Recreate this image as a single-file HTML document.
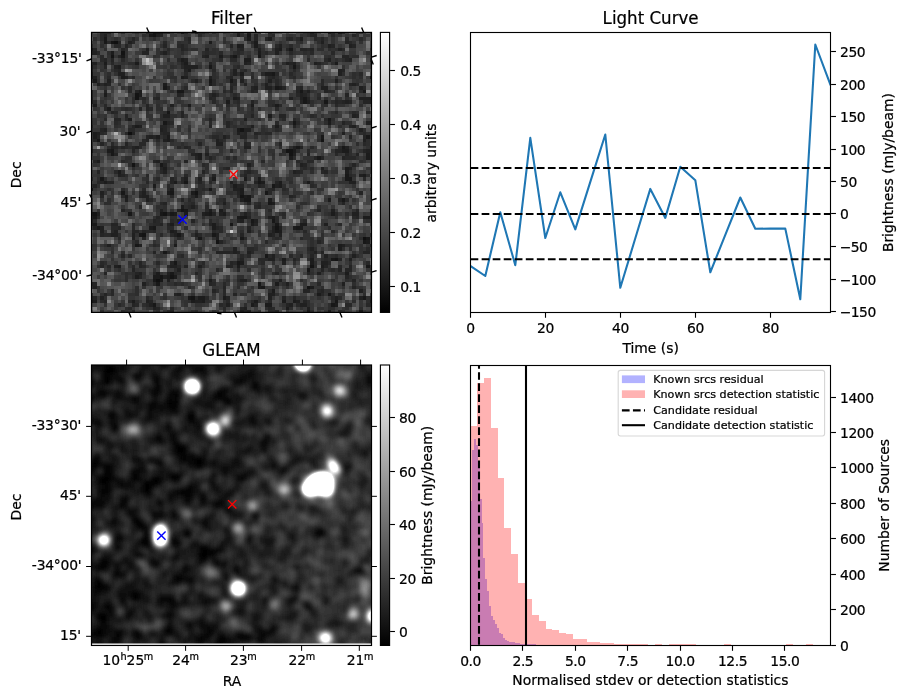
<!DOCTYPE html><html><head><meta charset="utf-8"><title>Candidate</title><style>html,body{margin:0;padding:0;background:#fff}svg{display:block}text{font-family:'DejaVu Sans','Liberation Sans',sans-serif;fill:#000;stroke:#000;stroke-width:0.22px}.t{font-size:13.89px}.T{font-size:16.67px}.l{font-size:11.11px}.s{font-size:9.72px}.n{letter-spacing:-0.45px}.w{letter-spacing:-0.22px}</style></head><body>
<svg width="907" height="699" viewBox="0 0 907 699">
<rect width="907" height="699" fill="#fff"/>
<defs><clipPath id="c1"><rect x="91.5" y="32.4" width="280.0" height="280.0"/></clipPath></defs>
<g clip-path="url(#c1)"><g transform="translate(89.5,30.4) scale(3.5)" shape-rendering="crispEdges">
<rect width="81" height="81" fill="#3c3c3c"/>
<path fill="#101010" d="M7 3h1v1h-1zM11 29h1v1h-1zM78 59h1v1h-1zM19 71h1v1h-1z"/>
<path fill="#141414" d="M18 0h1v1h-1zM18 1h1v1h-1zM6 3h1v1h-1zM9 6h1v1h-1zM6 7h1v1h-1zM13 18h1v1h-1zM13 19h1v1h-1zM43 28h1v1h-1zM66 31h1v1h-1zM56 34h1v1h-1zM57 34h1v1h-1zM57 35h1v1h-1zM12 38h1v1h-1zM0 45h1v1h-1zM30 46h1v1h-1zM43 47h1v1h-1zM26 51h1v1h-1zM1 52h1v1h-1zM21 52h1v1h-1zM53 56h1v1h-1zM15 58h1v1h-1zM36 60h1v1h-1zM70 65h1v1h-1zM63 67h1v1h-1zM20 70h1v1h-1zM23 70h1v1h-1zM62 73h1v1h-1zM29 76h1v1h-1z"/>
<path fill="#181818" d="M19 0h1v1h-1zM26 0h1v1h-1zM17 1h1v1h-1zM45 1h1v1h-1zM4 2h1v1h-1zM4 3h1v1h-1zM0 5h1v1h-1zM57 5h1v1h-1zM9 7h1v1h-1zM41 7h1v1h-1zM48 7h1v1h-1zM34 10h1v1h-1zM58 10h1v1h-1zM0 12h1v1h-1zM52 12h1v1h-1zM0 13h1v1h-1zM80 13h1v1h-1zM1 14h1v1h-1zM34 14h1v1h-1zM40 14h1v1h-1zM21 16h1v1h-1zM53 16h1v1h-1zM25 17h1v1h-1zM26 17h1v1h-1zM60 17h1v1h-1zM78 17h1v1h-1zM61 19h1v1h-1zM61 20h1v1h-1zM67 20h1v1h-1zM22 23h1v1h-1zM68 25h1v1h-1zM21 26h1v1h-1zM58 26h1v1h-1zM66 30h1v1h-1zM79 30h1v1h-1zM2 31h1v1h-1zM59 33h1v1h-1zM72 33h1v1h-1zM6 34h1v1h-1zM6 35h1v1h-1zM65 36h1v1h-1zM20 38h1v1h-1zM73 41h1v1h-1zM3 42h1v1h-1zM73 42h1v1h-1zM74 42h1v1h-1zM27 43h1v1h-1zM48 43h1v1h-1zM52 44h1v1h-1zM34 45h1v1h-1zM9 46h1v1h-1zM23 46h1v1h-1zM50 46h1v1h-1zM45 47h1v1h-1zM44 48h1v1h-1zM45 48h1v1h-1zM72 48h1v1h-1zM51 49h1v1h-1zM27 51h1v1h-1zM0 52h1v1h-1zM11 52h1v1h-1zM20 52h1v1h-1zM23 52h1v1h-1zM34 52h1v1h-1zM80 52h1v1h-1zM1 53h1v1h-1zM43 53h1v1h-1zM44 53h1v1h-1zM46 54h1v1h-1zM52 54h1v1h-1zM1 55h1v1h-1zM40 55h1v1h-1zM53 55h1v1h-1zM2 56h1v1h-1zM18 56h1v1h-1zM59 56h1v1h-1zM53 57h1v1h-1zM14 58h1v1h-1zM25 58h1v1h-1zM35 58h1v1h-1zM31 59h1v1h-1zM43 59h1v1h-1zM79 59h1v1h-1zM78 60h1v1h-1zM13 61h1v1h-1zM21 63h1v1h-1zM50 64h1v1h-1zM69 65h1v1h-1zM24 66h1v1h-1zM42 66h1v1h-1zM79 67h1v1h-1zM62 68h1v1h-1zM23 69h1v1h-1zM18 71h1v1h-1zM20 71h1v1h-1zM19 72h1v1h-1zM48 72h1v1h-1zM49 73h1v1h-1zM68 75h1v1h-1zM28 76h1v1h-1zM78 76h1v1h-1zM0 77h1v1h-1zM70 77h1v1h-1zM18 78h1v1h-1zM69 78h1v1h-1zM62 80h1v1h-1zM77 80h1v1h-1z"/>
<path fill="#1c1c1c" d="M20 0h1v1h-1zM71 0h1v1h-1zM42 1h1v1h-1zM45 2h1v1h-1zM51 2h1v1h-1zM60 2h1v1h-1zM34 3h1v1h-1zM47 3h1v1h-1zM42 4h1v1h-1zM47 4h1v1h-1zM54 5h1v1h-1zM6 6h1v1h-1zM48 6h1v1h-1zM37 7h1v1h-1zM26 8h1v1h-1zM44 8h1v1h-1zM45 8h1v1h-1zM4 9h1v1h-1zM13 9h1v1h-1zM27 9h1v1h-1zM70 9h1v1h-1zM0 10h1v1h-1zM8 10h1v1h-1zM28 11h1v1h-1zM43 12h1v1h-1zM50 12h1v1h-1zM51 12h1v1h-1zM9 13h1v1h-1zM26 13h1v1h-1zM21 15h1v1h-1zM34 15h1v1h-1zM54 16h1v1h-1zM14 17h1v1h-1zM4 18h1v1h-1zM14 18h1v1h-1zM41 19h1v1h-1zM39 20h1v1h-1zM1 21h1v1h-1zM28 21h1v1h-1zM46 21h1v1h-1zM53 21h1v1h-1zM5 22h1v1h-1zM51 24h1v1h-1zM11 25h1v1h-1zM68 26h1v1h-1zM13 27h1v1h-1zM53 27h1v1h-1zM42 28h1v1h-1zM1 29h1v1h-1zM1 30h1v1h-1zM19 30h1v1h-1zM22 30h1v1h-1zM22 31h1v1h-1zM0 34h1v1h-1zM5 34h1v1h-1zM58 34h1v1h-1zM72 34h1v1h-1zM73 34h1v1h-1zM31 35h1v1h-1zM79 35h1v1h-1zM31 36h1v1h-1zM57 36h1v1h-1zM79 36h1v1h-1zM2 37h1v1h-1zM21 39h1v1h-1zM73 39h1v1h-1zM8 40h1v1h-1zM73 40h1v1h-1zM78 41h1v1h-1zM35 42h1v1h-1zM44 42h1v1h-1zM48 42h1v1h-1zM4 43h1v1h-1zM24 43h1v1h-1zM49 43h1v1h-1zM54 43h1v1h-1zM62 43h1v1h-1zM18 44h1v1h-1zM41 44h1v1h-1zM54 44h1v1h-1zM23 45h1v1h-1zM43 45h1v1h-1zM22 46h1v1h-1zM29 46h1v1h-1zM43 46h1v1h-1zM10 47h1v1h-1zM30 47h1v1h-1zM44 47h1v1h-1zM51 48h1v1h-1zM68 48h1v1h-1zM52 49h1v1h-1zM26 50h1v1h-1zM34 51h1v1h-1zM37 51h1v1h-1zM24 52h1v1h-1zM27 52h1v1h-1zM33 52h1v1h-1zM38 52h1v1h-1zM69 52h1v1h-1zM42 53h1v1h-1zM52 53h1v1h-1zM78 53h1v1h-1zM79 53h1v1h-1zM80 53h1v1h-1zM0 55h1v1h-1zM23 55h1v1h-1zM35 55h1v1h-1zM46 55h1v1h-1zM60 55h1v1h-1zM61 55h1v1h-1zM17 56h1v1h-1zM35 56h1v1h-1zM58 56h1v1h-1zM60 56h1v1h-1zM23 57h1v1h-1zM54 57h1v1h-1zM79 60h1v1h-1zM24 61h1v1h-1zM71 61h1v1h-1zM71 62h1v1h-1zM55 65h1v1h-1zM63 65h1v1h-1zM43 66h1v1h-1zM63 66h1v1h-1zM8 67h1v1h-1zM42 67h1v1h-1zM66 67h1v1h-1zM19 69h1v1h-1zM73 69h1v1h-1zM13 70h1v1h-1zM18 70h1v1h-1zM19 70h1v1h-1zM22 70h1v1h-1zM24 70h1v1h-1zM34 71h1v1h-1zM53 72h1v1h-1zM48 73h1v1h-1zM63 73h1v1h-1zM52 74h1v1h-1zM65 75h1v1h-1zM31 76h1v1h-1zM32 76h1v1h-1zM38 76h1v1h-1zM1 77h1v1h-1zM12 77h1v1h-1zM29 77h1v1h-1zM32 77h1v1h-1zM47 77h1v1h-1zM55 77h1v1h-1zM58 77h1v1h-1zM80 77h1v1h-1zM46 78h1v1h-1zM50 78h1v1h-1zM51 78h1v1h-1zM70 78h1v1h-1zM56 79h1v1h-1zM43 80h1v1h-1zM68 80h1v1h-1z"/>
<path fill="#202020" d="M30 0h1v1h-1zM42 0h1v1h-1zM45 0h1v1h-1zM63 0h1v1h-1zM68 0h1v1h-1zM4 1h1v1h-1zM19 1h1v1h-1zM11 3h1v1h-1zM66 3h1v1h-1zM43 4h1v1h-1zM54 4h1v1h-1zM68 4h1v1h-1zM74 4h1v1h-1zM16 5h1v1h-1zM48 5h1v1h-1zM53 5h1v1h-1zM71 5h1v1h-1zM0 6h1v1h-1zM1 6h1v1h-1zM21 6h1v1h-1zM53 6h1v1h-1zM33 7h1v1h-1zM40 7h1v1h-1zM27 8h1v1h-1zM68 8h1v1h-1zM74 8h1v1h-1zM1 9h1v1h-1zM44 9h1v1h-1zM56 9h1v1h-1zM58 9h1v1h-1zM64 9h1v1h-1zM7 10h1v1h-1zM27 10h1v1h-1zM28 10h1v1h-1zM29 10h1v1h-1zM30 10h1v1h-1zM0 11h1v1h-1zM41 11h1v1h-1zM71 11h1v1h-1zM8 12h1v1h-1zM9 12h1v1h-1zM41 12h1v1h-1zM71 12h1v1h-1zM1 13h1v1h-1zM10 13h1v1h-1zM27 13h1v1h-1zM34 13h1v1h-1zM5 14h1v1h-1zM30 14h1v1h-1zM43 14h1v1h-1zM51 14h1v1h-1zM70 14h1v1h-1zM2 15h1v1h-1zM4 15h1v1h-1zM50 15h1v1h-1zM75 15h1v1h-1zM47 16h1v1h-1zM50 16h1v1h-1zM51 16h1v1h-1zM66 16h1v1h-1zM67 16h1v1h-1zM77 16h1v1h-1zM62 17h1v1h-1zM35 18h1v1h-1zM60 18h1v1h-1zM0 19h1v1h-1zM42 19h1v1h-1zM57 19h1v1h-1zM60 19h1v1h-1zM77 19h1v1h-1zM78 19h1v1h-1zM79 19h1v1h-1zM80 19h1v1h-1zM0 20h1v1h-1zM62 20h1v1h-1zM73 20h1v1h-1zM23 21h1v1h-1zM21 24h1v1h-1zM22 24h1v1h-1zM75 24h1v1h-1zM44 25h1v1h-1zM79 26h1v1h-1zM14 27h1v1h-1zM46 27h1v1h-1zM75 27h1v1h-1zM4 28h1v1h-1zM20 28h1v1h-1zM44 28h1v1h-1zM45 28h1v1h-1zM77 28h1v1h-1zM2 29h1v1h-1zM42 29h1v1h-1zM72 29h1v1h-1zM17 30h1v1h-1zM38 30h1v1h-1zM21 31h1v1h-1zM36 31h1v1h-1zM78 31h1v1h-1zM36 32h1v1h-1zM37 32h1v1h-1zM6 33h1v1h-1zM13 33h1v1h-1zM44 33h1v1h-1zM45 33h1v1h-1zM58 33h1v1h-1zM73 33h1v1h-1zM79 34h1v1h-1zM30 35h1v1h-1zM33 35h1v1h-1zM58 35h1v1h-1zM19 37h1v1h-1zM45 38h1v1h-1zM60 38h1v1h-1zM66 39h1v1h-1zM74 39h1v1h-1zM21 40h1v1h-1zM58 40h1v1h-1zM8 41h1v1h-1zM77 41h1v1h-1zM27 42h1v1h-1zM31 42h1v1h-1zM40 43h1v1h-1zM74 43h1v1h-1zM75 43h1v1h-1zM53 44h1v1h-1zM41 45h1v1h-1zM42 45h1v1h-1zM80 45h1v1h-1zM3 46h1v1h-1zM15 46h1v1h-1zM15 47h1v1h-1zM16 47h1v1h-1zM10 48h1v1h-1zM16 48h1v1h-1zM43 48h1v1h-1zM38 49h1v1h-1zM29 50h1v1h-1zM20 51h1v1h-1zM25 51h1v1h-1zM69 51h1v1h-1zM2 52h1v1h-1zM32 52h1v1h-1zM37 52h1v1h-1zM44 52h1v1h-1zM75 52h1v1h-1zM76 52h1v1h-1zM0 53h1v1h-1zM51 53h1v1h-1zM0 54h1v1h-1zM43 54h1v1h-1zM47 54h1v1h-1zM67 55h1v1h-1zM1 56h1v1h-1zM3 56h1v1h-1zM52 56h1v1h-1zM54 56h1v1h-1zM3 57h1v1h-1zM7 57h1v1h-1zM24 57h1v1h-1zM45 57h1v1h-1zM52 57h1v1h-1zM6 58h1v1h-1zM7 58h1v1h-1zM12 58h1v1h-1zM24 58h1v1h-1zM30 58h1v1h-1zM36 58h1v1h-1zM51 58h1v1h-1zM54 58h1v1h-1zM12 59h1v1h-1zM36 59h1v1h-1zM5 61h1v1h-1zM14 61h1v1h-1zM72 61h1v1h-1zM41 62h1v1h-1zM63 62h1v1h-1zM41 63h1v1h-1zM45 63h1v1h-1zM64 63h1v1h-1zM52 64h1v1h-1zM67 64h1v1h-1zM75 64h1v1h-1zM51 65h1v1h-1zM52 65h1v1h-1zM74 65h1v1h-1zM55 66h1v1h-1zM66 66h1v1h-1zM67 66h1v1h-1zM7 67h1v1h-1zM23 67h1v1h-1zM24 67h1v1h-1zM31 67h1v1h-1zM25 68h1v1h-1zM14 69h1v1h-1zM22 69h1v1h-1zM65 69h1v1h-1zM21 70h1v1h-1zM22 71h1v1h-1zM43 71h1v1h-1zM44 71h1v1h-1zM54 71h1v1h-1zM15 72h1v1h-1zM56 72h1v1h-1zM72 72h1v1h-1zM1 73h1v1h-1zM77 74h1v1h-1zM25 75h1v1h-1zM51 75h1v1h-1zM52 75h1v1h-1zM0 76h1v1h-1zM3 76h1v1h-1zM51 76h1v1h-1zM70 76h1v1h-1zM77 76h1v1h-1zM16 77h1v1h-1zM30 77h1v1h-1zM31 77h1v1h-1zM59 77h1v1h-1zM17 78h1v1h-1zM39 78h1v1h-1zM57 78h1v1h-1zM60 78h1v1h-1zM61 78h1v1h-1zM18 79h1v1h-1zM44 79h1v1h-1zM62 79h1v1h-1zM45 80h1v1h-1z"/>
<path fill="#242424" d="M17 0h1v1h-1zM20 1h1v1h-1zM47 1h1v1h-1zM63 1h1v1h-1zM64 1h1v1h-1zM75 1h1v1h-1zM12 2h1v1h-1zM28 2h1v1h-1zM47 2h1v1h-1zM50 2h1v1h-1zM57 2h1v1h-1zM66 2h1v1h-1zM8 3h1v1h-1zM73 3h1v1h-1zM10 4h1v1h-1zM21 4h1v1h-1zM26 4h1v1h-1zM40 4h1v1h-1zM69 4h1v1h-1zM75 4h1v1h-1zM1 5h1v1h-1zM9 5h1v1h-1zM26 5h1v1h-1zM33 5h1v1h-1zM43 5h1v1h-1zM56 5h1v1h-1zM60 5h1v1h-1zM61 5h1v1h-1zM63 5h1v1h-1zM15 6h1v1h-1zM16 6h1v1h-1zM8 7h1v1h-1zM32 7h1v1h-1zM72 7h1v1h-1zM73 7h1v1h-1zM4 8h1v1h-1zM6 8h1v1h-1zM73 8h1v1h-1zM80 8h1v1h-1zM0 9h1v1h-1zM26 9h1v1h-1zM34 9h1v1h-1zM45 9h1v1h-1zM57 9h1v1h-1zM65 9h1v1h-1zM4 10h1v1h-1zM8 11h1v1h-1zM27 11h1v1h-1zM72 11h1v1h-1zM40 13h1v1h-1zM52 13h1v1h-1zM5 15h1v1h-1zM44 15h1v1h-1zM74 15h1v1h-1zM22 16h1v1h-1zM40 16h1v1h-1zM46 16h1v1h-1zM55 16h1v1h-1zM60 16h1v1h-1zM0 17h1v1h-1zM4 17h1v1h-1zM13 17h1v1h-1zM40 17h1v1h-1zM46 17h1v1h-1zM59 17h1v1h-1zM67 17h1v1h-1zM0 18h1v1h-1zM25 18h1v1h-1zM61 18h1v1h-1zM73 18h1v1h-1zM19 19h1v1h-1zM34 19h1v1h-1zM62 19h1v1h-1zM46 20h1v1h-1zM60 20h1v1h-1zM70 20h1v1h-1zM72 20h1v1h-1zM74 20h1v1h-1zM78 20h1v1h-1zM79 20h1v1h-1zM80 20h1v1h-1zM16 21h1v1h-1zM14 22h1v1h-1zM16 22h1v1h-1zM6 23h1v1h-1zM26 23h1v1h-1zM10 24h1v1h-1zM26 24h1v1h-1zM46 24h1v1h-1zM54 24h1v1h-1zM55 24h1v1h-1zM76 24h1v1h-1zM7 25h1v1h-1zM8 25h1v1h-1zM34 25h1v1h-1zM22 26h1v1h-1zM39 26h1v1h-1zM72 26h1v1h-1zM80 26h1v1h-1zM0 27h1v1h-1zM12 27h1v1h-1zM20 27h1v1h-1zM21 27h1v1h-1zM34 27h1v1h-1zM39 27h1v1h-1zM58 27h1v1h-1zM74 27h1v1h-1zM3 28h1v1h-1zM21 28h1v1h-1zM12 29h1v1h-1zM21 29h1v1h-1zM22 29h1v1h-1zM44 29h1v1h-1zM47 29h1v1h-1zM2 30h1v1h-1zM16 30h1v1h-1zM18 30h1v1h-1zM43 30h1v1h-1zM44 30h1v1h-1zM74 30h1v1h-1zM78 30h1v1h-1zM1 31h1v1h-1zM16 31h1v1h-1zM3 32h1v1h-1zM10 32h1v1h-1zM31 32h1v1h-1zM44 32h1v1h-1zM54 32h1v1h-1zM7 33h1v1h-1zM9 33h1v1h-1zM12 33h1v1h-1zM27 33h1v1h-1zM60 33h1v1h-1zM12 34h1v1h-1zM70 34h1v1h-1zM71 34h1v1h-1zM78 34h1v1h-1zM7 35h1v1h-1zM29 35h1v1h-1zM62 35h1v1h-1zM73 35h1v1h-1zM76 35h1v1h-1zM30 36h1v1h-1zM34 36h1v1h-1zM64 36h1v1h-1zM66 36h1v1h-1zM72 36h1v1h-1zM1 37h1v1h-1zM18 37h1v1h-1zM27 37h1v1h-1zM21 38h1v1h-1zM61 38h1v1h-1zM75 38h1v1h-1zM20 39h1v1h-1zM39 39h1v1h-1zM2 40h1v1h-1zM32 40h1v1h-1zM45 40h1v1h-1zM59 40h1v1h-1zM67 40h1v1h-1zM9 41h1v1h-1zM35 41h1v1h-1zM44 41h1v1h-1zM23 42h1v1h-1zM3 43h1v1h-1zM5 43h1v1h-1zM6 43h1v1h-1zM23 43h1v1h-1zM31 43h1v1h-1zM47 43h1v1h-1zM53 43h1v1h-1zM1 44h1v1h-1zM42 44h1v1h-1zM43 44h1v1h-1zM48 44h1v1h-1zM52 45h1v1h-1zM42 46h1v1h-1zM77 46h1v1h-1zM3 47h1v1h-1zM14 47h1v1h-1zM57 47h1v1h-1zM26 48h1v1h-1zM71 48h1v1h-1zM21 49h1v1h-1zM45 49h1v1h-1zM72 49h1v1h-1zM14 50h1v1h-1zM48 50h1v1h-1zM9 51h1v1h-1zM65 51h1v1h-1zM76 51h1v1h-1zM80 51h1v1h-1zM22 52h1v1h-1zM35 52h1v1h-1zM19 53h1v1h-1zM45 53h1v1h-1zM76 53h1v1h-1zM18 54h1v1h-1zM25 54h1v1h-1zM29 54h1v1h-1zM42 54h1v1h-1zM6 55h1v1h-1zM7 55h1v1h-1zM20 55h1v1h-1zM22 55h1v1h-1zM34 55h1v1h-1zM47 55h1v1h-1zM8 56h1v1h-1zM36 56h1v1h-1zM45 56h1v1h-1zM12 57h1v1h-1zM13 57h1v1h-1zM15 57h1v1h-1zM18 57h1v1h-1zM3 58h1v1h-1zM43 58h1v1h-1zM52 58h1v1h-1zM15 59h1v1h-1zM37 60h1v1h-1zM65 60h1v1h-1zM18 63h1v1h-1zM36 63h1v1h-1zM37 63h1v1h-1zM38 63h1v1h-1zM39 63h1v1h-1zM42 63h1v1h-1zM66 63h1v1h-1zM78 63h1v1h-1zM79 63h1v1h-1zM9 64h1v1h-1zM63 64h1v1h-1zM43 65h1v1h-1zM58 65h1v1h-1zM71 65h1v1h-1zM14 66h1v1h-1zM23 66h1v1h-1zM40 66h1v1h-1zM3 67h1v1h-1zM14 67h1v1h-1zM27 67h1v1h-1zM39 67h1v1h-1zM40 67h1v1h-1zM67 67h1v1h-1zM74 67h1v1h-1zM12 68h1v1h-1zM66 68h1v1h-1zM71 68h1v1h-1zM73 68h1v1h-1zM74 68h1v1h-1zM4 69h1v1h-1zM13 69h1v1h-1zM30 69h1v1h-1zM53 69h1v1h-1zM62 69h1v1h-1zM14 70h1v1h-1zM73 70h1v1h-1zM75 71h1v1h-1zM0 72h1v1h-1zM1 72h1v1h-1zM34 72h1v1h-1zM38 73h1v1h-1zM75 73h1v1h-1zM35 74h1v1h-1zM61 74h1v1h-1zM62 74h1v1h-1zM66 74h1v1h-1zM4 75h1v1h-1zM24 75h1v1h-1zM41 75h1v1h-1zM1 76h1v1h-1zM39 76h1v1h-1zM55 76h1v1h-1zM58 76h1v1h-1zM80 76h1v1h-1zM4 77h1v1h-1zM17 77h1v1h-1zM61 77h1v1h-1zM12 78h1v1h-1zM47 78h1v1h-1zM56 78h1v1h-1zM19 79h1v1h-1zM43 79h1v1h-1zM51 79h1v1h-1zM23 80h1v1h-1zM44 80h1v1h-1zM53 80h1v1h-1z"/>
<path fill="#282828" d="M3 0h1v1h-1zM4 0h1v1h-1zM5 0h1v1h-1zM16 0h1v1h-1zM27 0h1v1h-1zM31 0h1v1h-1zM32 0h1v1h-1zM51 0h1v1h-1zM69 0h1v1h-1zM72 0h1v1h-1zM3 1h1v1h-1zM31 1h1v1h-1zM52 1h1v1h-1zM69 1h1v1h-1zM3 2h1v1h-1zM56 2h1v1h-1zM59 2h1v1h-1zM64 2h1v1h-1zM73 2h1v1h-1zM77 2h1v1h-1zM5 3h1v1h-1zM12 3h1v1h-1zM21 3h1v1h-1zM28 3h1v1h-1zM46 3h1v1h-1zM74 3h1v1h-1zM7 4h1v1h-1zM8 4h1v1h-1zM25 4h1v1h-1zM53 4h1v1h-1zM57 4h1v1h-1zM22 5h1v1h-1zM27 5h1v1h-1zM42 5h1v1h-1zM62 5h1v1h-1zM72 5h1v1h-1zM2 6h1v1h-1zM20 6h1v1h-1zM33 6h1v1h-1zM37 6h1v1h-1zM42 6h1v1h-1zM50 6h1v1h-1zM57 6h1v1h-1zM63 6h1v1h-1zM69 6h1v1h-1zM3 7h1v1h-1zM3 8h1v1h-1zM9 8h1v1h-1zM25 8h1v1h-1zM37 8h1v1h-1zM40 8h1v1h-1zM41 8h1v1h-1zM62 8h1v1h-1zM67 8h1v1h-1zM6 9h1v1h-1zM26 10h1v1h-1zM42 10h1v1h-1zM7 11h1v1h-1zM35 11h1v1h-1zM44 11h1v1h-1zM58 11h1v1h-1zM27 12h1v1h-1zM49 12h1v1h-1zM53 12h1v1h-1zM57 12h1v1h-1zM77 12h1v1h-1zM5 13h1v1h-1zM12 13h1v1h-1zM39 13h1v1h-1zM43 13h1v1h-1zM46 13h1v1h-1zM51 13h1v1h-1zM58 13h1v1h-1zM29 14h1v1h-1zM35 14h1v1h-1zM41 14h1v1h-1zM53 14h1v1h-1zM66 14h1v1h-1zM3 15h1v1h-1zM35 15h1v1h-1zM40 15h1v1h-1zM41 15h1v1h-1zM53 15h1v1h-1zM66 15h1v1h-1zM76 15h1v1h-1zM11 16h1v1h-1zM27 16h1v1h-1zM59 16h1v1h-1zM78 16h1v1h-1zM11 17h1v1h-1zM38 17h1v1h-1zM47 17h1v1h-1zM61 17h1v1h-1zM68 17h1v1h-1zM77 17h1v1h-1zM26 18h1v1h-1zM34 18h1v1h-1zM36 18h1v1h-1zM41 18h1v1h-1zM59 18h1v1h-1zM15 19h1v1h-1zM18 19h1v1h-1zM35 19h1v1h-1zM65 19h1v1h-1zM1 20h1v1h-1zM35 20h1v1h-1zM42 20h1v1h-1zM71 20h1v1h-1zM4 21h1v1h-1zM39 21h1v1h-1zM52 21h1v1h-1zM54 21h1v1h-1zM70 21h1v1h-1zM4 22h1v1h-1zM10 22h1v1h-1zM17 22h1v1h-1zM46 22h1v1h-1zM53 22h1v1h-1zM7 23h1v1h-1zM70 23h1v1h-1zM75 23h1v1h-1zM79 23h1v1h-1zM63 24h1v1h-1zM4 25h1v1h-1zM10 25h1v1h-1zM55 25h1v1h-1zM58 25h1v1h-1zM67 25h1v1h-1zM7 26h1v1h-1zM23 26h1v1h-1zM34 26h1v1h-1zM53 26h1v1h-1zM59 26h1v1h-1zM11 28h1v1h-1zM12 28h1v1h-1zM53 28h1v1h-1zM3 29h1v1h-1zM10 29h1v1h-1zM20 29h1v1h-1zM43 29h1v1h-1zM48 29h1v1h-1zM50 29h1v1h-1zM51 29h1v1h-1zM78 29h1v1h-1zM21 30h1v1h-1zM35 30h1v1h-1zM36 30h1v1h-1zM39 30h1v1h-1zM15 31h1v1h-1zM19 31h1v1h-1zM23 31h1v1h-1zM37 31h1v1h-1zM6 32h1v1h-1zM14 32h1v1h-1zM15 32h1v1h-1zM45 32h1v1h-1zM78 32h1v1h-1zM0 33h1v1h-1zM10 33h1v1h-1zM14 33h1v1h-1zM25 33h1v1h-1zM28 33h1v1h-1zM63 33h1v1h-1zM71 33h1v1h-1zM80 33h1v1h-1zM40 34h1v1h-1zM55 34h1v1h-1zM62 34h1v1h-1zM80 34h1v1h-1zM70 35h1v1h-1zM39 36h1v1h-1zM41 36h1v1h-1zM73 36h1v1h-1zM74 36h1v1h-1zM75 36h1v1h-1zM80 36h1v1h-1zM9 37h1v1h-1zM49 37h1v1h-1zM59 37h1v1h-1zM62 37h1v1h-1zM63 37h1v1h-1zM32 38h1v1h-1zM38 39h1v1h-1zM61 39h1v1h-1zM63 39h1v1h-1zM7 40h1v1h-1zM20 40h1v1h-1zM44 40h1v1h-1zM60 40h1v1h-1zM66 40h1v1h-1zM16 41h1v1h-1zM27 41h1v1h-1zM74 41h1v1h-1zM0 42h1v1h-1zM19 42h1v1h-1zM26 42h1v1h-1zM78 42h1v1h-1zM2 43h1v1h-1zM16 43h1v1h-1zM26 43h1v1h-1zM34 43h1v1h-1zM22 44h1v1h-1zM49 44h1v1h-1zM63 44h1v1h-1zM9 45h1v1h-1zM15 45h1v1h-1zM22 45h1v1h-1zM30 45h1v1h-1zM32 45h1v1h-1zM51 45h1v1h-1zM55 45h1v1h-1zM14 46h1v1h-1zM51 46h1v1h-1zM9 47h1v1h-1zM23 47h1v1h-1zM29 47h1v1h-1zM42 47h1v1h-1zM58 47h1v1h-1zM17 48h1v1h-1zM28 48h1v1h-1zM38 48h1v1h-1zM73 48h1v1h-1zM20 49h1v1h-1zM29 49h1v1h-1zM48 49h1v1h-1zM28 50h1v1h-1zM33 50h1v1h-1zM47 50h1v1h-1zM33 51h1v1h-1zM51 51h1v1h-1zM45 52h1v1h-1zM55 52h1v1h-1zM70 52h1v1h-1zM2 53h1v1h-1zM53 53h1v1h-1zM75 53h1v1h-1zM1 54h1v1h-1zM19 54h1v1h-1zM23 54h1v1h-1zM34 54h1v1h-1zM53 54h1v1h-1zM61 54h1v1h-1zM12 55h1v1h-1zM18 55h1v1h-1zM19 55h1v1h-1zM71 55h1v1h-1zM6 56h1v1h-1zM7 56h1v1h-1zM12 56h1v1h-1zM22 56h1v1h-1zM23 56h1v1h-1zM37 56h1v1h-1zM6 57h1v1h-1zM16 57h1v1h-1zM17 57h1v1h-1zM35 57h1v1h-1zM37 57h1v1h-1zM61 57h1v1h-1zM69 57h1v1h-1zM4 58h1v1h-1zM5 58h1v1h-1zM20 58h1v1h-1zM23 58h1v1h-1zM26 58h1v1h-1zM31 58h1v1h-1zM8 59h1v1h-1zM25 59h1v1h-1zM44 59h1v1h-1zM53 59h1v1h-1zM60 59h1v1h-1zM13 60h1v1h-1zM50 60h1v1h-1zM18 61h1v1h-1zM80 61h1v1h-1zM45 62h1v1h-1zM46 62h1v1h-1zM62 62h1v1h-1zM79 62h1v1h-1zM22 63h1v1h-1zM40 63h1v1h-1zM46 63h1v1h-1zM63 63h1v1h-1zM11 64h1v1h-1zM26 64h1v1h-1zM43 64h1v1h-1zM45 64h1v1h-1zM51 64h1v1h-1zM57 64h1v1h-1zM60 64h1v1h-1zM70 64h1v1h-1zM48 65h1v1h-1zM49 65h1v1h-1zM50 65h1v1h-1zM67 65h1v1h-1zM3 66h1v1h-1zM19 66h1v1h-1zM32 66h1v1h-1zM41 66h1v1h-1zM49 66h1v1h-1zM68 66h1v1h-1zM79 66h1v1h-1zM5 67h1v1h-1zM12 67h1v1h-1zM15 67h1v1h-1zM22 67h1v1h-1zM25 67h1v1h-1zM71 67h1v1h-1zM36 68h1v1h-1zM42 68h1v1h-1zM69 68h1v1h-1zM18 69h1v1h-1zM24 69h1v1h-1zM42 71h1v1h-1zM18 72h1v1h-1zM24 72h1v1h-1zM26 72h1v1h-1zM35 72h1v1h-1zM38 72h1v1h-1zM65 72h1v1h-1zM28 73h1v1h-1zM6 74h1v1h-1zM38 74h1v1h-1zM65 74h1v1h-1zM6 75h1v1h-1zM38 75h1v1h-1zM66 75h1v1h-1zM16 76h1v1h-1zM30 76h1v1h-1zM33 76h1v1h-1zM69 76h1v1h-1zM71 76h1v1h-1zM3 77h1v1h-1zM11 77h1v1h-1zM39 77h1v1h-1zM46 77h1v1h-1zM51 77h1v1h-1zM8 78h1v1h-1zM13 78h1v1h-1zM16 78h1v1h-1zM37 78h1v1h-1zM59 78h1v1h-1zM73 78h1v1h-1zM74 78h1v1h-1zM79 78h1v1h-1zM80 78h1v1h-1zM11 79h1v1h-1zM23 79h1v1h-1zM38 79h1v1h-1zM52 79h1v1h-1zM12 80h1v1h-1zM22 80h1v1h-1zM30 80h1v1h-1zM51 80h1v1h-1zM52 80h1v1h-1zM71 80h1v1h-1z"/>
<path fill="#2d2d2d" d="M21 0h1v1h-1zM22 0h1v1h-1zM35 0h1v1h-1zM62 0h1v1h-1zM64 0h1v1h-1zM15 1h1v1h-1zM43 1h1v1h-1zM51 1h1v1h-1zM62 1h1v1h-1zM76 1h1v1h-1zM1 2h1v1h-1zM7 2h1v1h-1zM18 2h1v1h-1zM27 2h1v1h-1zM44 2h1v1h-1zM65 2h1v1h-1zM25 3h1v1h-1zM38 3h1v1h-1zM60 3h1v1h-1zM65 3h1v1h-1zM0 4h1v1h-1zM3 4h1v1h-1zM27 4h1v1h-1zM48 4h1v1h-1zM66 4h1v1h-1zM4 5h1v1h-1zM10 5h1v1h-1zM29 5h1v1h-1zM30 5h1v1h-1zM35 5h1v1h-1zM65 5h1v1h-1zM66 5h1v1h-1zM68 5h1v1h-1zM70 5h1v1h-1zM5 6h1v1h-1zM22 6h1v1h-1zM26 6h1v1h-1zM32 6h1v1h-1zM34 6h1v1h-1zM35 6h1v1h-1zM41 6h1v1h-1zM43 6h1v1h-1zM49 6h1v1h-1zM61 6h1v1h-1zM18 7h1v1h-1zM42 7h1v1h-1zM45 7h1v1h-1zM68 7h1v1h-1zM75 7h1v1h-1zM76 7h1v1h-1zM22 8h1v1h-1zM70 8h1v1h-1zM72 8h1v1h-1zM11 9h1v1h-1zM12 9h1v1h-1zM55 9h1v1h-1zM66 9h1v1h-1zM69 9h1v1h-1zM1 10h1v1h-1zM23 10h1v1h-1zM35 10h1v1h-1zM41 10h1v1h-1zM57 10h1v1h-1zM59 10h1v1h-1zM43 11h1v1h-1zM5 12h1v1h-1zM35 12h1v1h-1zM40 12h1v1h-1zM42 12h1v1h-1zM46 12h1v1h-1zM72 12h1v1h-1zM75 12h1v1h-1zM23 13h1v1h-1zM24 13h1v1h-1zM35 13h1v1h-1zM53 13h1v1h-1zM57 13h1v1h-1zM75 13h1v1h-1zM77 13h1v1h-1zM0 14h1v1h-1zM47 15h1v1h-1zM52 16h1v1h-1zM70 16h1v1h-1zM23 17h1v1h-1zM51 17h1v1h-1zM69 17h1v1h-1zM19 18h1v1h-1zM62 18h1v1h-1zM65 18h1v1h-1zM12 19h1v1h-1zM14 19h1v1h-1zM39 19h1v1h-1zM67 19h1v1h-1zM70 19h1v1h-1zM73 19h1v1h-1zM12 20h1v1h-1zM15 20h1v1h-1zM41 20h1v1h-1zM51 20h1v1h-1zM52 20h1v1h-1zM63 20h1v1h-1zM69 20h1v1h-1zM19 21h1v1h-1zM42 21h1v1h-1zM51 21h1v1h-1zM67 21h1v1h-1zM77 21h1v1h-1zM9 22h1v1h-1zM11 22h1v1h-1zM19 22h1v1h-1zM20 22h1v1h-1zM42 22h1v1h-1zM48 22h1v1h-1zM57 22h1v1h-1zM58 22h1v1h-1zM21 23h1v1h-1zM46 23h1v1h-1zM76 23h1v1h-1zM20 24h1v1h-1zM23 24h1v1h-1zM24 24h1v1h-1zM38 24h1v1h-1zM64 24h1v1h-1zM20 25h1v1h-1zM21 25h1v1h-1zM22 25h1v1h-1zM48 25h1v1h-1zM69 25h1v1h-1zM0 26h1v1h-1zM8 26h1v1h-1zM40 26h1v1h-1zM67 26h1v1h-1zM73 26h1v1h-1zM74 26h1v1h-1zM7 27h1v1h-1zM22 27h1v1h-1zM41 27h1v1h-1zM45 27h1v1h-1zM71 27h1v1h-1zM0 28h1v1h-1zM28 28h1v1h-1zM49 28h1v1h-1zM54 28h1v1h-1zM78 28h1v1h-1zM4 29h1v1h-1zM49 29h1v1h-1zM77 29h1v1h-1zM47 30h1v1h-1zM38 31h1v1h-1zM65 31h1v1h-1zM79 31h1v1h-1zM26 32h1v1h-1zM76 32h1v1h-1zM79 32h1v1h-1zM5 33h1v1h-1zM8 33h1v1h-1zM11 33h1v1h-1zM54 33h1v1h-1zM57 33h1v1h-1zM7 34h1v1h-1zM28 34h1v1h-1zM29 34h1v1h-1zM33 34h1v1h-1zM59 34h1v1h-1zM74 34h1v1h-1zM5 35h1v1h-1zM52 35h1v1h-1zM54 35h1v1h-1zM74 35h1v1h-1zM80 35h1v1h-1zM10 36h1v1h-1zM11 36h1v1h-1zM33 36h1v1h-1zM35 36h1v1h-1zM58 36h1v1h-1zM10 37h1v1h-1zM21 37h1v1h-1zM22 37h1v1h-1zM77 37h1v1h-1zM11 38h1v1h-1zM13 38h1v1h-1zM33 38h1v1h-1zM46 38h1v1h-1zM12 39h1v1h-1zM33 39h1v1h-1zM60 39h1v1h-1zM9 40h1v1h-1zM46 40h1v1h-1zM63 40h1v1h-1zM74 40h1v1h-1zM10 41h1v1h-1zM43 41h1v1h-1zM75 41h1v1h-1zM79 41h1v1h-1zM2 42h1v1h-1zM4 42h1v1h-1zM16 42h1v1h-1zM24 42h1v1h-1zM34 42h1v1h-1zM57 43h1v1h-1zM61 43h1v1h-1zM63 43h1v1h-1zM0 44h1v1h-1zM31 44h1v1h-1zM32 44h1v1h-1zM40 44h1v1h-1zM55 44h1v1h-1zM64 44h1v1h-1zM5 45h1v1h-1zM31 45h1v1h-1zM33 45h1v1h-1zM46 45h1v1h-1zM56 45h1v1h-1zM31 46h1v1h-1zM39 46h1v1h-1zM40 46h1v1h-1zM63 46h1v1h-1zM46 47h1v1h-1zM5 48h1v1h-1zM37 48h1v1h-1zM4 49h1v1h-1zM5 49h1v1h-1zM28 49h1v1h-1zM36 49h1v1h-1zM47 49h1v1h-1zM60 49h1v1h-1zM61 49h1v1h-1zM19 50h1v1h-1zM21 50h1v1h-1zM27 50h1v1h-1zM30 50h1v1h-1zM59 50h1v1h-1zM65 50h1v1h-1zM21 51h1v1h-1zM28 51h1v1h-1zM38 51h1v1h-1zM43 52h1v1h-1zM54 52h1v1h-1zM68 52h1v1h-1zM73 52h1v1h-1zM20 53h1v1h-1zM23 53h1v1h-1zM24 53h1v1h-1zM32 53h1v1h-1zM55 53h1v1h-1zM70 53h1v1h-1zM24 54h1v1h-1zM79 54h1v1h-1zM17 55h1v1h-1zM36 55h1v1h-1zM52 55h1v1h-1zM27 56h1v1h-1zM68 56h1v1h-1zM30 57h1v1h-1zM36 57h1v1h-1zM43 57h1v1h-1zM51 57h1v1h-1zM8 58h1v1h-1zM66 58h1v1h-1zM52 59h1v1h-1zM54 59h1v1h-1zM63 59h1v1h-1zM65 59h1v1h-1zM66 59h1v1h-1zM77 59h1v1h-1zM24 60h1v1h-1zM63 60h1v1h-1zM66 60h1v1h-1zM4 61h1v1h-1zM19 61h1v1h-1zM55 61h1v1h-1zM63 61h1v1h-1zM73 61h1v1h-1zM74 61h1v1h-1zM31 62h1v1h-1zM47 62h1v1h-1zM64 62h1v1h-1zM72 62h1v1h-1zM74 62h1v1h-1zM6 63h1v1h-1zM9 63h1v1h-1zM62 63h1v1h-1zM25 64h1v1h-1zM69 64h1v1h-1zM76 64h1v1h-1zM42 65h1v1h-1zM59 65h1v1h-1zM62 65h1v1h-1zM66 65h1v1h-1zM68 65h1v1h-1zM4 66h1v1h-1zM48 66h1v1h-1zM58 66h1v1h-1zM64 66h1v1h-1zM74 66h1v1h-1zM32 67h1v1h-1zM64 67h1v1h-1zM8 68h1v1h-1zM24 68h1v1h-1zM45 68h1v1h-1zM49 68h1v1h-1zM68 68h1v1h-1zM10 69h1v1h-1zM12 69h1v1h-1zM25 69h1v1h-1zM49 69h1v1h-1zM52 69h1v1h-1zM63 69h1v1h-1zM10 70h1v1h-1zM12 70h1v1h-1zM42 70h1v1h-1zM43 70h1v1h-1zM74 70h1v1h-1zM10 71h1v1h-1zM35 71h1v1h-1zM39 71h1v1h-1zM60 71h1v1h-1zM69 71h1v1h-1zM73 71h1v1h-1zM25 72h1v1h-1zM55 72h1v1h-1zM75 72h1v1h-1zM0 73h1v1h-1zM13 73h1v1h-1zM42 73h1v1h-1zM56 73h1v1h-1zM66 73h1v1h-1zM13 74h1v1h-1zM36 74h1v1h-1zM51 74h1v1h-1zM13 75h1v1h-1zM69 75h1v1h-1zM78 75h1v1h-1zM4 76h1v1h-1zM21 76h1v1h-1zM79 76h1v1h-1zM13 77h1v1h-1zM28 77h1v1h-1zM33 77h1v1h-1zM62 77h1v1h-1zM69 77h1v1h-1zM75 77h1v1h-1zM79 77h1v1h-1zM15 78h1v1h-1zM38 78h1v1h-1zM44 78h1v1h-1zM62 78h1v1h-1zM68 78h1v1h-1zM10 79h1v1h-1zM50 79h1v1h-1zM57 79h1v1h-1zM68 79h1v1h-1zM69 79h1v1h-1zM73 79h1v1h-1zM77 79h1v1h-1zM3 80h1v1h-1zM9 80h1v1h-1zM19 80h1v1h-1zM29 80h1v1h-1zM38 80h1v1h-1zM63 80h1v1h-1zM72 80h1v1h-1z"/>
<path fill="#313131" d="M9 0h1v1h-1zM13 0h1v1h-1zM43 0h1v1h-1zM76 0h1v1h-1zM77 0h1v1h-1zM16 1h1v1h-1zM57 1h1v1h-1zM60 1h1v1h-1zM71 1h1v1h-1zM11 2h1v1h-1zM13 2h1v1h-1zM38 2h1v1h-1zM58 2h1v1h-1zM67 2h1v1h-1zM69 2h1v1h-1zM3 3h1v1h-1zM26 3h1v1h-1zM27 3h1v1h-1zM54 3h1v1h-1zM59 3h1v1h-1zM69 3h1v1h-1zM75 3h1v1h-1zM77 3h1v1h-1zM11 4h1v1h-1zM20 4h1v1h-1zM56 4h1v1h-1zM67 4h1v1h-1zM19 5h1v1h-1zM28 5h1v1h-1zM36 5h1v1h-1zM47 5h1v1h-1zM49 5h1v1h-1zM52 5h1v1h-1zM69 5h1v1h-1zM80 5h1v1h-1zM10 6h1v1h-1zM19 6h1v1h-1zM36 6h1v1h-1zM58 6h1v1h-1zM62 6h1v1h-1zM79 6h1v1h-1zM5 7h1v1h-1zM10 7h1v1h-1zM19 7h1v1h-1zM38 7h1v1h-1zM39 7h1v1h-1zM49 7h1v1h-1zM67 7h1v1h-1zM74 7h1v1h-1zM13 8h1v1h-1zM35 8h1v1h-1zM36 8h1v1h-1zM3 9h1v1h-1zM9 9h1v1h-1zM25 9h1v1h-1zM35 9h1v1h-1zM50 9h1v1h-1zM53 9h1v1h-1zM67 9h1v1h-1zM13 10h1v1h-1zM24 10h1v1h-1zM31 10h1v1h-1zM72 10h1v1h-1zM3 11h1v1h-1zM6 11h1v1h-1zM38 11h1v1h-1zM40 11h1v1h-1zM7 12h1v1h-1zM22 12h1v1h-1zM23 12h1v1h-1zM58 12h1v1h-1zM76 12h1v1h-1zM11 13h1v1h-1zM36 13h1v1h-1zM70 13h1v1h-1zM2 14h1v1h-1zM24 14h1v1h-1zM31 14h1v1h-1zM39 14h1v1h-1zM46 14h1v1h-1zM47 14h1v1h-1zM50 14h1v1h-1zM52 14h1v1h-1zM54 14h1v1h-1zM76 14h1v1h-1zM8 15h1v1h-1zM37 15h1v1h-1zM49 15h1v1h-1zM51 15h1v1h-1zM54 15h1v1h-1zM4 16h1v1h-1zM9 16h1v1h-1zM26 16h1v1h-1zM38 16h1v1h-1zM27 17h1v1h-1zM39 17h1v1h-1zM63 17h1v1h-1zM40 18h1v1h-1zM42 18h1v1h-1zM4 19h1v1h-1zM58 19h1v1h-1zM3 20h1v1h-1zM19 20h1v1h-1zM21 20h1v1h-1zM25 20h1v1h-1zM47 20h1v1h-1zM66 20h1v1h-1zM26 21h1v1h-1zM27 21h1v1h-1zM36 21h1v1h-1zM45 21h1v1h-1zM63 21h1v1h-1zM66 21h1v1h-1zM71 21h1v1h-1zM72 21h1v1h-1zM1 22h1v1h-1zM22 22h1v1h-1zM39 22h1v1h-1zM56 22h1v1h-1zM16 23h1v1h-1zM20 23h1v1h-1zM45 23h1v1h-1zM69 23h1v1h-1zM74 23h1v1h-1zM2 24h1v1h-1zM4 24h1v1h-1zM7 24h1v1h-1zM16 24h1v1h-1zM17 24h1v1h-1zM27 24h1v1h-1zM34 24h1v1h-1zM44 24h1v1h-1zM45 24h1v1h-1zM66 24h1v1h-1zM0 25h1v1h-1zM17 25h1v1h-1zM23 25h1v1h-1zM33 25h1v1h-1zM35 25h1v1h-1zM38 25h1v1h-1zM41 25h1v1h-1zM51 25h1v1h-1zM54 25h1v1h-1zM59 25h1v1h-1zM3 26h1v1h-1zM13 26h1v1h-1zM14 26h1v1h-1zM38 26h1v1h-1zM43 26h1v1h-1zM57 26h1v1h-1zM69 26h1v1h-1zM3 27h1v1h-1zM8 27h1v1h-1zM11 27h1v1h-1zM25 27h1v1h-1zM28 27h1v1h-1zM40 27h1v1h-1zM44 27h1v1h-1zM49 27h1v1h-1zM52 27h1v1h-1zM54 27h1v1h-1zM68 27h1v1h-1zM22 28h1v1h-1zM25 28h1v1h-1zM50 28h1v1h-1zM52 28h1v1h-1zM0 29h1v1h-1zM36 29h1v1h-1zM37 29h1v1h-1zM66 29h1v1h-1zM79 29h1v1h-1zM20 30h1v1h-1zM34 30h1v1h-1zM37 30h1v1h-1zM65 30h1v1h-1zM69 30h1v1h-1zM80 30h1v1h-1zM0 31h1v1h-1zM44 31h1v1h-1zM0 32h1v1h-1zM23 32h1v1h-1zM26 33h1v1h-1zM33 33h1v1h-1zM36 33h1v1h-1zM37 33h1v1h-1zM79 33h1v1h-1zM37 34h1v1h-1zM44 34h1v1h-1zM48 34h1v1h-1zM51 34h1v1h-1zM52 34h1v1h-1zM77 34h1v1h-1zM0 35h1v1h-1zM36 35h1v1h-1zM55 35h1v1h-1zM1 36h1v1h-1zM2 36h1v1h-1zM52 36h1v1h-1zM61 36h1v1h-1zM62 36h1v1h-1zM63 36h1v1h-1zM76 36h1v1h-1zM78 36h1v1h-1zM11 37h1v1h-1zM34 37h1v1h-1zM40 37h1v1h-1zM41 37h1v1h-1zM43 37h1v1h-1zM46 37h1v1h-1zM60 37h1v1h-1zM78 37h1v1h-1zM1 38h1v1h-1zM25 38h1v1h-1zM74 38h1v1h-1zM22 39h1v1h-1zM37 39h1v1h-1zM45 39h1v1h-1zM62 39h1v1h-1zM80 39h1v1h-1zM33 40h1v1h-1zM37 40h1v1h-1zM47 40h1v1h-1zM69 40h1v1h-1zM70 40h1v1h-1zM2 41h1v1h-1zM13 41h1v1h-1zM58 41h1v1h-1zM59 41h1v1h-1zM15 42h1v1h-1zM18 42h1v1h-1zM47 42h1v1h-1zM53 42h1v1h-1zM56 42h1v1h-1zM57 42h1v1h-1zM18 43h1v1h-1zM30 43h1v1h-1zM32 43h1v1h-1zM41 43h1v1h-1zM43 43h1v1h-1zM71 43h1v1h-1zM72 43h1v1h-1zM73 43h1v1h-1zM2 44h1v1h-1zM15 44h1v1h-1zM45 44h1v1h-1zM75 44h1v1h-1zM18 45h1v1h-1zM50 45h1v1h-1zM65 45h1v1h-1zM66 45h1v1h-1zM76 45h1v1h-1zM4 46h1v1h-1zM6 46h1v1h-1zM10 46h1v1h-1zM12 46h1v1h-1zM35 46h1v1h-1zM41 46h1v1h-1zM55 46h1v1h-1zM56 46h1v1h-1zM58 46h1v1h-1zM59 46h1v1h-1zM0 48h1v1h-1zM29 48h1v1h-1zM41 48h1v1h-1zM75 48h1v1h-1zM27 49h1v1h-1zM33 49h1v1h-1zM37 49h1v1h-1zM71 49h1v1h-1zM20 50h1v1h-1zM38 50h1v1h-1zM50 50h1v1h-1zM74 50h1v1h-1zM0 51h1v1h-1zM2 51h1v1h-1zM10 51h1v1h-1zM11 51h1v1h-1zM19 51h1v1h-1zM23 51h1v1h-1zM64 51h1v1h-1zM75 51h1v1h-1zM51 52h1v1h-1zM62 52h1v1h-1zM67 52h1v1h-1zM18 53h1v1h-1zM50 53h1v1h-1zM16 54h1v1h-1zM20 54h1v1h-1zM36 54h1v1h-1zM45 54h1v1h-1zM60 54h1v1h-1zM78 54h1v1h-1zM80 54h1v1h-1zM24 55h1v1h-1zM25 55h1v1h-1zM32 55h1v1h-1zM54 55h1v1h-1zM0 56h1v1h-1zM14 57h1v1h-1zM22 57h1v1h-1zM46 57h1v1h-1zM48 57h1v1h-1zM59 57h1v1h-1zM13 58h1v1h-1zM29 58h1v1h-1zM33 58h1v1h-1zM34 58h1v1h-1zM48 58h1v1h-1zM61 58h1v1h-1zM62 58h1v1h-1zM78 58h1v1h-1zM80 58h1v1h-1zM26 59h1v1h-1zM30 59h1v1h-1zM32 59h1v1h-1zM35 59h1v1h-1zM40 59h1v1h-1zM61 59h1v1h-1zM62 59h1v1h-1zM12 60h1v1h-1zM18 60h1v1h-1zM38 60h1v1h-1zM1 61h1v1h-1zM6 61h1v1h-1zM12 61h1v1h-1zM47 61h1v1h-1zM77 61h1v1h-1zM6 62h1v1h-1zM77 62h1v1h-1zM20 63h1v1h-1zM31 63h1v1h-1zM75 63h1v1h-1zM77 63h1v1h-1zM44 64h1v1h-1zM59 64h1v1h-1zM68 64h1v1h-1zM74 64h1v1h-1zM6 65h1v1h-1zM54 65h1v1h-1zM11 66h1v1h-1zM25 66h1v1h-1zM31 66h1v1h-1zM52 66h1v1h-1zM2 67h1v1h-1zM44 67h1v1h-1zM5 68h1v1h-1zM18 68h1v1h-1zM31 68h1v1h-1zM54 68h1v1h-1zM63 68h1v1h-1zM70 68h1v1h-1zM80 68h1v1h-1zM11 69h1v1h-1zM15 69h1v1h-1zM20 69h1v1h-1zM31 69h1v1h-1zM55 69h1v1h-1zM71 69h1v1h-1zM72 69h1v1h-1zM31 70h1v1h-1zM49 70h1v1h-1zM45 71h1v1h-1zM52 71h1v1h-1zM53 71h1v1h-1zM74 71h1v1h-1zM16 72h1v1h-1zM22 72h1v1h-1zM23 72h1v1h-1zM27 72h1v1h-1zM42 72h1v1h-1zM43 72h1v1h-1zM2 73h1v1h-1zM15 73h1v1h-1zM29 73h1v1h-1zM46 73h1v1h-1zM52 73h1v1h-1zM72 73h1v1h-1zM76 73h1v1h-1zM77 73h1v1h-1zM67 74h1v1h-1zM68 74h1v1h-1zM78 74h1v1h-1zM0 75h1v1h-1zM3 75h1v1h-1zM5 75h1v1h-1zM11 75h1v1h-1zM12 75h1v1h-1zM26 75h1v1h-1zM29 75h1v1h-1zM43 75h1v1h-1zM44 75h1v1h-1zM53 75h1v1h-1zM17 76h1v1h-1zM26 76h1v1h-1zM48 76h1v1h-1zM59 76h1v1h-1zM65 76h1v1h-1zM27 77h1v1h-1zM34 77h1v1h-1zM38 77h1v1h-1zM48 77h1v1h-1zM4 78h1v1h-1zM9 78h1v1h-1zM27 78h1v1h-1zM30 78h1v1h-1zM31 78h1v1h-1zM55 78h1v1h-1zM16 79h1v1h-1zM17 79h1v1h-1zM60 79h1v1h-1zM65 79h1v1h-1zM66 79h1v1h-1zM10 80h1v1h-1zM35 80h1v1h-1zM80 80h1v1h-1z"/>
<path fill="#353535" d="M23 0h1v1h-1zM25 0h1v1h-1zM33 0h1v1h-1zM52 0h1v1h-1zM61 0h1v1h-1zM5 1h1v1h-1zM27 1h1v1h-1zM32 1h1v1h-1zM41 1h1v1h-1zM44 1h1v1h-1zM56 1h1v1h-1zM58 1h1v1h-1zM61 1h1v1h-1zM70 1h1v1h-1zM73 1h1v1h-1zM78 1h1v1h-1zM79 1h1v1h-1zM6 2h1v1h-1zM8 2h1v1h-1zM17 2h1v1h-1zM52 2h1v1h-1zM76 2h1v1h-1zM78 2h1v1h-1zM39 3h1v1h-1zM67 3h1v1h-1zM33 4h1v1h-1zM34 4h1v1h-1zM46 4h1v1h-1zM55 4h1v1h-1zM59 4h1v1h-1zM71 4h1v1h-1zM15 5h1v1h-1zM21 5h1v1h-1zM23 5h1v1h-1zM25 5h1v1h-1zM34 5h1v1h-1zM40 5h1v1h-1zM58 5h1v1h-1zM25 6h1v1h-1zM45 6h1v1h-1zM51 6h1v1h-1zM52 6h1v1h-1zM54 6h1v1h-1zM59 6h1v1h-1zM60 6h1v1h-1zM74 6h1v1h-1zM75 6h1v1h-1zM80 6h1v1h-1zM7 7h1v1h-1zM24 7h1v1h-1zM25 7h1v1h-1zM36 7h1v1h-1zM62 7h1v1h-1zM69 7h1v1h-1zM80 7h1v1h-1zM5 8h1v1h-1zM10 8h1v1h-1zM69 8h1v1h-1zM71 8h1v1h-1zM2 9h1v1h-1zM8 9h1v1h-1zM10 9h1v1h-1zM23 9h1v1h-1zM41 9h1v1h-1zM42 9h1v1h-1zM59 9h1v1h-1zM3 10h1v1h-1zM12 10h1v1h-1zM21 10h1v1h-1zM53 10h1v1h-1zM65 10h1v1h-1zM4 11h1v1h-1zM22 11h1v1h-1zM55 11h1v1h-1zM57 11h1v1h-1zM59 11h1v1h-1zM1 12h1v1h-1zM2 12h1v1h-1zM4 12h1v1h-1zM36 12h1v1h-1zM55 12h1v1h-1zM2 13h1v1h-1zM4 13h1v1h-1zM8 13h1v1h-1zM18 13h1v1h-1zM21 13h1v1h-1zM22 13h1v1h-1zM28 13h1v1h-1zM29 13h1v1h-1zM50 13h1v1h-1zM60 13h1v1h-1zM74 13h1v1h-1zM76 13h1v1h-1zM44 14h1v1h-1zM71 14h1v1h-1zM75 14h1v1h-1zM77 14h1v1h-1zM27 15h1v1h-1zM65 15h1v1h-1zM32 16h1v1h-1zM41 16h1v1h-1zM74 16h1v1h-1zM28 17h1v1h-1zM35 17h1v1h-1zM45 17h1v1h-1zM64 17h1v1h-1zM5 18h1v1h-1zM12 18h1v1h-1zM38 18h1v1h-1zM57 18h1v1h-1zM76 18h1v1h-1zM10 19h1v1h-1zM16 19h1v1h-1zM24 19h1v1h-1zM38 19h1v1h-1zM40 19h1v1h-1zM59 19h1v1h-1zM71 19h1v1h-1zM74 19h1v1h-1zM20 20h1v1h-1zM26 20h1v1h-1zM36 20h1v1h-1zM64 20h1v1h-1zM77 20h1v1h-1zM32 21h1v1h-1zM37 21h1v1h-1zM40 21h1v1h-1zM59 21h1v1h-1zM2 22h1v1h-1zM7 22h1v1h-1zM8 22h1v1h-1zM12 22h1v1h-1zM23 22h1v1h-1zM28 22h1v1h-1zM43 22h1v1h-1zM45 22h1v1h-1zM60 22h1v1h-1zM66 22h1v1h-1zM5 23h1v1h-1zM12 23h1v1h-1zM19 23h1v1h-1zM25 23h1v1h-1zM43 23h1v1h-1zM3 24h1v1h-1zM25 24h1v1h-1zM35 24h1v1h-1zM62 24h1v1h-1zM69 24h1v1h-1zM70 24h1v1h-1zM1 25h1v1h-1zM39 25h1v1h-1zM42 25h1v1h-1zM43 25h1v1h-1zM47 25h1v1h-1zM65 25h1v1h-1zM1 26h1v1h-1zM15 26h1v1h-1zM41 26h1v1h-1zM4 27h1v1h-1zM23 27h1v1h-1zM42 27h1v1h-1zM43 27h1v1h-1zM59 27h1v1h-1zM76 27h1v1h-1zM1 28h1v1h-1zM2 28h1v1h-1zM13 28h1v1h-1zM14 28h1v1h-1zM41 28h1v1h-1zM46 28h1v1h-1zM64 28h1v1h-1zM76 28h1v1h-1zM28 29h1v1h-1zM35 29h1v1h-1zM41 29h1v1h-1zM62 29h1v1h-1zM65 29h1v1h-1zM80 29h1v1h-1zM0 30h1v1h-1zM11 30h1v1h-1zM50 30h1v1h-1zM5 31h1v1h-1zM24 31h1v1h-1zM30 31h1v1h-1zM31 31h1v1h-1zM74 31h1v1h-1zM4 32h1v1h-1zM11 32h1v1h-1zM19 32h1v1h-1zM24 32h1v1h-1zM25 32h1v1h-1zM27 32h1v1h-1zM53 32h1v1h-1zM48 33h1v1h-1zM64 33h1v1h-1zM74 33h1v1h-1zM1 34h1v1h-1zM13 34h1v1h-1zM69 34h1v1h-1zM2 35h1v1h-1zM12 35h1v1h-1zM35 35h1v1h-1zM37 35h1v1h-1zM51 35h1v1h-1zM71 35h1v1h-1zM75 35h1v1h-1zM0 36h1v1h-1zM22 36h1v1h-1zM44 37h1v1h-1zM56 37h1v1h-1zM2 38h1v1h-1zM59 38h1v1h-1zM62 38h1v1h-1zM76 38h1v1h-1zM23 39h1v1h-1zM67 39h1v1h-1zM70 39h1v1h-1zM75 39h1v1h-1zM79 39h1v1h-1zM0 40h1v1h-1zM19 40h1v1h-1zM57 40h1v1h-1zM78 40h1v1h-1zM1 41h1v1h-1zM24 41h1v1h-1zM31 41h1v1h-1zM32 41h1v1h-1zM45 41h1v1h-1zM47 41h1v1h-1zM48 41h1v1h-1zM57 41h1v1h-1zM10 42h1v1h-1zM30 42h1v1h-1zM45 42h1v1h-1zM72 42h1v1h-1zM75 42h1v1h-1zM19 43h1v1h-1zM25 43h1v1h-1zM14 44h1v1h-1zM16 44h1v1h-1zM23 44h1v1h-1zM47 44h1v1h-1zM1 45h1v1h-1zM6 45h1v1h-1zM10 45h1v1h-1zM35 45h1v1h-1zM39 45h1v1h-1zM58 45h1v1h-1zM16 46h1v1h-1zM32 46h1v1h-1zM46 46h1v1h-1zM60 46h1v1h-1zM71 46h1v1h-1zM28 47h1v1h-1zM31 47h1v1h-1zM68 47h1v1h-1zM71 47h1v1h-1zM74 47h1v1h-1zM80 47h1v1h-1zM3 48h1v1h-1zM18 48h1v1h-1zM36 48h1v1h-1zM52 48h1v1h-1zM57 48h1v1h-1zM67 48h1v1h-1zM80 48h1v1h-1zM0 49h1v1h-1zM39 49h1v1h-1zM44 49h1v1h-1zM62 49h1v1h-1zM0 50h1v1h-1zM9 50h1v1h-1zM39 50h1v1h-1zM49 50h1v1h-1zM51 50h1v1h-1zM69 50h1v1h-1zM29 51h1v1h-1zM30 51h1v1h-1zM35 51h1v1h-1zM41 51h1v1h-1zM50 51h1v1h-1zM67 51h1v1h-1zM12 52h1v1h-1zM19 52h1v1h-1zM39 52h1v1h-1zM47 52h1v1h-1zM50 52h1v1h-1zM63 52h1v1h-1zM78 52h1v1h-1zM21 53h1v1h-1zM34 53h1v1h-1zM36 53h1v1h-1zM37 53h1v1h-1zM38 53h1v1h-1zM73 53h1v1h-1zM17 54h1v1h-1zM35 54h1v1h-1zM40 54h1v1h-1zM3 55h1v1h-1zM37 55h1v1h-1zM66 55h1v1h-1zM70 55h1v1h-1zM43 56h1v1h-1zM63 56h1v1h-1zM4 57h1v1h-1zM10 57h1v1h-1zM42 57h1v1h-1zM66 57h1v1h-1zM1 58h1v1h-1zM19 58h1v1h-1zM39 58h1v1h-1zM53 58h1v1h-1zM75 58h1v1h-1zM77 58h1v1h-1zM41 59h1v1h-1zM8 60h1v1h-1zM43 60h1v1h-1zM62 60h1v1h-1zM64 60h1v1h-1zM0 61h1v1h-1zM3 61h1v1h-1zM17 61h1v1h-1zM32 61h1v1h-1zM44 61h1v1h-1zM62 61h1v1h-1zM64 61h1v1h-1zM68 61h1v1h-1zM79 61h1v1h-1zM1 62h1v1h-1zM35 62h1v1h-1zM38 62h1v1h-1zM39 62h1v1h-1zM40 62h1v1h-1zM66 62h1v1h-1zM69 62h1v1h-1zM78 62h1v1h-1zM59 63h1v1h-1zM65 63h1v1h-1zM19 64h1v1h-1zM20 64h1v1h-1zM42 64h1v1h-1zM53 64h1v1h-1zM62 64h1v1h-1zM64 64h1v1h-1zM66 64h1v1h-1zM71 64h1v1h-1zM77 64h1v1h-1zM56 65h1v1h-1zM73 65h1v1h-1zM7 66h1v1h-1zM13 66h1v1h-1zM15 66h1v1h-1zM78 66h1v1h-1zM4 67h1v1h-1zM11 67h1v1h-1zM19 67h1v1h-1zM41 67h1v1h-1zM43 67h1v1h-1zM49 67h1v1h-1zM53 67h1v1h-1zM68 67h1v1h-1zM80 67h1v1h-1zM7 68h1v1h-1zM13 68h1v1h-1zM37 68h1v1h-1zM53 68h1v1h-1zM65 68h1v1h-1zM79 68h1v1h-1zM9 69h1v1h-1zM54 69h1v1h-1zM66 69h1v1h-1zM70 69h1v1h-1zM15 70h1v1h-1zM34 70h1v1h-1zM39 70h1v1h-1zM70 70h1v1h-1zM75 70h1v1h-1zM7 71h1v1h-1zM8 71h1v1h-1zM16 71h1v1h-1zM17 71h1v1h-1zM23 71h1v1h-1zM31 71h1v1h-1zM38 71h1v1h-1zM77 71h1v1h-1zM20 72h1v1h-1zM39 72h1v1h-1zM54 72h1v1h-1zM57 72h1v1h-1zM20 73h1v1h-1zM35 73h1v1h-1zM36 73h1v1h-1zM53 73h1v1h-1zM64 73h1v1h-1zM65 73h1v1h-1zM2 74h1v1h-1zM45 74h1v1h-1zM21 75h1v1h-1zM35 75h1v1h-1zM64 75h1v1h-1zM67 75h1v1h-1zM71 75h1v1h-1zM72 75h1v1h-1zM11 76h1v1h-1zM12 76h1v1h-1zM20 76h1v1h-1zM57 76h1v1h-1zM60 76h1v1h-1zM61 76h1v1h-1zM9 77h1v1h-1zM26 77h1v1h-1zM45 77h1v1h-1zM50 77h1v1h-1zM73 77h1v1h-1zM77 77h1v1h-1zM7 78h1v1h-1zM19 78h1v1h-1zM32 78h1v1h-1zM40 78h1v1h-1zM63 78h1v1h-1zM77 78h1v1h-1zM20 79h1v1h-1zM63 79h1v1h-1zM72 79h1v1h-1zM11 80h1v1h-1zM18 80h1v1h-1zM21 80h1v1h-1zM48 80h1v1h-1zM56 80h1v1h-1zM61 80h1v1h-1zM67 80h1v1h-1zM78 80h1v1h-1z"/>
<path fill="#393939" d="M29 0h1v1h-1zM36 0h1v1h-1zM38 0h1v1h-1zM41 0h1v1h-1zM48 0h1v1h-1zM78 0h1v1h-1zM80 0h1v1h-1zM2 1h1v1h-1zM23 1h1v1h-1zM24 1h1v1h-1zM28 1h1v1h-1zM34 1h1v1h-1zM36 1h1v1h-1zM40 1h1v1h-1zM68 1h1v1h-1zM2 2h1v1h-1zM5 2h1v1h-1zM15 2h1v1h-1zM19 2h1v1h-1zM75 2h1v1h-1zM1 3h1v1h-1zM10 3h1v1h-1zM45 3h1v1h-1zM55 3h1v1h-1zM4 4h1v1h-1zM28 4h1v1h-1zM35 4h1v1h-1zM49 4h1v1h-1zM58 4h1v1h-1zM65 4h1v1h-1zM24 5h1v1h-1zM74 5h1v1h-1zM75 5h1v1h-1zM13 6h1v1h-1zM14 6h1v1h-1zM24 6h1v1h-1zM27 6h1v1h-1zM40 6h1v1h-1zM44 6h1v1h-1zM47 6h1v1h-1zM56 6h1v1h-1zM67 6h1v1h-1zM72 6h1v1h-1zM57 7h1v1h-1zM33 8h1v1h-1zM57 8h1v1h-1zM5 9h1v1h-1zM7 9h1v1h-1zM22 9h1v1h-1zM28 9h1v1h-1zM31 9h1v1h-1zM40 9h1v1h-1zM6 10h1v1h-1zM9 10h1v1h-1zM19 10h1v1h-1zM20 10h1v1h-1zM25 10h1v1h-1zM33 10h1v1h-1zM38 10h1v1h-1zM43 10h1v1h-1zM54 10h1v1h-1zM1 11h1v1h-1zM34 11h1v1h-1zM45 11h1v1h-1zM53 11h1v1h-1zM54 11h1v1h-1zM26 12h1v1h-1zM28 12h1v1h-1zM59 12h1v1h-1zM74 12h1v1h-1zM30 13h1v1h-1zM54 13h1v1h-1zM59 13h1v1h-1zM73 13h1v1h-1zM79 13h1v1h-1zM17 14h1v1h-1zM23 14h1v1h-1zM28 14h1v1h-1zM36 14h1v1h-1zM38 14h1v1h-1zM67 14h1v1h-1zM68 14h1v1h-1zM69 14h1v1h-1zM12 15h1v1h-1zM36 15h1v1h-1zM43 15h1v1h-1zM3 16h1v1h-1zM6 16h1v1h-1zM49 16h1v1h-1zM65 16h1v1h-1zM1 17h1v1h-1zM22 17h1v1h-1zM24 17h1v1h-1zM1 18h1v1h-1zM18 18h1v1h-1zM37 18h1v1h-1zM51 18h1v1h-1zM58 18h1v1h-1zM64 18h1v1h-1zM78 18h1v1h-1zM3 19h1v1h-1zM5 19h1v1h-1zM25 19h1v1h-1zM51 19h1v1h-1zM54 19h1v1h-1zM64 19h1v1h-1zM4 20h1v1h-1zM6 20h1v1h-1zM10 20h1v1h-1zM16 20h1v1h-1zM18 20h1v1h-1zM24 20h1v1h-1zM38 20h1v1h-1zM53 20h1v1h-1zM55 20h1v1h-1zM65 20h1v1h-1zM68 20h1v1h-1zM3 21h1v1h-1zM15 21h1v1h-1zM17 21h1v1h-1zM20 21h1v1h-1zM22 21h1v1h-1zM24 21h1v1h-1zM41 21h1v1h-1zM37 22h1v1h-1zM2 23h1v1h-1zM39 23h1v1h-1zM42 23h1v1h-1zM44 23h1v1h-1zM60 23h1v1h-1zM68 23h1v1h-1zM33 24h1v1h-1zM47 24h1v1h-1zM59 24h1v1h-1zM71 24h1v1h-1zM3 25h1v1h-1zM19 25h1v1h-1zM32 25h1v1h-1zM40 25h1v1h-1zM79 25h1v1h-1zM80 25h1v1h-1zM20 26h1v1h-1zM44 26h1v1h-1zM65 26h1v1h-1zM71 26h1v1h-1zM2 27h1v1h-1zM9 27h1v1h-1zM72 27h1v1h-1zM7 28h1v1h-1zM15 28h1v1h-1zM36 28h1v1h-1zM37 28h1v1h-1zM38 28h1v1h-1zM51 28h1v1h-1zM65 28h1v1h-1zM72 28h1v1h-1zM39 29h1v1h-1zM57 29h1v1h-1zM61 29h1v1h-1zM28 30h1v1h-1zM45 30h1v1h-1zM46 30h1v1h-1zM49 30h1v1h-1zM70 30h1v1h-1zM18 31h1v1h-1zM32 31h1v1h-1zM35 31h1v1h-1zM41 31h1v1h-1zM49 31h1v1h-1zM2 32h1v1h-1zM7 32h1v1h-1zM30 32h1v1h-1zM32 32h1v1h-1zM42 32h1v1h-1zM59 32h1v1h-1zM72 32h1v1h-1zM21 33h1v1h-1zM38 33h1v1h-1zM42 33h1v1h-1zM78 33h1v1h-1zM2 34h1v1h-1zM4 34h1v1h-1zM9 34h1v1h-1zM43 34h1v1h-1zM63 34h1v1h-1zM64 34h1v1h-1zM76 34h1v1h-1zM60 35h1v1h-1zM66 35h1v1h-1zM72 35h1v1h-1zM78 35h1v1h-1zM9 36h1v1h-1zM23 36h1v1h-1zM38 36h1v1h-1zM40 36h1v1h-1zM77 36h1v1h-1zM24 37h1v1h-1zM25 37h1v1h-1zM31 37h1v1h-1zM42 37h1v1h-1zM45 37h1v1h-1zM61 37h1v1h-1zM19 38h1v1h-1zM22 38h1v1h-1zM37 38h1v1h-1zM40 38h1v1h-1zM52 38h1v1h-1zM3 39h1v1h-1zM13 39h1v1h-1zM14 39h1v1h-1zM69 39h1v1h-1zM1 40h1v1h-1zM22 40h1v1h-1zM24 40h1v1h-1zM28 40h1v1h-1zM43 40h1v1h-1zM51 40h1v1h-1zM68 40h1v1h-1zM77 40h1v1h-1zM80 40h1v1h-1zM0 41h1v1h-1zM3 41h1v1h-1zM7 41h1v1h-1zM12 41h1v1h-1zM19 41h1v1h-1zM21 41h1v1h-1zM28 41h1v1h-1zM67 41h1v1h-1zM6 42h1v1h-1zM9 42h1v1h-1zM49 42h1v1h-1zM52 42h1v1h-1zM54 42h1v1h-1zM61 42h1v1h-1zM1 43h1v1h-1zM35 43h1v1h-1zM39 43h1v1h-1zM44 43h1v1h-1zM55 43h1v1h-1zM34 44h1v1h-1zM37 44h1v1h-1zM39 44h1v1h-1zM46 44h1v1h-1zM50 44h1v1h-1zM57 44h1v1h-1zM58 44h1v1h-1zM66 44h1v1h-1zM4 45h1v1h-1zM40 45h1v1h-1zM8 46h1v1h-1zM34 46h1v1h-1zM62 46h1v1h-1zM65 46h1v1h-1zM72 46h1v1h-1zM80 46h1v1h-1zM6 47h1v1h-1zM11 47h1v1h-1zM17 47h1v1h-1zM37 47h1v1h-1zM40 47h1v1h-1zM62 47h1v1h-1zM70 47h1v1h-1zM6 48h1v1h-1zM22 48h1v1h-1zM25 48h1v1h-1zM27 48h1v1h-1zM62 48h1v1h-1zM17 49h1v1h-1zM49 49h1v1h-1zM50 49h1v1h-1zM66 50h1v1h-1zM67 50h1v1h-1zM45 51h1v1h-1zM59 51h1v1h-1zM68 51h1v1h-1zM70 51h1v1h-1zM15 52h1v1h-1zM16 52h1v1h-1zM26 52h1v1h-1zM71 52h1v1h-1zM74 52h1v1h-1zM79 52h1v1h-1zM26 53h1v1h-1zM35 53h1v1h-1zM47 53h1v1h-1zM48 53h1v1h-1zM60 53h1v1h-1zM68 53h1v1h-1zM69 53h1v1h-1zM7 54h1v1h-1zM26 54h1v1h-1zM30 54h1v1h-1zM41 54h1v1h-1zM66 54h1v1h-1zM67 54h1v1h-1zM75 54h1v1h-1zM2 55h1v1h-1zM4 55h1v1h-1zM5 55h1v1h-1zM13 55h1v1h-1zM16 55h1v1h-1zM45 55h1v1h-1zM51 55h1v1h-1zM59 55h1v1h-1zM74 55h1v1h-1zM19 56h1v1h-1zM42 56h1v1h-1zM46 56h1v1h-1zM51 56h1v1h-1zM61 56h1v1h-1zM62 56h1v1h-1zM67 56h1v1h-1zM19 57h1v1h-1zM25 57h1v1h-1zM58 57h1v1h-1zM60 57h1v1h-1zM62 57h1v1h-1zM70 57h1v1h-1zM73 57h1v1h-1zM32 58h1v1h-1zM42 58h1v1h-1zM72 58h1v1h-1zM13 59h1v1h-1zM19 59h1v1h-1zM24 59h1v1h-1zM19 60h1v1h-1zM32 60h1v1h-1zM51 60h1v1h-1zM52 60h1v1h-1zM7 61h1v1h-1zM49 61h1v1h-1zM76 61h1v1h-1zM0 62h1v1h-1zM4 62h1v1h-1zM5 62h1v1h-1zM12 62h1v1h-1zM16 62h1v1h-1zM29 62h1v1h-1zM30 62h1v1h-1zM36 62h1v1h-1zM25 63h1v1h-1zM49 63h1v1h-1zM60 63h1v1h-1zM6 64h1v1h-1zM8 64h1v1h-1zM21 64h1v1h-1zM54 64h1v1h-1zM58 64h1v1h-1zM9 65h1v1h-1zM24 65h1v1h-1zM25 65h1v1h-1zM26 65h1v1h-1zM27 65h1v1h-1zM29 65h1v1h-1zM64 65h1v1h-1zM6 66h1v1h-1zM18 66h1v1h-1zM27 66h1v1h-1zM39 66h1v1h-1zM73 66h1v1h-1zM16 67h1v1h-1zM26 67h1v1h-1zM30 67h1v1h-1zM45 67h1v1h-1zM46 67h1v1h-1zM47 67h1v1h-1zM62 67h1v1h-1zM14 68h1v1h-1zM15 68h1v1h-1zM22 68h1v1h-1zM30 68h1v1h-1zM51 68h1v1h-1zM67 68h1v1h-1zM21 69h1v1h-1zM48 69h1v1h-1zM64 69h1v1h-1zM74 69h1v1h-1zM8 70h1v1h-1zM11 70h1v1h-1zM25 70h1v1h-1zM76 70h1v1h-1zM9 71h1v1h-1zM61 71h1v1h-1zM65 71h1v1h-1zM17 72h1v1h-1zM28 72h1v1h-1zM37 72h1v1h-1zM49 72h1v1h-1zM52 72h1v1h-1zM61 72h1v1h-1zM63 72h1v1h-1zM64 72h1v1h-1zM71 72h1v1h-1zM80 72h1v1h-1zM19 73h1v1h-1zM37 73h1v1h-1zM50 73h1v1h-1zM55 73h1v1h-1zM61 73h1v1h-1zM78 73h1v1h-1zM5 74h1v1h-1zM12 74h1v1h-1zM19 74h1v1h-1zM41 74h1v1h-1zM63 74h1v1h-1zM46 75h1v1h-1zM2 76h1v1h-1zM25 76h1v1h-1zM27 76h1v1h-1zM35 76h1v1h-1zM47 76h1v1h-1zM52 76h1v1h-1zM56 76h1v1h-1zM63 76h1v1h-1zM66 76h1v1h-1zM68 76h1v1h-1zM75 76h1v1h-1zM14 77h1v1h-1zM56 77h1v1h-1zM57 77h1v1h-1zM60 77h1v1h-1zM66 77h1v1h-1zM26 78h1v1h-1zM33 78h1v1h-1zM54 78h1v1h-1zM7 79h1v1h-1zM12 79h1v1h-1zM37 79h1v1h-1zM55 79h1v1h-1zM61 79h1v1h-1zM67 79h1v1h-1zM28 80h1v1h-1zM36 80h1v1h-1zM42 80h1v1h-1zM69 80h1v1h-1zM76 80h1v1h-1z"/>
<path fill="#3d3d3d" d="M12 0h1v1h-1zM28 0h1v1h-1zM39 0h1v1h-1zM47 0h1v1h-1zM70 0h1v1h-1zM13 1h1v1h-1zM26 1h1v1h-1zM33 1h1v1h-1zM35 1h1v1h-1zM74 1h1v1h-1zM10 2h1v1h-1zM21 2h1v1h-1zM46 2h1v1h-1zM55 2h1v1h-1zM61 2h1v1h-1zM70 2h1v1h-1zM20 3h1v1h-1zM22 3h1v1h-1zM35 3h1v1h-1zM53 3h1v1h-1zM64 3h1v1h-1zM70 3h1v1h-1zM1 4h1v1h-1zM6 4h1v1h-1zM9 4h1v1h-1zM22 4h1v1h-1zM39 4h1v1h-1zM41 4h1v1h-1zM63 4h1v1h-1zM72 4h1v1h-1zM8 5h1v1h-1zM14 5h1v1h-1zM41 5h1v1h-1zM55 5h1v1h-1zM7 6h1v1h-1zM23 6h1v1h-1zM66 6h1v1h-1zM68 6h1v1h-1zM2 7h1v1h-1zM21 7h1v1h-1zM35 7h1v1h-1zM44 7h1v1h-1zM8 8h1v1h-1zM30 8h1v1h-1zM34 8h1v1h-1zM42 8h1v1h-1zM14 9h1v1h-1zM19 9h1v1h-1zM24 9h1v1h-1zM30 9h1v1h-1zM46 9h1v1h-1zM80 9h1v1h-1zM2 10h1v1h-1zM11 10h1v1h-1zM39 10h1v1h-1zM80 10h1v1h-1zM23 11h1v1h-1zM29 11h1v1h-1zM49 11h1v1h-1zM51 11h1v1h-1zM52 11h1v1h-1zM21 12h1v1h-1zM44 12h1v1h-1zM45 12h1v1h-1zM56 12h1v1h-1zM60 12h1v1h-1zM66 13h1v1h-1zM67 13h1v1h-1zM68 13h1v1h-1zM4 14h1v1h-1zM6 14h1v1h-1zM18 14h1v1h-1zM19 14h1v1h-1zM58 14h1v1h-1zM1 15h1v1h-1zM22 15h1v1h-1zM26 15h1v1h-1zM46 15h1v1h-1zM78 15h1v1h-1zM10 16h1v1h-1zM12 16h1v1h-1zM62 16h1v1h-1zM71 16h1v1h-1zM75 16h1v1h-1zM6 17h1v1h-1zM18 17h1v1h-1zM36 17h1v1h-1zM65 17h1v1h-1zM11 18h1v1h-1zM33 18h1v1h-1zM69 18h1v1h-1zM77 18h1v1h-1zM63 19h1v1h-1zM68 19h1v1h-1zM34 20h1v1h-1zM40 20h1v1h-1zM58 20h1v1h-1zM73 21h1v1h-1zM26 22h1v1h-1zM30 22h1v1h-1zM31 22h1v1h-1zM49 22h1v1h-1zM51 22h1v1h-1zM54 22h1v1h-1zM23 23h1v1h-1zM47 23h1v1h-1zM54 23h1v1h-1zM61 23h1v1h-1zM62 23h1v1h-1zM65 23h1v1h-1zM71 23h1v1h-1zM11 24h1v1h-1zM39 24h1v1h-1zM52 24h1v1h-1zM58 24h1v1h-1zM61 24h1v1h-1zM67 24h1v1h-1zM68 24h1v1h-1zM9 25h1v1h-1zM45 25h1v1h-1zM46 25h1v1h-1zM49 25h1v1h-1zM64 25h1v1h-1zM11 26h1v1h-1zM18 26h1v1h-1zM32 26h1v1h-1zM60 26h1v1h-1zM66 26h1v1h-1zM70 26h1v1h-1zM1 27h1v1h-1zM50 27h1v1h-1zM61 27h1v1h-1zM9 28h1v1h-1zM39 28h1v1h-1zM58 28h1v1h-1zM26 29h1v1h-1zM38 29h1v1h-1zM45 29h1v1h-1zM53 29h1v1h-1zM71 29h1v1h-1zM74 29h1v1h-1zM76 29h1v1h-1zM33 30h1v1h-1zM41 30h1v1h-1zM42 30h1v1h-1zM20 31h1v1h-1zM50 31h1v1h-1zM62 31h1v1h-1zM75 31h1v1h-1zM80 31h1v1h-1zM21 32h1v1h-1zM28 32h1v1h-1zM38 32h1v1h-1zM68 32h1v1h-1zM80 32h1v1h-1zM15 33h1v1h-1zM24 33h1v1h-1zM31 33h1v1h-1zM43 33h1v1h-1zM62 33h1v1h-1zM3 34h1v1h-1zM8 34h1v1h-1zM11 34h1v1h-1zM38 34h1v1h-1zM41 34h1v1h-1zM13 35h1v1h-1zM34 35h1v1h-1zM43 35h1v1h-1zM48 35h1v1h-1zM68 35h1v1h-1zM69 35h1v1h-1zM3 36h1v1h-1zM5 36h1v1h-1zM6 36h1v1h-1zM18 36h1v1h-1zM49 36h1v1h-1zM20 37h1v1h-1zM23 37h1v1h-1zM35 37h1v1h-1zM51 37h1v1h-1zM52 37h1v1h-1zM80 37h1v1h-1zM38 38h1v1h-1zM39 38h1v1h-1zM41 38h1v1h-1zM44 38h1v1h-1zM49 38h1v1h-1zM51 38h1v1h-1zM56 38h1v1h-1zM63 38h1v1h-1zM6 39h1v1h-1zM32 39h1v1h-1zM64 39h1v1h-1zM72 39h1v1h-1zM3 40h1v1h-1zM6 40h1v1h-1zM12 40h1v1h-1zM27 40h1v1h-1zM52 40h1v1h-1zM61 40h1v1h-1zM62 40h1v1h-1zM75 40h1v1h-1zM34 41h1v1h-1zM46 41h1v1h-1zM51 41h1v1h-1zM52 41h1v1h-1zM61 41h1v1h-1zM69 41h1v1h-1zM1 42h1v1h-1zM8 42h1v1h-1zM80 42h1v1h-1zM11 43h1v1h-1zM15 43h1v1h-1zM52 43h1v1h-1zM56 43h1v1h-1zM66 43h1v1h-1zM67 43h1v1h-1zM69 43h1v1h-1zM44 44h1v1h-1zM67 44h1v1h-1zM69 44h1v1h-1zM73 44h1v1h-1zM74 44h1v1h-1zM2 45h1v1h-1zM47 45h1v1h-1zM1 46h1v1h-1zM19 46h1v1h-1zM76 46h1v1h-1zM5 47h1v1h-1zM20 47h1v1h-1zM22 47h1v1h-1zM38 47h1v1h-1zM59 47h1v1h-1zM67 47h1v1h-1zM11 48h1v1h-1zM15 48h1v1h-1zM20 48h1v1h-1zM42 48h1v1h-1zM48 48h1v1h-1zM49 48h1v1h-1zM61 48h1v1h-1zM76 48h1v1h-1zM13 49h1v1h-1zM14 49h1v1h-1zM16 49h1v1h-1zM19 49h1v1h-1zM26 49h1v1h-1zM59 49h1v1h-1zM68 49h1v1h-1zM73 49h1v1h-1zM75 49h1v1h-1zM13 50h1v1h-1zM52 50h1v1h-1zM60 50h1v1h-1zM14 51h1v1h-1zM63 51h1v1h-1zM66 51h1v1h-1zM10 52h1v1h-1zM14 52h1v1h-1zM30 52h1v1h-1zM41 52h1v1h-1zM46 52h1v1h-1zM53 52h1v1h-1zM66 52h1v1h-1zM11 53h1v1h-1zM12 53h1v1h-1zM27 53h1v1h-1zM33 53h1v1h-1zM46 53h1v1h-1zM37 54h1v1h-1zM51 54h1v1h-1zM14 55h1v1h-1zM29 55h1v1h-1zM33 55h1v1h-1zM41 55h1v1h-1zM50 55h1v1h-1zM80 55h1v1h-1zM16 56h1v1h-1zM20 56h1v1h-1zM34 56h1v1h-1zM55 56h1v1h-1zM64 56h1v1h-1zM66 56h1v1h-1zM74 56h1v1h-1zM78 56h1v1h-1zM20 57h1v1h-1zM38 57h1v1h-1zM78 57h1v1h-1zM79 57h1v1h-1zM21 58h1v1h-1zM69 58h1v1h-1zM79 58h1v1h-1zM7 59h1v1h-1zM38 59h1v1h-1zM51 59h1v1h-1zM58 59h1v1h-1zM1 60h1v1h-1zM39 60h1v1h-1zM44 60h1v1h-1zM71 60h1v1h-1zM76 60h1v1h-1zM77 60h1v1h-1zM23 61h1v1h-1zM48 61h1v1h-1zM69 61h1v1h-1zM75 61h1v1h-1zM18 62h1v1h-1zM22 62h1v1h-1zM48 62h1v1h-1zM68 62h1v1h-1zM80 62h1v1h-1zM17 63h1v1h-1zM23 63h1v1h-1zM26 63h1v1h-1zM43 63h1v1h-1zM47 63h1v1h-1zM48 63h1v1h-1zM1 64h1v1h-1zM5 64h1v1h-1zM10 64h1v1h-1zM27 64h1v1h-1zM49 64h1v1h-1zM72 64h1v1h-1zM44 65h1v1h-1zM53 65h1v1h-1zM57 65h1v1h-1zM65 65h1v1h-1zM75 65h1v1h-1zM78 65h1v1h-1zM20 66h1v1h-1zM26 66h1v1h-1zM44 66h1v1h-1zM33 67h1v1h-1zM4 68h1v1h-1zM9 68h1v1h-1zM23 68h1v1h-1zM41 68h1v1h-1zM50 68h1v1h-1zM64 68h1v1h-1zM27 69h1v1h-1zM34 69h1v1h-1zM69 69h1v1h-1zM2 70h1v1h-1zM7 70h1v1h-1zM9 70h1v1h-1zM45 70h1v1h-1zM63 70h1v1h-1zM12 71h1v1h-1zM13 71h1v1h-1zM25 71h1v1h-1zM33 71h1v1h-1zM41 71h1v1h-1zM55 71h1v1h-1zM66 71h1v1h-1zM70 71h1v1h-1zM21 72h1v1h-1zM36 72h1v1h-1zM69 72h1v1h-1zM76 72h1v1h-1zM41 73h1v1h-1zM45 73h1v1h-1zM51 73h1v1h-1zM57 73h1v1h-1zM69 73h1v1h-1zM71 73h1v1h-1zM74 73h1v1h-1zM80 73h1v1h-1zM33 74h1v1h-1zM46 74h1v1h-1zM18 75h1v1h-1zM32 75h1v1h-1zM33 75h1v1h-1zM37 75h1v1h-1zM80 75h1v1h-1zM13 76h1v1h-1zM24 76h1v1h-1zM37 76h1v1h-1zM46 76h1v1h-1zM64 76h1v1h-1zM72 76h1v1h-1zM7 77h1v1h-1zM18 77h1v1h-1zM63 77h1v1h-1zM0 78h1v1h-1zM58 78h1v1h-1zM65 78h1v1h-1zM67 78h1v1h-1zM3 79h1v1h-1zM15 79h1v1h-1zM24 79h1v1h-1zM30 79h1v1h-1zM31 79h1v1h-1zM47 79h1v1h-1zM59 79h1v1h-1zM70 79h1v1h-1zM80 79h1v1h-1zM31 80h1v1h-1zM47 80h1v1h-1zM65 80h1v1h-1zM73 80h1v1h-1zM79 80h1v1h-1z"/>
<path fill="#414141" d="M0 0h1v1h-1zM2 0h1v1h-1zM6 0h1v1h-1zM14 0h1v1h-1zM15 0h1v1h-1zM60 0h1v1h-1zM73 0h1v1h-1zM1 1h1v1h-1zM6 1h1v1h-1zM39 1h1v1h-1zM46 1h1v1h-1zM48 1h1v1h-1zM72 1h1v1h-1zM16 2h1v1h-1zM23 2h1v1h-1zM31 2h1v1h-1zM36 2h1v1h-1zM63 2h1v1h-1zM68 2h1v1h-1zM74 2h1v1h-1zM0 3h1v1h-1zM40 3h1v1h-1zM56 3h1v1h-1zM29 4h1v1h-1zM32 4h1v1h-1zM70 4h1v1h-1zM3 5h1v1h-1zM31 5h1v1h-1zM64 5h1v1h-1zM67 5h1v1h-1zM8 6h1v1h-1zM31 6h1v1h-1zM38 6h1v1h-1zM70 6h1v1h-1zM22 7h1v1h-1zM26 7h1v1h-1zM34 7h1v1h-1zM79 7h1v1h-1zM11 8h1v1h-1zM46 8h1v1h-1zM64 8h1v1h-1zM21 9h1v1h-1zM52 9h1v1h-1zM63 9h1v1h-1zM68 9h1v1h-1zM72 9h1v1h-1zM73 9h1v1h-1zM74 9h1v1h-1zM22 10h1v1h-1zM40 10h1v1h-1zM49 10h1v1h-1zM73 10h1v1h-1zM76 10h1v1h-1zM17 11h1v1h-1zM48 11h1v1h-1zM50 11h1v1h-1zM76 11h1v1h-1zM6 12h1v1h-1zM10 12h1v1h-1zM38 12h1v1h-1zM39 12h1v1h-1zM65 12h1v1h-1zM38 13h1v1h-1zM41 13h1v1h-1zM56 13h1v1h-1zM72 13h1v1h-1zM26 14h1v1h-1zM33 14h1v1h-1zM37 14h1v1h-1zM79 14h1v1h-1zM80 14h1v1h-1zM13 15h1v1h-1zM38 15h1v1h-1zM52 15h1v1h-1zM67 15h1v1h-1zM70 15h1v1h-1zM2 16h1v1h-1zM14 16h1v1h-1zM16 16h1v1h-1zM45 16h1v1h-1zM68 16h1v1h-1zM41 17h1v1h-1zM53 17h1v1h-1zM58 17h1v1h-1zM73 17h1v1h-1zM3 18h1v1h-1zM16 18h1v1h-1zM22 18h1v1h-1zM28 18h1v1h-1zM39 18h1v1h-1zM70 18h1v1h-1zM1 19h1v1h-1zM6 19h1v1h-1zM55 19h1v1h-1zM56 19h1v1h-1zM11 20h1v1h-1zM13 20h1v1h-1zM27 20h1v1h-1zM43 20h1v1h-1zM45 20h1v1h-1zM50 20h1v1h-1zM0 21h1v1h-1zM5 21h1v1h-1zM69 21h1v1h-1zM13 22h1v1h-1zM47 22h1v1h-1zM50 22h1v1h-1zM55 22h1v1h-1zM70 22h1v1h-1zM79 22h1v1h-1zM8 23h1v1h-1zM17 23h1v1h-1zM34 23h1v1h-1zM51 23h1v1h-1zM55 23h1v1h-1zM73 23h1v1h-1zM80 23h1v1h-1zM0 24h1v1h-1zM8 24h1v1h-1zM9 24h1v1h-1zM56 24h1v1h-1zM65 24h1v1h-1zM74 24h1v1h-1zM2 25h1v1h-1zM18 25h1v1h-1zM63 25h1v1h-1zM28 26h1v1h-1zM62 26h1v1h-1zM47 27h1v1h-1zM73 27h1v1h-1zM5 28h1v1h-1zM27 28h1v1h-1zM31 28h1v1h-1zM33 28h1v1h-1zM40 28h1v1h-1zM48 28h1v1h-1zM59 28h1v1h-1zM9 29h1v1h-1zM17 29h1v1h-1zM58 29h1v1h-1zM73 29h1v1h-1zM12 30h1v1h-1zM51 30h1v1h-1zM71 30h1v1h-1zM13 31h1v1h-1zM47 31h1v1h-1zM12 32h1v1h-1zM13 32h1v1h-1zM29 32h1v1h-1zM60 32h1v1h-1zM77 32h1v1h-1zM19 33h1v1h-1zM35 33h1v1h-1zM51 33h1v1h-1zM75 33h1v1h-1zM76 33h1v1h-1zM60 34h1v1h-1zM66 34h1v1h-1zM28 35h1v1h-1zM56 35h1v1h-1zM17 36h1v1h-1zM28 36h1v1h-1zM29 36h1v1h-1zM36 36h1v1h-1zM42 36h1v1h-1zM60 36h1v1h-1zM67 36h1v1h-1zM68 36h1v1h-1zM69 36h1v1h-1zM3 37h1v1h-1zM6 37h1v1h-1zM39 37h1v1h-1zM57 37h1v1h-1zM79 37h1v1h-1zM16 38h1v1h-1zM24 38h1v1h-1zM73 38h1v1h-1zM5 40h1v1h-1zM38 40h1v1h-1zM39 40h1v1h-1zM53 40h1v1h-1zM79 40h1v1h-1zM25 41h1v1h-1zM53 41h1v1h-1zM56 41h1v1h-1zM60 41h1v1h-1zM68 41h1v1h-1zM5 42h1v1h-1zM41 42h1v1h-1zM62 42h1v1h-1zM69 42h1v1h-1zM0 43h1v1h-1zM17 43h1v1h-1zM22 43h1v1h-1zM58 43h1v1h-1zM64 43h1v1h-1zM5 44h1v1h-1zM33 44h1v1h-1zM3 45h1v1h-1zM12 45h1v1h-1zM14 45h1v1h-1zM29 45h1v1h-1zM53 45h1v1h-1zM75 45h1v1h-1zM78 45h1v1h-1zM28 46h1v1h-1zM44 46h1v1h-1zM47 46h1v1h-1zM52 46h1v1h-1zM41 47h1v1h-1zM55 47h1v1h-1zM56 47h1v1h-1zM61 47h1v1h-1zM73 47h1v1h-1zM79 47h1v1h-1zM9 48h1v1h-1zM12 48h1v1h-1zM21 48h1v1h-1zM23 48h1v1h-1zM31 48h1v1h-1zM58 48h1v1h-1zM79 48h1v1h-1zM30 49h1v1h-1zM41 49h1v1h-1zM79 49h1v1h-1zM18 50h1v1h-1zM37 50h1v1h-1zM73 50h1v1h-1zM5 51h1v1h-1zM15 51h1v1h-1zM18 51h1v1h-1zM74 51h1v1h-1zM5 52h1v1h-1zM42 52h1v1h-1zM58 52h1v1h-1zM72 52h1v1h-1zM14 53h1v1h-1zM61 53h1v1h-1zM67 53h1v1h-1zM77 53h1v1h-1zM32 54h1v1h-1zM44 54h1v1h-1zM76 54h1v1h-1zM8 55h1v1h-1zM21 55h1v1h-1zM26 55h1v1h-1zM75 55h1v1h-1zM9 56h1v1h-1zM15 56h1v1h-1zM21 56h1v1h-1zM38 56h1v1h-1zM79 56h1v1h-1zM1 57h1v1h-1zM28 57h1v1h-1zM11 58h1v1h-1zM16 58h1v1h-1zM40 58h1v1h-1zM44 58h1v1h-1zM49 58h1v1h-1zM57 58h1v1h-1zM67 58h1v1h-1zM1 59h1v1h-1zM39 59h1v1h-1zM49 59h1v1h-1zM57 59h1v1h-1zM76 59h1v1h-1zM80 59h1v1h-1zM46 60h1v1h-1zM49 60h1v1h-1zM70 60h1v1h-1zM73 60h1v1h-1zM74 60h1v1h-1zM31 61h1v1h-1zM46 61h1v1h-1zM50 61h1v1h-1zM51 61h1v1h-1zM65 61h1v1h-1zM3 62h1v1h-1zM19 62h1v1h-1zM23 62h1v1h-1zM32 62h1v1h-1zM42 62h1v1h-1zM49 62h1v1h-1zM53 62h1v1h-1zM59 62h1v1h-1zM60 62h1v1h-1zM61 62h1v1h-1zM12 63h1v1h-1zM16 63h1v1h-1zM33 63h1v1h-1zM61 63h1v1h-1zM76 63h1v1h-1zM18 64h1v1h-1zM31 64h1v1h-1zM34 64h1v1h-1zM19 65h1v1h-1zM34 65h1v1h-1zM77 65h1v1h-1zM5 66h1v1h-1zM59 66h1v1h-1zM71 66h1v1h-1zM13 67h1v1h-1zM48 67h1v1h-1zM72 67h1v1h-1zM75 67h1v1h-1zM11 68h1v1h-1zM19 68h1v1h-1zM75 68h1v1h-1zM29 69h1v1h-1zM35 69h1v1h-1zM50 69h1v1h-1zM61 69h1v1h-1zM80 69h1v1h-1zM4 70h1v1h-1zM30 70h1v1h-1zM6 71h1v1h-1zM15 71h1v1h-1zM21 71h1v1h-1zM68 71h1v1h-1zM72 71h1v1h-1zM76 71h1v1h-1zM12 72h1v1h-1zM44 72h1v1h-1zM70 72h1v1h-1zM12 73h1v1h-1zM27 73h1v1h-1zM3 74h1v1h-1zM9 74h1v1h-1zM11 74h1v1h-1zM17 74h1v1h-1zM37 74h1v1h-1zM42 74h1v1h-1zM44 74h1v1h-1zM64 74h1v1h-1zM69 74h1v1h-1zM28 75h1v1h-1zM42 75h1v1h-1zM60 75h1v1h-1zM61 75h1v1h-1zM22 76h1v1h-1zM34 76h1v1h-1zM54 76h1v1h-1zM2 77h1v1h-1zM64 77h1v1h-1zM65 77h1v1h-1zM11 78h1v1h-1zM29 78h1v1h-1zM45 78h1v1h-1zM78 78h1v1h-1zM21 79h1v1h-1zM28 79h1v1h-1zM39 79h1v1h-1zM74 79h1v1h-1zM5 80h1v1h-1zM27 80h1v1h-1zM74 80h1v1h-1z"/>
<path fill="#454545" d="M8 0h1v1h-1zM24 0h1v1h-1zM34 0h1v1h-1zM56 0h1v1h-1zM59 0h1v1h-1zM65 0h1v1h-1zM0 1h1v1h-1zM9 1h1v1h-1zM11 1h1v1h-1zM21 1h1v1h-1zM25 1h1v1h-1zM49 1h1v1h-1zM50 1h1v1h-1zM55 1h1v1h-1zM59 1h1v1h-1zM80 1h1v1h-1zM54 2h1v1h-1zM16 3h1v1h-1zM31 3h1v1h-1zM33 3h1v1h-1zM61 3h1v1h-1zM68 3h1v1h-1zM71 3h1v1h-1zM72 3h1v1h-1zM19 4h1v1h-1zM30 4h1v1h-1zM31 4h1v1h-1zM76 4h1v1h-1zM77 4h1v1h-1zM80 4h1v1h-1zM17 5h1v1h-1zM20 5h1v1h-1zM32 5h1v1h-1zM45 5h1v1h-1zM50 5h1v1h-1zM59 5h1v1h-1zM39 6h1v1h-1zM46 6h1v1h-1zM64 6h1v1h-1zM65 6h1v1h-1zM71 6h1v1h-1zM78 6h1v1h-1zM13 7h1v1h-1zM31 7h1v1h-1zM46 7h1v1h-1zM14 8h1v1h-1zM23 8h1v1h-1zM24 8h1v1h-1zM29 8h1v1h-1zM39 8h1v1h-1zM53 8h1v1h-1zM56 8h1v1h-1zM63 8h1v1h-1zM14 10h1v1h-1zM15 10h1v1h-1zM50 10h1v1h-1zM55 10h1v1h-1zM78 10h1v1h-1zM79 10h1v1h-1zM21 11h1v1h-1zM25 11h1v1h-1zM26 11h1v1h-1zM36 11h1v1h-1zM42 11h1v1h-1zM77 11h1v1h-1zM25 12h1v1h-1zM47 12h1v1h-1zM66 12h1v1h-1zM67 12h1v1h-1zM13 13h1v1h-1zM14 13h1v1h-1zM37 13h1v1h-1zM42 13h1v1h-1zM47 13h1v1h-1zM69 13h1v1h-1zM71 13h1v1h-1zM9 14h1v1h-1zM20 14h1v1h-1zM25 14h1v1h-1zM30 15h1v1h-1zM33 15h1v1h-1zM45 15h1v1h-1zM48 15h1v1h-1zM60 15h1v1h-1zM5 16h1v1h-1zM23 16h1v1h-1zM31 16h1v1h-1zM48 16h1v1h-1zM76 16h1v1h-1zM12 17h1v1h-1zM66 17h1v1h-1zM75 17h1v1h-1zM21 18h1v1h-1zM24 18h1v1h-1zM27 18h1v1h-1zM63 18h1v1h-1zM11 19h1v1h-1zM44 19h1v1h-1zM22 20h1v1h-1zM28 20h1v1h-1zM37 20h1v1h-1zM44 20h1v1h-1zM54 20h1v1h-1zM59 20h1v1h-1zM2 21h1v1h-1zM12 21h1v1h-1zM14 21h1v1h-1zM29 21h1v1h-1zM30 21h1v1h-1zM55 21h1v1h-1zM58 21h1v1h-1zM78 21h1v1h-1zM6 22h1v1h-1zM59 22h1v1h-1zM65 22h1v1h-1zM3 23h1v1h-1zM10 23h1v1h-1zM13 23h1v1h-1zM31 23h1v1h-1zM33 23h1v1h-1zM38 23h1v1h-1zM1 24h1v1h-1zM6 24h1v1h-1zM13 24h1v1h-1zM53 24h1v1h-1zM13 25h1v1h-1zM16 25h1v1h-1zM72 25h1v1h-1zM73 25h1v1h-1zM17 26h1v1h-1zM27 26h1v1h-1zM42 26h1v1h-1zM46 26h1v1h-1zM55 26h1v1h-1zM61 26h1v1h-1zM15 27h1v1h-1zM17 27h1v1h-1zM26 27h1v1h-1zM70 27h1v1h-1zM8 28h1v1h-1zM35 28h1v1h-1zM60 28h1v1h-1zM13 29h1v1h-1zM46 29h1v1h-1zM55 29h1v1h-1zM56 29h1v1h-1zM63 29h1v1h-1zM13 30h1v1h-1zM15 30h1v1h-1zM40 30h1v1h-1zM48 30h1v1h-1zM57 30h1v1h-1zM75 30h1v1h-1zM3 31h1v1h-1zM20 32h1v1h-1zM71 32h1v1h-1zM75 32h1v1h-1zM4 33h1v1h-1zM53 33h1v1h-1zM66 33h1v1h-1zM70 33h1v1h-1zM10 34h1v1h-1zM39 34h1v1h-1zM49 34h1v1h-1zM61 34h1v1h-1zM65 34h1v1h-1zM1 35h1v1h-1zM17 35h1v1h-1zM18 35h1v1h-1zM21 35h1v1h-1zM32 35h1v1h-1zM38 35h1v1h-1zM47 35h1v1h-1zM65 35h1v1h-1zM7 36h1v1h-1zM19 36h1v1h-1zM43 36h1v1h-1zM48 36h1v1h-1zM8 37h1v1h-1zM12 37h1v1h-1zM36 37h1v1h-1zM48 37h1v1h-1zM65 37h1v1h-1zM68 37h1v1h-1zM73 37h1v1h-1zM74 37h1v1h-1zM0 38h1v1h-1zM31 38h1v1h-1zM36 38h1v1h-1zM50 38h1v1h-1zM57 38h1v1h-1zM69 38h1v1h-1zM80 38h1v1h-1zM4 39h1v1h-1zM5 39h1v1h-1zM11 39h1v1h-1zM14 40h1v1h-1zM25 40h1v1h-1zM64 40h1v1h-1zM11 41h1v1h-1zM22 41h1v1h-1zM37 41h1v1h-1zM70 41h1v1h-1zM20 42h1v1h-1zM51 42h1v1h-1zM55 42h1v1h-1zM58 42h1v1h-1zM7 43h1v1h-1zM13 43h1v1h-1zM28 43h1v1h-1zM65 43h1v1h-1zM70 43h1v1h-1zM76 43h1v1h-1zM4 44h1v1h-1zM6 44h1v1h-1zM19 44h1v1h-1zM27 44h1v1h-1zM51 44h1v1h-1zM59 44h1v1h-1zM72 44h1v1h-1zM80 44h1v1h-1zM54 45h1v1h-1zM0 46h1v1h-1zM2 46h1v1h-1zM24 46h1v1h-1zM45 46h1v1h-1zM49 46h1v1h-1zM57 46h1v1h-1zM70 46h1v1h-1zM0 47h1v1h-1zM39 47h1v1h-1zM49 47h1v1h-1zM52 47h1v1h-1zM30 48h1v1h-1zM3 49h1v1h-1zM6 49h1v1h-1zM7 49h1v1h-1zM10 49h1v1h-1zM22 49h1v1h-1zM46 49h1v1h-1zM66 49h1v1h-1zM67 49h1v1h-1zM76 49h1v1h-1zM10 50h1v1h-1zM6 51h1v1h-1zM24 51h1v1h-1zM31 51h1v1h-1zM32 51h1v1h-1zM47 51h1v1h-1zM57 51h1v1h-1zM9 52h1v1h-1zM17 52h1v1h-1zM25 52h1v1h-1zM31 52h1v1h-1zM59 52h1v1h-1zM64 52h1v1h-1zM77 52h1v1h-1zM3 53h1v1h-1zM31 53h1v1h-1zM41 53h1v1h-1zM59 53h1v1h-1zM72 53h1v1h-1zM10 54h1v1h-1zM13 54h1v1h-1zM48 54h1v1h-1zM68 54h1v1h-1zM30 55h1v1h-1zM63 55h1v1h-1zM68 55h1v1h-1zM69 55h1v1h-1zM26 56h1v1h-1zM44 56h1v1h-1zM47 56h1v1h-1zM48 56h1v1h-1zM70 56h1v1h-1zM73 56h1v1h-1zM8 57h1v1h-1zM11 57h1v1h-1zM29 57h1v1h-1zM47 57h1v1h-1zM55 57h1v1h-1zM65 57h1v1h-1zM74 57h1v1h-1zM2 58h1v1h-1zM22 58h1v1h-1zM45 58h1v1h-1zM68 58h1v1h-1zM76 58h1v1h-1zM33 59h1v1h-1zM46 59h1v1h-1zM64 59h1v1h-1zM27 60h1v1h-1zM31 60h1v1h-1zM53 60h1v1h-1zM56 60h1v1h-1zM60 60h1v1h-1zM61 60h1v1h-1zM69 60h1v1h-1zM72 60h1v1h-1zM10 61h1v1h-1zM29 61h1v1h-1zM37 61h1v1h-1zM40 61h1v1h-1zM45 61h1v1h-1zM56 61h1v1h-1zM70 61h1v1h-1zM78 61h1v1h-1zM7 62h1v1h-1zM44 62h1v1h-1zM65 62h1v1h-1zM1 63h1v1h-1zM13 63h1v1h-1zM44 63h1v1h-1zM50 63h1v1h-1zM53 63h1v1h-1zM57 63h1v1h-1zM12 64h1v1h-1zM4 65h1v1h-1zM7 65h1v1h-1zM16 65h1v1h-1zM28 65h1v1h-1zM45 65h1v1h-1zM2 66h1v1h-1zM12 66h1v1h-1zM21 66h1v1h-1zM30 66h1v1h-1zM33 66h1v1h-1zM0 67h1v1h-1zM6 67h1v1h-1zM9 67h1v1h-1zM17 67h1v1h-1zM18 67h1v1h-1zM37 67h1v1h-1zM58 67h1v1h-1zM73 67h1v1h-1zM0 68h1v1h-1zM1 68h1v1h-1zM26 68h1v1h-1zM27 68h1v1h-1zM29 68h1v1h-1zM44 68h1v1h-1zM48 68h1v1h-1zM3 69h1v1h-1zM8 69h1v1h-1zM17 69h1v1h-1zM26 69h1v1h-1zM51 69h1v1h-1zM78 69h1v1h-1zM16 70h1v1h-1zM27 70h1v1h-1zM44 70h1v1h-1zM54 70h1v1h-1zM65 70h1v1h-1zM66 70h1v1h-1zM77 70h1v1h-1zM11 71h1v1h-1zM37 71h1v1h-1zM67 71h1v1h-1zM79 71h1v1h-1zM80 71h1v1h-1zM41 72h1v1h-1zM23 73h1v1h-1zM24 73h1v1h-1zM14 74h1v1h-1zM29 74h1v1h-1zM43 74h1v1h-1zM53 74h1v1h-1zM55 74h1v1h-1zM72 74h1v1h-1zM54 75h1v1h-1zM55 75h1v1h-1zM58 75h1v1h-1zM14 76h1v1h-1zM19 76h1v1h-1zM23 76h1v1h-1zM49 76h1v1h-1zM23 77h1v1h-1zM49 77h1v1h-1zM67 77h1v1h-1zM71 77h1v1h-1zM1 78h1v1h-1zM20 78h1v1h-1zM43 78h1v1h-1zM52 78h1v1h-1zM64 78h1v1h-1zM8 79h1v1h-1zM25 79h1v1h-1zM45 79h1v1h-1zM71 79h1v1h-1zM79 79h1v1h-1zM4 80h1v1h-1zM6 80h1v1h-1zM16 80h1v1h-1zM26 80h1v1h-1zM46 80h1v1h-1zM54 80h1v1h-1zM57 80h1v1h-1z"/>
<path fill="#494949" d="M40 0h1v1h-1zM46 0h1v1h-1zM53 0h1v1h-1zM14 1h1v1h-1zM30 1h1v1h-1zM38 1h1v1h-1zM66 1h1v1h-1zM20 2h1v1h-1zM22 2h1v1h-1zM34 2h1v1h-1zM48 2h1v1h-1zM62 2h1v1h-1zM23 3h1v1h-1zM52 3h1v1h-1zM76 3h1v1h-1zM80 3h1v1h-1zM2 4h1v1h-1zM13 4h1v1h-1zM16 4h1v1h-1zM64 4h1v1h-1zM78 4h1v1h-1zM2 5h1v1h-1zM44 5h1v1h-1zM76 5h1v1h-1zM77 5h1v1h-1zM3 6h1v1h-1zM11 6h1v1h-1zM28 6h1v1h-1zM55 6h1v1h-1zM73 6h1v1h-1zM76 6h1v1h-1zM12 7h1v1h-1zM20 7h1v1h-1zM30 7h1v1h-1zM58 7h1v1h-1zM61 7h1v1h-1zM63 7h1v1h-1zM1 8h1v1h-1zM7 8h1v1h-1zM12 8h1v1h-1zM18 8h1v1h-1zM19 8h1v1h-1zM21 8h1v1h-1zM28 8h1v1h-1zM31 8h1v1h-1zM32 8h1v1h-1zM49 8h1v1h-1zM65 8h1v1h-1zM79 8h1v1h-1zM33 9h1v1h-1zM71 9h1v1h-1zM10 10h1v1h-1zM32 10h1v1h-1zM60 10h1v1h-1zM15 11h1v1h-1zM56 11h1v1h-1zM66 11h1v1h-1zM19 12h1v1h-1zM20 12h1v1h-1zM64 12h1v1h-1zM25 13h1v1h-1zM31 13h1v1h-1zM55 13h1v1h-1zM65 13h1v1h-1zM8 14h1v1h-1zM13 14h1v1h-1zM16 14h1v1h-1zM21 14h1v1h-1zM27 14h1v1h-1zM49 14h1v1h-1zM64 14h1v1h-1zM65 14h1v1h-1zM78 14h1v1h-1zM9 15h1v1h-1zM20 15h1v1h-1zM23 15h1v1h-1zM24 15h1v1h-1zM55 15h1v1h-1zM59 15h1v1h-1zM77 15h1v1h-1zM13 16h1v1h-1zM18 16h1v1h-1zM25 16h1v1h-1zM44 16h1v1h-1zM63 16h1v1h-1zM69 16h1v1h-1zM43 17h1v1h-1zM44 17h1v1h-1zM52 17h1v1h-1zM55 17h1v1h-1zM70 17h1v1h-1zM6 18h1v1h-1zM20 18h1v1h-1zM21 19h1v1h-1zM33 19h1v1h-1zM36 19h1v1h-1zM66 19h1v1h-1zM5 20h1v1h-1zM75 20h1v1h-1zM9 21h1v1h-1zM31 21h1v1h-1zM56 21h1v1h-1zM74 21h1v1h-1zM15 22h1v1h-1zM52 22h1v1h-1zM76 22h1v1h-1zM77 22h1v1h-1zM11 23h1v1h-1zM24 23h1v1h-1zM35 23h1v1h-1zM40 23h1v1h-1zM56 23h1v1h-1zM64 23h1v1h-1zM12 24h1v1h-1zM29 24h1v1h-1zM14 25h1v1h-1zM27 25h1v1h-1zM70 25h1v1h-1zM12 26h1v1h-1zM26 26h1v1h-1zM54 26h1v1h-1zM56 26h1v1h-1zM75 26h1v1h-1zM78 26h1v1h-1zM27 27h1v1h-1zM38 27h1v1h-1zM6 28h1v1h-1zM23 28h1v1h-1zM24 28h1v1h-1zM61 28h1v1h-1zM71 28h1v1h-1zM75 28h1v1h-1zM16 29h1v1h-1zM27 29h1v1h-1zM32 29h1v1h-1zM34 29h1v1h-1zM40 29h1v1h-1zM52 29h1v1h-1zM54 29h1v1h-1zM60 29h1v1h-1zM56 30h1v1h-1zM62 30h1v1h-1zM6 31h1v1h-1zM10 31h1v1h-1zM14 31h1v1h-1zM25 31h1v1h-1zM28 31h1v1h-1zM39 31h1v1h-1zM43 31h1v1h-1zM48 31h1v1h-1zM1 32h1v1h-1zM9 32h1v1h-1zM58 32h1v1h-1zM66 32h1v1h-1zM29 33h1v1h-1zM30 33h1v1h-1zM34 33h1v1h-1zM50 33h1v1h-1zM61 33h1v1h-1zM77 33h1v1h-1zM15 34h1v1h-1zM19 34h1v1h-1zM21 34h1v1h-1zM25 34h1v1h-1zM26 34h1v1h-1zM30 34h1v1h-1zM11 35h1v1h-1zM46 35h1v1h-1zM49 35h1v1h-1zM32 36h1v1h-1zM37 36h1v1h-1zM71 36h1v1h-1zM38 37h1v1h-1zM72 37h1v1h-1zM76 37h1v1h-1zM68 38h1v1h-1zM19 39h1v1h-1zM65 39h1v1h-1zM23 40h1v1h-1zM76 40h1v1h-1zM6 41h1v1h-1zM14 41h1v1h-1zM15 41h1v1h-1zM18 41h1v1h-1zM14 42h1v1h-1zM25 42h1v1h-1zM68 42h1v1h-1zM8 43h1v1h-1zM14 43h1v1h-1zM37 43h1v1h-1zM42 43h1v1h-1zM80 43h1v1h-1zM7 44h1v1h-1zM8 44h1v1h-1zM9 44h1v1h-1zM13 44h1v1h-1zM56 44h1v1h-1zM71 44h1v1h-1zM64 45h1v1h-1zM72 45h1v1h-1zM77 45h1v1h-1zM79 45h1v1h-1zM5 46h1v1h-1zM13 46h1v1h-1zM17 46h1v1h-1zM54 46h1v1h-1zM66 46h1v1h-1zM79 46h1v1h-1zM12 47h1v1h-1zM13 47h1v1h-1zM21 47h1v1h-1zM14 48h1v1h-1zM39 48h1v1h-1zM55 48h1v1h-1zM60 48h1v1h-1zM74 48h1v1h-1zM43 49h1v1h-1zM65 49h1v1h-1zM69 49h1v1h-1zM74 49h1v1h-1zM78 49h1v1h-1zM5 50h1v1h-1zM23 50h1v1h-1zM31 50h1v1h-1zM68 50h1v1h-1zM76 50h1v1h-1zM1 51h1v1h-1zM22 51h1v1h-1zM60 51h1v1h-1zM73 51h1v1h-1zM6 52h1v1h-1zM36 52h1v1h-1zM40 52h1v1h-1zM6 53h1v1h-1zM25 53h1v1h-1zM39 53h1v1h-1zM63 53h1v1h-1zM2 54h1v1h-1zM6 54h1v1h-1zM9 54h1v1h-1zM69 54h1v1h-1zM70 54h1v1h-1zM62 55h1v1h-1zM5 56h1v1h-1zM13 56h1v1h-1zM40 56h1v1h-1zM57 56h1v1h-1zM69 56h1v1h-1zM71 56h1v1h-1zM77 56h1v1h-1zM9 57h1v1h-1zM21 57h1v1h-1zM34 57h1v1h-1zM44 57h1v1h-1zM37 58h1v1h-1zM50 58h1v1h-1zM63 58h1v1h-1zM16 59h1v1h-1zM48 59h1v1h-1zM59 59h1v1h-1zM75 59h1v1h-1zM4 60h1v1h-1zM10 60h1v1h-1zM11 60h1v1h-1zM23 60h1v1h-1zM28 60h1v1h-1zM40 60h1v1h-1zM47 60h1v1h-1zM55 60h1v1h-1zM26 61h1v1h-1zM34 61h1v1h-1zM66 61h1v1h-1zM17 62h1v1h-1zM54 62h1v1h-1zM67 62h1v1h-1zM73 62h1v1h-1zM75 62h1v1h-1zM0 63h1v1h-1zM11 63h1v1h-1zM19 63h1v1h-1zM27 63h1v1h-1zM32 63h1v1h-1zM35 63h1v1h-1zM56 63h1v1h-1zM80 63h1v1h-1zM4 64h1v1h-1zM37 64h1v1h-1zM40 64h1v1h-1zM46 64h1v1h-1zM48 64h1v1h-1zM55 64h1v1h-1zM61 64h1v1h-1zM78 64h1v1h-1zM79 64h1v1h-1zM80 64h1v1h-1zM3 65h1v1h-1zM8 65h1v1h-1zM13 65h1v1h-1zM36 65h1v1h-1zM39 65h1v1h-1zM41 65h1v1h-1zM76 65h1v1h-1zM8 66h1v1h-1zM54 66h1v1h-1zM65 66h1v1h-1zM72 66h1v1h-1zM36 67h1v1h-1zM50 67h1v1h-1zM78 67h1v1h-1zM6 68h1v1h-1zM32 68h1v1h-1zM34 68h1v1h-1zM35 68h1v1h-1zM59 68h1v1h-1zM0 69h1v1h-1zM32 69h1v1h-1zM67 69h1v1h-1zM28 70h1v1h-1zM38 70h1v1h-1zM41 70h1v1h-1zM48 70h1v1h-1zM69 70h1v1h-1zM72 70h1v1h-1zM24 71h1v1h-1zM78 71h1v1h-1zM13 72h1v1h-1zM30 72h1v1h-1zM3 73h1v1h-1zM47 73h1v1h-1zM70 73h1v1h-1zM10 74h1v1h-1zM75 74h1v1h-1zM7 75h1v1h-1zM31 75h1v1h-1zM40 75h1v1h-1zM70 75h1v1h-1zM77 75h1v1h-1zM6 76h1v1h-1zM7 76h1v1h-1zM9 76h1v1h-1zM18 76h1v1h-1zM41 76h1v1h-1zM45 76h1v1h-1zM62 76h1v1h-1zM67 76h1v1h-1zM76 76h1v1h-1zM8 77h1v1h-1zM15 77h1v1h-1zM54 77h1v1h-1zM74 77h1v1h-1zM78 77h1v1h-1zM23 78h1v1h-1zM53 78h1v1h-1zM66 78h1v1h-1zM75 78h1v1h-1zM9 79h1v1h-1zM27 79h1v1h-1zM29 79h1v1h-1zM53 79h1v1h-1zM54 79h1v1h-1zM13 80h1v1h-1zM14 80h1v1h-1zM15 80h1v1h-1zM25 80h1v1h-1zM34 80h1v1h-1zM58 80h1v1h-1zM66 80h1v1h-1zM70 80h1v1h-1z"/>
<path fill="#4d4d4d" d="M10 0h1v1h-1zM11 0h1v1h-1zM44 0h1v1h-1zM54 0h1v1h-1zM75 0h1v1h-1zM10 1h1v1h-1zM12 1h1v1h-1zM65 1h1v1h-1zM9 2h1v1h-1zM26 2h1v1h-1zM39 2h1v1h-1zM53 2h1v1h-1zM80 2h1v1h-1zM13 3h1v1h-1zM15 3h1v1h-1zM17 3h1v1h-1zM36 3h1v1h-1zM37 3h1v1h-1zM43 3h1v1h-1zM78 3h1v1h-1zM52 4h1v1h-1zM60 4h1v1h-1zM73 4h1v1h-1zM38 5h1v1h-1zM46 5h1v1h-1zM78 5h1v1h-1zM4 6h1v1h-1zM4 7h1v1h-1zM17 7h1v1h-1zM27 7h1v1h-1zM0 8h1v1h-1zM61 8h1v1h-1zM75 8h1v1h-1zM37 9h1v1h-1zM54 9h1v1h-1zM60 9h1v1h-1zM44 10h1v1h-1zM45 10h1v1h-1zM47 10h1v1h-1zM56 10h1v1h-1zM64 10h1v1h-1zM2 11h1v1h-1zM5 11h1v1h-1zM19 11h1v1h-1zM30 11h1v1h-1zM39 11h1v1h-1zM3 12h1v1h-1zM12 12h1v1h-1zM13 12h1v1h-1zM24 12h1v1h-1zM29 12h1v1h-1zM37 12h1v1h-1zM19 13h1v1h-1zM61 13h1v1h-1zM14 14h1v1h-1zM72 14h1v1h-1zM74 14h1v1h-1zM11 15h1v1h-1zM73 15h1v1h-1zM7 16h1v1h-1zM20 16h1v1h-1zM37 16h1v1h-1zM56 16h1v1h-1zM10 17h1v1h-1zM29 17h1v1h-1zM37 17h1v1h-1zM54 17h1v1h-1zM23 18h1v1h-1zM68 18h1v1h-1zM8 19h1v1h-1zM28 19h1v1h-1zM31 19h1v1h-1zM72 19h1v1h-1zM76 19h1v1h-1zM2 20h1v1h-1zM18 21h1v1h-1zM21 21h1v1h-1zM25 21h1v1h-1zM33 21h1v1h-1zM34 21h1v1h-1zM60 21h1v1h-1zM62 21h1v1h-1zM3 22h1v1h-1zM36 22h1v1h-1zM44 22h1v1h-1zM0 23h1v1h-1zM50 23h1v1h-1zM53 23h1v1h-1zM58 23h1v1h-1zM72 23h1v1h-1zM30 24h1v1h-1zM2 26h1v1h-1zM4 26h1v1h-1zM9 26h1v1h-1zM35 26h1v1h-1zM47 26h1v1h-1zM49 26h1v1h-1zM5 27h1v1h-1zM33 27h1v1h-1zM48 27h1v1h-1zM57 27h1v1h-1zM60 27h1v1h-1zM64 27h1v1h-1zM65 27h1v1h-1zM80 27h1v1h-1zM10 28h1v1h-1zM16 28h1v1h-1zM26 28h1v1h-1zM32 28h1v1h-1zM34 28h1v1h-1zM68 28h1v1h-1zM80 28h1v1h-1zM29 29h1v1h-1zM30 29h1v1h-1zM31 29h1v1h-1zM33 29h1v1h-1zM64 29h1v1h-1zM69 29h1v1h-1zM30 30h1v1h-1zM53 30h1v1h-1zM73 30h1v1h-1zM27 31h1v1h-1zM29 31h1v1h-1zM40 31h1v1h-1zM45 31h1v1h-1zM46 31h1v1h-1zM51 31h1v1h-1zM54 31h1v1h-1zM64 31h1v1h-1zM5 32h1v1h-1zM33 32h1v1h-1zM48 32h1v1h-1zM63 32h1v1h-1zM67 32h1v1h-1zM56 33h1v1h-1zM67 33h1v1h-1zM23 34h1v1h-1zM24 34h1v1h-1zM45 34h1v1h-1zM75 34h1v1h-1zM3 35h1v1h-1zM4 35h1v1h-1zM23 35h1v1h-1zM39 35h1v1h-1zM41 35h1v1h-1zM44 35h1v1h-1zM59 35h1v1h-1zM77 35h1v1h-1zM8 36h1v1h-1zM27 36h1v1h-1zM56 36h1v1h-1zM70 36h1v1h-1zM5 37h1v1h-1zM37 37h1v1h-1zM69 37h1v1h-1zM18 38h1v1h-1zM23 38h1v1h-1zM72 38h1v1h-1zM0 39h1v1h-1zM2 39h1v1h-1zM7 39h1v1h-1zM25 39h1v1h-1zM46 39h1v1h-1zM50 39h1v1h-1zM59 39h1v1h-1zM78 39h1v1h-1zM13 40h1v1h-1zM31 40h1v1h-1zM5 41h1v1h-1zM20 41h1v1h-1zM26 41h1v1h-1zM36 41h1v1h-1zM62 41h1v1h-1zM76 41h1v1h-1zM11 42h1v1h-1zM13 42h1v1h-1zM39 42h1v1h-1zM71 42h1v1h-1zM77 42h1v1h-1zM79 42h1v1h-1zM50 43h1v1h-1zM68 43h1v1h-1zM17 44h1v1h-1zM25 44h1v1h-1zM30 44h1v1h-1zM36 44h1v1h-1zM38 44h1v1h-1zM65 44h1v1h-1zM68 44h1v1h-1zM45 45h1v1h-1zM49 45h1v1h-1zM59 45h1v1h-1zM63 45h1v1h-1zM7 46h1v1h-1zM11 46h1v1h-1zM20 46h1v1h-1zM33 46h1v1h-1zM61 46h1v1h-1zM24 47h1v1h-1zM26 47h1v1h-1zM36 47h1v1h-1zM48 47h1v1h-1zM60 47h1v1h-1zM69 47h1v1h-1zM72 47h1v1h-1zM77 47h1v1h-1zM33 48h1v1h-1zM54 48h1v1h-1zM69 48h1v1h-1zM9 49h1v1h-1zM12 49h1v1h-1zM18 49h1v1h-1zM40 49h1v1h-1zM53 49h1v1h-1zM80 49h1v1h-1zM4 50h1v1h-1zM6 50h1v1h-1zM8 50h1v1h-1zM40 50h1v1h-1zM41 50h1v1h-1zM45 50h1v1h-1zM4 51h1v1h-1zM13 51h1v1h-1zM42 51h1v1h-1zM58 51h1v1h-1zM72 51h1v1h-1zM8 52h1v1h-1zM65 52h1v1h-1zM13 53h1v1h-1zM15 53h1v1h-1zM22 53h1v1h-1zM54 53h1v1h-1zM58 53h1v1h-1zM66 53h1v1h-1zM71 53h1v1h-1zM22 54h1v1h-1zM28 54h1v1h-1zM31 54h1v1h-1zM63 54h1v1h-1zM73 54h1v1h-1zM15 55h1v1h-1zM4 56h1v1h-1zM24 56h1v1h-1zM56 56h1v1h-1zM65 56h1v1h-1zM2 57h1v1h-1zM57 57h1v1h-1zM75 57h1v1h-1zM0 58h1v1h-1zM28 58h1v1h-1zM38 58h1v1h-1zM58 58h1v1h-1zM14 59h1v1h-1zM23 59h1v1h-1zM34 59h1v1h-1zM42 59h1v1h-1zM7 60h1v1h-1zM35 60h1v1h-1zM59 60h1v1h-1zM75 60h1v1h-1zM80 60h1v1h-1zM2 61h1v1h-1zM16 61h1v1h-1zM27 61h1v1h-1zM36 61h1v1h-1zM38 61h1v1h-1zM39 61h1v1h-1zM42 61h1v1h-1zM43 61h1v1h-1zM54 61h1v1h-1zM61 61h1v1h-1zM67 61h1v1h-1zM13 62h1v1h-1zM37 62h1v1h-1zM56 62h1v1h-1zM5 63h1v1h-1zM7 63h1v1h-1zM8 63h1v1h-1zM14 63h1v1h-1zM74 63h1v1h-1zM30 64h1v1h-1zM47 64h1v1h-1zM73 64h1v1h-1zM5 65h1v1h-1zM20 65h1v1h-1zM40 65h1v1h-1zM72 65h1v1h-1zM47 66h1v1h-1zM53 66h1v1h-1zM56 66h1v1h-1zM75 66h1v1h-1zM1 67h1v1h-1zM35 67h1v1h-1zM52 67h1v1h-1zM40 68h1v1h-1zM43 68h1v1h-1zM61 68h1v1h-1zM72 68h1v1h-1zM7 69h1v1h-1zM28 69h1v1h-1zM42 69h1v1h-1zM43 69h1v1h-1zM44 69h1v1h-1zM45 69h1v1h-1zM56 69h1v1h-1zM68 69h1v1h-1zM76 69h1v1h-1zM77 69h1v1h-1zM3 70h1v1h-1zM17 70h1v1h-1zM62 70h1v1h-1zM71 70h1v1h-1zM14 71h1v1h-1zM40 71h1v1h-1zM7 72h1v1h-1zM8 72h1v1h-1zM11 72h1v1h-1zM29 72h1v1h-1zM66 72h1v1h-1zM77 72h1v1h-1zM4 73h1v1h-1zM11 73h1v1h-1zM16 73h1v1h-1zM17 73h1v1h-1zM33 73h1v1h-1zM43 73h1v1h-1zM54 73h1v1h-1zM25 74h1v1h-1zM32 74h1v1h-1zM40 74h1v1h-1zM50 74h1v1h-1zM74 74h1v1h-1zM1 75h1v1h-1zM16 75h1v1h-1zM17 75h1v1h-1zM19 75h1v1h-1zM39 75h1v1h-1zM45 75h1v1h-1zM47 75h1v1h-1zM15 76h1v1h-1zM40 76h1v1h-1zM53 76h1v1h-1zM43 77h1v1h-1zM44 77h1v1h-1zM3 78h1v1h-1zM14 78h1v1h-1zM36 78h1v1h-1zM4 79h1v1h-1zM13 79h1v1h-1zM36 79h1v1h-1zM40 79h1v1h-1zM78 79h1v1h-1zM41 80h1v1h-1zM50 80h1v1h-1zM59 80h1v1h-1zM60 80h1v1h-1z"/>
<path fill="#515151" d="M1 0h1v1h-1zM8 1h1v1h-1zM35 2h1v1h-1zM79 2h1v1h-1zM42 3h1v1h-1zM58 3h1v1h-1zM36 4h1v1h-1zM12 6h1v1h-1zM16 7h1v1h-1zM43 7h1v1h-1zM47 7h1v1h-1zM50 7h1v1h-1zM2 8h1v1h-1zM38 8h1v1h-1zM52 8h1v1h-1zM66 8h1v1h-1zM76 8h1v1h-1zM43 9h1v1h-1zM79 9h1v1h-1zM66 10h1v1h-1zM70 10h1v1h-1zM77 10h1v1h-1zM13 11h1v1h-1zM14 11h1v1h-1zM31 11h1v1h-1zM32 11h1v1h-1zM15 12h1v1h-1zM30 12h1v1h-1zM34 12h1v1h-1zM48 12h1v1h-1zM68 12h1v1h-1zM73 12h1v1h-1zM78 12h1v1h-1zM80 12h1v1h-1zM32 13h1v1h-1zM64 13h1v1h-1zM48 14h1v1h-1zM55 14h1v1h-1zM63 14h1v1h-1zM7 15h1v1h-1zM14 15h1v1h-1zM31 15h1v1h-1zM30 16h1v1h-1zM61 16h1v1h-1zM73 16h1v1h-1zM80 16h1v1h-1zM2 18h1v1h-1zM72 18h1v1h-1zM79 18h1v1h-1zM9 19h1v1h-1zM20 19h1v1h-1zM37 19h1v1h-1zM43 19h1v1h-1zM48 19h1v1h-1zM14 20h1v1h-1zM47 21h1v1h-1zM64 21h1v1h-1zM18 22h1v1h-1zM34 22h1v1h-1zM61 22h1v1h-1zM74 22h1v1h-1zM66 23h1v1h-1zM5 24h1v1h-1zM40 24h1v1h-1zM41 24h1v1h-1zM60 24h1v1h-1zM79 24h1v1h-1zM12 25h1v1h-1zM53 25h1v1h-1zM6 26h1v1h-1zM10 26h1v1h-1zM45 26h1v1h-1zM29 27h1v1h-1zM31 27h1v1h-1zM47 28h1v1h-1zM67 28h1v1h-1zM79 28h1v1h-1zM70 29h1v1h-1zM23 30h1v1h-1zM32 30h1v1h-1zM76 30h1v1h-1zM7 31h1v1h-1zM34 31h1v1h-1zM77 31h1v1h-1zM22 32h1v1h-1zM35 32h1v1h-1zM43 32h1v1h-1zM64 32h1v1h-1zM20 33h1v1h-1zM32 33h1v1h-1zM40 33h1v1h-1zM52 33h1v1h-1zM69 33h1v1h-1zM22 34h1v1h-1zM27 34h1v1h-1zM31 34h1v1h-1zM10 35h1v1h-1zM14 35h1v1h-1zM53 35h1v1h-1zM67 35h1v1h-1zM12 36h1v1h-1zM21 36h1v1h-1zM26 36h1v1h-1zM44 36h1v1h-1zM54 36h1v1h-1zM16 37h1v1h-1zM30 37h1v1h-1zM32 37h1v1h-1zM53 37h1v1h-1zM75 37h1v1h-1zM3 38h1v1h-1zM14 38h1v1h-1zM77 38h1v1h-1zM9 39h1v1h-1zM16 39h1v1h-1zM24 39h1v1h-1zM52 39h1v1h-1zM57 39h1v1h-1zM68 39h1v1h-1zM16 40h1v1h-1zM17 40h1v1h-1zM34 40h1v1h-1zM56 40h1v1h-1zM63 41h1v1h-1zM72 41h1v1h-1zM7 42h1v1h-1zM21 42h1v1h-1zM28 42h1v1h-1zM10 43h1v1h-1zM33 43h1v1h-1zM38 43h1v1h-1zM10 44h1v1h-1zM12 44h1v1h-1zM24 44h1v1h-1zM28 44h1v1h-1zM24 45h1v1h-1zM57 45h1v1h-1zM74 45h1v1h-1zM25 46h1v1h-1zM64 46h1v1h-1zM1 47h1v1h-1zM2 47h1v1h-1zM51 47h1v1h-1zM54 47h1v1h-1zM4 48h1v1h-1zM63 48h1v1h-1zM70 48h1v1h-1zM25 49h1v1h-1zM35 49h1v1h-1zM63 49h1v1h-1zM70 49h1v1h-1zM22 50h1v1h-1zM25 50h1v1h-1zM61 50h1v1h-1zM70 50h1v1h-1zM40 51h1v1h-1zM5 53h1v1h-1zM8 53h1v1h-1zM9 53h1v1h-1zM10 53h1v1h-1zM17 53h1v1h-1zM30 53h1v1h-1zM49 53h1v1h-1zM62 53h1v1h-1zM14 54h1v1h-1zM54 54h1v1h-1zM28 55h1v1h-1zM31 55h1v1h-1zM39 55h1v1h-1zM48 55h1v1h-1zM76 55h1v1h-1zM78 55h1v1h-1zM11 56h1v1h-1zM30 56h1v1h-1zM80 56h1v1h-1zM27 57h1v1h-1zM31 57h1v1h-1zM32 57h1v1h-1zM33 57h1v1h-1zM56 57h1v1h-1zM9 58h1v1h-1zM41 58h1v1h-1zM60 58h1v1h-1zM70 58h1v1h-1zM27 59h1v1h-1zM37 59h1v1h-1zM45 59h1v1h-1zM14 60h1v1h-1zM33 60h1v1h-1zM58 60h1v1h-1zM68 60h1v1h-1zM33 61h1v1h-1zM41 61h1v1h-1zM21 62h1v1h-1zM24 62h1v1h-1zM15 63h1v1h-1zM24 63h1v1h-1zM34 63h1v1h-1zM0 64h1v1h-1zM16 64h1v1h-1zM17 64h1v1h-1zM24 64h1v1h-1zM33 64h1v1h-1zM41 64h1v1h-1zM0 65h1v1h-1zM1 65h1v1h-1zM10 65h1v1h-1zM11 65h1v1h-1zM14 65h1v1h-1zM17 65h1v1h-1zM21 65h1v1h-1zM37 65h1v1h-1zM79 65h1v1h-1zM0 66h1v1h-1zM35 66h1v1h-1zM50 66h1v1h-1zM51 66h1v1h-1zM76 66h1v1h-1zM34 67h1v1h-1zM2 68h1v1h-1zM10 68h1v1h-1zM17 68h1v1h-1zM28 68h1v1h-1zM46 68h1v1h-1zM52 68h1v1h-1zM36 69h1v1h-1zM57 69h1v1h-1zM50 70h1v1h-1zM52 70h1v1h-1zM67 70h1v1h-1zM3 71h1v1h-1zM51 71h1v1h-1zM59 71h1v1h-1zM62 71h1v1h-1zM71 71h1v1h-1zM10 72h1v1h-1zM33 72h1v1h-1zM60 72h1v1h-1zM73 72h1v1h-1zM10 73h1v1h-1zM14 73h1v1h-1zM73 73h1v1h-1zM4 74h1v1h-1zM7 74h1v1h-1zM34 74h1v1h-1zM60 74h1v1h-1zM2 75h1v1h-1zM8 75h1v1h-1zM14 75h1v1h-1zM48 75h1v1h-1zM59 75h1v1h-1zM63 75h1v1h-1zM75 75h1v1h-1zM19 77h1v1h-1zM24 77h1v1h-1zM52 77h1v1h-1zM53 77h1v1h-1zM72 77h1v1h-1zM10 78h1v1h-1zM6 79h1v1h-1zM42 79h1v1h-1zM46 79h1v1h-1zM64 79h1v1h-1zM0 80h1v1h-1zM20 80h1v1h-1zM24 80h1v1h-1zM32 80h1v1h-1z"/>
<path fill="#555555" d="M79 0h1v1h-1zM77 1h1v1h-1zM32 2h1v1h-1zM40 2h1v1h-1zM49 2h1v1h-1zM71 2h1v1h-1zM2 3h1v1h-1zM19 3h1v1h-1zM12 4h1v1h-1zM38 4h1v1h-1zM37 5h1v1h-1zM18 6h1v1h-1zM11 7h1v1h-1zM23 7h1v1h-1zM29 7h1v1h-1zM54 7h1v1h-1zM56 7h1v1h-1zM71 7h1v1h-1zM43 8h1v1h-1zM55 8h1v1h-1zM32 9h1v1h-1zM38 9h1v1h-1zM76 9h1v1h-1zM61 10h1v1h-1zM69 10h1v1h-1zM9 11h1v1h-1zM12 11h1v1h-1zM24 11h1v1h-1zM73 11h1v1h-1zM75 11h1v1h-1zM78 11h1v1h-1zM54 12h1v1h-1zM6 13h1v1h-1zM15 13h1v1h-1zM78 13h1v1h-1zM32 14h1v1h-1zM45 14h1v1h-1zM57 14h1v1h-1zM6 15h1v1h-1zM71 15h1v1h-1zM39 16h1v1h-1zM33 17h1v1h-1zM56 17h1v1h-1zM57 17h1v1h-1zM76 17h1v1h-1zM29 19h1v1h-1zM52 19h1v1h-1zM69 19h1v1h-1zM29 20h1v1h-1zM48 20h1v1h-1zM7 21h1v1h-1zM35 21h1v1h-1zM50 21h1v1h-1zM76 21h1v1h-1zM79 21h1v1h-1zM24 22h1v1h-1zM27 22h1v1h-1zM33 22h1v1h-1zM38 22h1v1h-1zM40 22h1v1h-1zM68 22h1v1h-1zM75 22h1v1h-1zM1 23h1v1h-1zM18 23h1v1h-1zM36 23h1v1h-1zM41 23h1v1h-1zM57 23h1v1h-1zM32 24h1v1h-1zM50 24h1v1h-1zM26 25h1v1h-1zM56 25h1v1h-1zM66 25h1v1h-1zM74 25h1v1h-1zM76 25h1v1h-1zM29 26h1v1h-1zM33 26h1v1h-1zM64 26h1v1h-1zM19 27h1v1h-1zM32 27h1v1h-1zM63 28h1v1h-1zM74 28h1v1h-1zM15 29h1v1h-1zM25 29h1v1h-1zM14 30h1v1h-1zM31 30h1v1h-1zM61 30h1v1h-1zM63 30h1v1h-1zM12 31h1v1h-1zM33 31h1v1h-1zM42 31h1v1h-1zM57 31h1v1h-1zM67 31h1v1h-1zM76 31h1v1h-1zM16 32h1v1h-1zM18 32h1v1h-1zM34 32h1v1h-1zM62 32h1v1h-1zM73 32h1v1h-1zM34 34h1v1h-1zM50 34h1v1h-1zM54 34h1v1h-1zM19 35h1v1h-1zM24 35h1v1h-1zM63 35h1v1h-1zM16 36h1v1h-1zM46 36h1v1h-1zM51 36h1v1h-1zM53 36h1v1h-1zM17 37h1v1h-1zM26 37h1v1h-1zM50 37h1v1h-1zM5 38h1v1h-1zM10 38h1v1h-1zM64 38h1v1h-1zM67 38h1v1h-1zM70 38h1v1h-1zM36 39h1v1h-1zM56 39h1v1h-1zM4 40h1v1h-1zM42 41h1v1h-1zM32 42h1v1h-1zM37 42h1v1h-1zM43 42h1v1h-1zM50 42h1v1h-1zM60 42h1v1h-1zM63 42h1v1h-1zM12 43h1v1h-1zM60 43h1v1h-1zM11 44h1v1h-1zM21 44h1v1h-1zM35 44h1v1h-1zM76 44h1v1h-1zM7 45h1v1h-1zM19 45h1v1h-1zM71 45h1v1h-1zM4 47h1v1h-1zM50 47h1v1h-1zM19 48h1v1h-1zM40 48h1v1h-1zM47 48h1v1h-1zM50 48h1v1h-1zM56 48h1v1h-1zM42 49h1v1h-1zM64 49h1v1h-1zM56 50h1v1h-1zM12 51h1v1h-1zM46 51h1v1h-1zM79 51h1v1h-1zM4 52h1v1h-1zM18 52h1v1h-1zM28 52h1v1h-1zM48 52h1v1h-1zM52 52h1v1h-1zM61 52h1v1h-1zM16 53h1v1h-1zM12 54h1v1h-1zM15 54h1v1h-1zM33 54h1v1h-1zM38 54h1v1h-1zM39 54h1v1h-1zM57 54h1v1h-1zM11 55h1v1h-1zM27 55h1v1h-1zM38 55h1v1h-1zM57 55h1v1h-1zM10 56h1v1h-1zM33 56h1v1h-1zM39 56h1v1h-1zM50 56h1v1h-1zM75 56h1v1h-1zM77 57h1v1h-1zM55 58h1v1h-1zM59 58h1v1h-1zM65 58h1v1h-1zM28 59h1v1h-1zM56 59h1v1h-1zM70 59h1v1h-1zM0 60h1v1h-1zM26 60h1v1h-1zM9 62h1v1h-1zM14 62h1v1h-1zM34 62h1v1h-1zM43 62h1v1h-1zM70 62h1v1h-1zM52 63h1v1h-1zM71 63h1v1h-1zM56 64h1v1h-1zM18 65h1v1h-1zM30 65h1v1h-1zM10 66h1v1h-1zM16 66h1v1h-1zM17 66h1v1h-1zM22 66h1v1h-1zM34 66h1v1h-1zM37 66h1v1h-1zM57 66h1v1h-1zM28 67h1v1h-1zM54 67h1v1h-1zM47 68h1v1h-1zM57 68h1v1h-1zM60 68h1v1h-1zM78 68h1v1h-1zM2 69h1v1h-1zM16 69h1v1h-1zM1 70h1v1h-1zM5 70h1v1h-1zM26 70h1v1h-1zM33 70h1v1h-1zM35 70h1v1h-1zM46 70h1v1h-1zM55 70h1v1h-1zM3 72h1v1h-1zM6 72h1v1h-1zM31 72h1v1h-1zM74 72h1v1h-1zM5 73h1v1h-1zM6 73h1v1h-1zM22 73h1v1h-1zM30 73h1v1h-1zM39 73h1v1h-1zM20 74h1v1h-1zM24 74h1v1h-1zM10 75h1v1h-1zM30 75h1v1h-1zM34 75h1v1h-1zM50 75h1v1h-1zM57 75h1v1h-1zM44 76h1v1h-1zM20 77h1v1h-1zM37 77h1v1h-1zM40 77h1v1h-1zM68 77h1v1h-1zM2 78h1v1h-1zM2 79h1v1h-1zM58 79h1v1h-1zM8 80h1v1h-1zM39 80h1v1h-1zM64 80h1v1h-1zM75 80h1v1h-1z"/>
<path fill="#595959" d="M57 0h1v1h-1zM29 1h1v1h-1zM67 1h1v1h-1zM0 2h1v1h-1zM25 2h1v1h-1zM33 2h1v1h-1zM14 3h1v1h-1zM32 3h1v1h-1zM50 3h1v1h-1zM51 3h1v1h-1zM57 3h1v1h-1zM63 3h1v1h-1zM17 4h1v1h-1zM45 4h1v1h-1zM13 5h1v1h-1zM51 5h1v1h-1zM17 6h1v1h-1zM77 6h1v1h-1zM0 7h1v1h-1zM55 7h1v1h-1zM65 7h1v1h-1zM70 7h1v1h-1zM36 9h1v1h-1zM49 9h1v1h-1zM61 9h1v1h-1zM75 9h1v1h-1zM16 10h1v1h-1zM48 10h1v1h-1zM20 11h1v1h-1zM68 11h1v1h-1zM80 11h1v1h-1zM11 12h1v1h-1zM14 12h1v1h-1zM16 12h1v1h-1zM20 13h1v1h-1zM33 13h1v1h-1zM49 13h1v1h-1zM63 13h1v1h-1zM3 14h1v1h-1zM59 14h1v1h-1zM73 14h1v1h-1zM16 15h1v1h-1zM25 15h1v1h-1zM57 15h1v1h-1zM64 15h1v1h-1zM68 15h1v1h-1zM43 16h1v1h-1zM3 17h1v1h-1zM21 17h1v1h-1zM50 17h1v1h-1zM17 18h1v1h-1zM48 18h1v1h-1zM54 18h1v1h-1zM53 19h1v1h-1zM7 20h1v1h-1zM9 20h1v1h-1zM33 20h1v1h-1zM10 21h1v1h-1zM11 21h1v1h-1zM29 22h1v1h-1zM67 22h1v1h-1zM69 22h1v1h-1zM73 22h1v1h-1zM27 23h1v1h-1zM28 23h1v1h-1zM19 24h1v1h-1zM28 24h1v1h-1zM80 24h1v1h-1zM60 25h1v1h-1zM61 25h1v1h-1zM78 25h1v1h-1zM19 26h1v1h-1zM6 27h1v1h-1zM10 27h1v1h-1zM18 27h1v1h-1zM69 27h1v1h-1zM79 27h1v1h-1zM17 28h1v1h-1zM57 28h1v1h-1zM18 29h1v1h-1zM19 29h1v1h-1zM59 29h1v1h-1zM10 30h1v1h-1zM25 30h1v1h-1zM29 30h1v1h-1zM58 30h1v1h-1zM56 31h1v1h-1zM69 31h1v1h-1zM57 32h1v1h-1zM3 33h1v1h-1zM16 33h1v1h-1zM47 33h1v1h-1zM49 33h1v1h-1zM35 34h1v1h-1zM36 34h1v1h-1zM42 34h1v1h-1zM47 34h1v1h-1zM8 35h1v1h-1zM16 35h1v1h-1zM27 35h1v1h-1zM42 35h1v1h-1zM50 35h1v1h-1zM61 35h1v1h-1zM4 36h1v1h-1zM47 36h1v1h-1zM7 37h1v1h-1zM28 37h1v1h-1zM54 37h1v1h-1zM64 37h1v1h-1zM27 38h1v1h-1zM48 38h1v1h-1zM78 38h1v1h-1zM15 39h1v1h-1zM31 39h1v1h-1zM40 39h1v1h-1zM47 39h1v1h-1zM49 39h1v1h-1zM53 39h1v1h-1zM76 39h1v1h-1zM18 40h1v1h-1zM42 40h1v1h-1zM33 41h1v1h-1zM38 41h1v1h-1zM71 41h1v1h-1zM80 41h1v1h-1zM70 42h1v1h-1zM9 43h1v1h-1zM45 43h1v1h-1zM51 43h1v1h-1zM59 43h1v1h-1zM62 44h1v1h-1zM16 45h1v1h-1zM44 45h1v1h-1zM67 46h1v1h-1zM19 47h1v1h-1zM27 47h1v1h-1zM47 47h1v1h-1zM63 47h1v1h-1zM75 47h1v1h-1zM1 48h1v1h-1zM46 48h1v1h-1zM59 48h1v1h-1zM8 49h1v1h-1zM11 49h1v1h-1zM31 49h1v1h-1zM55 49h1v1h-1zM32 50h1v1h-1zM34 50h1v1h-1zM58 50h1v1h-1zM62 50h1v1h-1zM71 50h1v1h-1zM72 50h1v1h-1zM39 51h1v1h-1zM52 51h1v1h-1zM55 51h1v1h-1zM77 51h1v1h-1zM78 51h1v1h-1zM3 52h1v1h-1zM57 52h1v1h-1zM7 53h1v1h-1zM3 54h1v1h-1zM27 54h1v1h-1zM55 54h1v1h-1zM28 56h1v1h-1zM0 57h1v1h-1zM68 57h1v1h-1zM72 57h1v1h-1zM80 57h1v1h-1zM10 58h1v1h-1zM46 58h1v1h-1zM47 58h1v1h-1zM56 58h1v1h-1zM73 58h1v1h-1zM9 59h1v1h-1zM47 59h1v1h-1zM55 59h1v1h-1zM25 60h1v1h-1zM42 60h1v1h-1zM8 61h1v1h-1zM25 61h1v1h-1zM52 61h1v1h-1zM58 61h1v1h-1zM70 63h1v1h-1zM7 64h1v1h-1zM14 64h1v1h-1zM29 64h1v1h-1zM35 64h1v1h-1zM1 66h1v1h-1zM9 66h1v1h-1zM10 67h1v1h-1zM21 67h1v1h-1zM59 67h1v1h-1zM16 68h1v1h-1zM33 68h1v1h-1zM76 68h1v1h-1zM1 69h1v1h-1zM33 69h1v1h-1zM47 69h1v1h-1zM6 70h1v1h-1zM40 70h1v1h-1zM57 70h1v1h-1zM46 71h1v1h-1zM57 71h1v1h-1zM4 72h1v1h-1zM14 72h1v1h-1zM47 72h1v1h-1zM62 72h1v1h-1zM68 72h1v1h-1zM79 72h1v1h-1zM9 73h1v1h-1zM21 73h1v1h-1zM26 73h1v1h-1zM34 73h1v1h-1zM68 73h1v1h-1zM1 74h1v1h-1zM16 74h1v1h-1zM21 74h1v1h-1zM71 74h1v1h-1zM73 74h1v1h-1zM27 75h1v1h-1zM36 75h1v1h-1zM36 76h1v1h-1zM6 77h1v1h-1zM76 77h1v1h-1zM24 78h1v1h-1zM28 78h1v1h-1zM76 78h1v1h-1zM22 79h1v1h-1zM48 79h1v1h-1zM37 80h1v1h-1z"/>
<path fill="#5d5d5d" d="M37 0h1v1h-1zM67 0h1v1h-1zM74 0h1v1h-1zM14 2h1v1h-1zM37 2h1v1h-1zM48 3h1v1h-1zM24 4h1v1h-1zM61 4h1v1h-1zM6 5h1v1h-1zM39 5h1v1h-1zM1 7h1v1h-1zM53 7h1v1h-1zM36 10h1v1h-1zM37 10h1v1h-1zM74 10h1v1h-1zM75 10h1v1h-1zM16 11h1v1h-1zM37 11h1v1h-1zM60 11h1v1h-1zM61 11h1v1h-1zM79 11h1v1h-1zM17 12h1v1h-1zM18 12h1v1h-1zM61 12h1v1h-1zM7 13h1v1h-1zM12 14h1v1h-1zM15 14h1v1h-1zM15 15h1v1h-1zM32 15h1v1h-1zM39 15h1v1h-1zM79 15h1v1h-1zM15 16h1v1h-1zM79 16h1v1h-1zM7 17h1v1h-1zM74 17h1v1h-1zM15 18h1v1h-1zM32 18h1v1h-1zM80 18h1v1h-1zM26 19h1v1h-1zM30 19h1v1h-1zM45 19h1v1h-1zM47 19h1v1h-1zM31 20h1v1h-1zM49 20h1v1h-1zM76 20h1v1h-1zM6 21h1v1h-1zM43 21h1v1h-1zM48 21h1v1h-1zM49 21h1v1h-1zM68 21h1v1h-1zM80 21h1v1h-1zM41 22h1v1h-1zM71 22h1v1h-1zM72 22h1v1h-1zM14 23h1v1h-1zM48 24h1v1h-1zM57 24h1v1h-1zM28 25h1v1h-1zM30 25h1v1h-1zM67 27h1v1h-1zM62 28h1v1h-1zM5 29h1v1h-1zM14 29h1v1h-1zM3 30h1v1h-1zM5 30h1v1h-1zM52 30h1v1h-1zM55 30h1v1h-1zM61 31h1v1h-1zM68 31h1v1h-1zM41 32h1v1h-1zM47 32h1v1h-1zM49 32h1v1h-1zM51 32h1v1h-1zM74 32h1v1h-1zM46 33h1v1h-1zM14 34h1v1h-1zM32 34h1v1h-1zM53 34h1v1h-1zM20 35h1v1h-1zM45 35h1v1h-1zM25 36h1v1h-1zM55 36h1v1h-1zM0 37h1v1h-1zM13 37h1v1h-1zM33 37h1v1h-1zM55 37h1v1h-1zM4 38h1v1h-1zM43 38h1v1h-1zM28 39h1v1h-1zM11 40h1v1h-1zM35 40h1v1h-1zM50 40h1v1h-1zM4 41h1v1h-1zM55 41h1v1h-1zM66 41h1v1h-1zM76 42h1v1h-1zM78 43h1v1h-1zM3 44h1v1h-1zM26 44h1v1h-1zM70 44h1v1h-1zM8 45h1v1h-1zM28 45h1v1h-1zM36 45h1v1h-1zM48 45h1v1h-1zM60 45h1v1h-1zM67 45h1v1h-1zM21 46h1v1h-1zM38 46h1v1h-1zM74 46h1v1h-1zM78 46h1v1h-1zM32 48h1v1h-1zM64 48h1v1h-1zM32 49h1v1h-1zM54 49h1v1h-1zM58 49h1v1h-1zM1 50h1v1h-1zM7 50h1v1h-1zM11 50h1v1h-1zM12 50h1v1h-1zM57 50h1v1h-1zM64 50h1v1h-1zM75 50h1v1h-1zM78 50h1v1h-1zM3 51h1v1h-1zM44 51h1v1h-1zM61 51h1v1h-1zM62 51h1v1h-1zM71 51h1v1h-1zM7 52h1v1h-1zM13 52h1v1h-1zM29 52h1v1h-1zM56 52h1v1h-1zM4 53h1v1h-1zM56 53h1v1h-1zM4 54h1v1h-1zM8 54h1v1h-1zM50 54h1v1h-1zM72 54h1v1h-1zM43 55h1v1h-1zM72 55h1v1h-1zM73 55h1v1h-1zM31 56h1v1h-1zM5 57h1v1h-1zM27 58h1v1h-1zM3 59h1v1h-1zM4 59h1v1h-1zM5 59h1v1h-1zM72 59h1v1h-1zM17 60h1v1h-1zM41 60h1v1h-1zM54 60h1v1h-1zM57 60h1v1h-1zM30 61h1v1h-1zM35 61h1v1h-1zM60 61h1v1h-1zM15 62h1v1h-1zM26 62h1v1h-1zM50 62h1v1h-1zM76 62h1v1h-1zM10 63h1v1h-1zM13 64h1v1h-1zM36 64h1v1h-1zM39 64h1v1h-1zM36 66h1v1h-1zM20 67h1v1h-1zM41 69h1v1h-1zM60 69h1v1h-1zM53 70h1v1h-1zM0 71h1v1h-1zM4 71h1v1h-1zM5 71h1v1h-1zM30 71h1v1h-1zM45 72h1v1h-1zM46 72h1v1h-1zM7 73h1v1h-1zM25 73h1v1h-1zM79 73h1v1h-1zM54 74h1v1h-1zM58 74h1v1h-1zM62 75h1v1h-1zM10 76h1v1h-1zM25 77h1v1h-1zM5 78h1v1h-1zM6 78h1v1h-1zM34 78h1v1h-1zM49 78h1v1h-1zM14 79h1v1h-1zM41 79h1v1h-1zM76 79h1v1h-1z"/>
<path fill="#616161" d="M50 0h1v1h-1zM55 0h1v1h-1zM58 0h1v1h-1zM37 1h1v1h-1zM24 2h1v1h-1zM9 3h1v1h-1zM24 3h1v1h-1zM44 3h1v1h-1zM44 4h1v1h-1zM62 4h1v1h-1zM5 5h1v1h-1zM7 5h1v1h-1zM12 5h1v1h-1zM48 8h1v1h-1zM50 8h1v1h-1zM20 9h1v1h-1zM39 9h1v1h-1zM47 9h1v1h-1zM5 10h1v1h-1zM46 10h1v1h-1zM63 10h1v1h-1zM71 10h1v1h-1zM33 11h1v1h-1zM46 11h1v1h-1zM47 11h1v1h-1zM67 11h1v1h-1zM74 11h1v1h-1zM3 13h1v1h-1zM17 13h1v1h-1zM1 16h1v1h-1zM8 16h1v1h-1zM33 16h1v1h-1zM35 16h1v1h-1zM36 16h1v1h-1zM57 16h1v1h-1zM72 16h1v1h-1zM2 17h1v1h-1zM9 17h1v1h-1zM30 17h1v1h-1zM72 17h1v1h-1zM7 18h1v1h-1zM56 18h1v1h-1zM71 18h1v1h-1zM74 18h1v1h-1zM27 19h1v1h-1zM75 19h1v1h-1zM17 20h1v1h-1zM57 20h1v1h-1zM65 21h1v1h-1zM21 22h1v1h-1zM25 22h1v1h-1zM78 22h1v1h-1zM37 23h1v1h-1zM67 23h1v1h-1zM77 23h1v1h-1zM31 24h1v1h-1zM72 24h1v1h-1zM5 25h1v1h-1zM52 25h1v1h-1zM16 26h1v1h-1zM48 26h1v1h-1zM50 26h1v1h-1zM55 28h1v1h-1zM56 28h1v1h-1zM67 29h1v1h-1zM75 29h1v1h-1zM54 30h1v1h-1zM67 30h1v1h-1zM68 30h1v1h-1zM11 31h1v1h-1zM17 31h1v1h-1zM63 31h1v1h-1zM72 31h1v1h-1zM73 31h1v1h-1zM8 32h1v1h-1zM65 32h1v1h-1zM1 33h1v1h-1zM55 33h1v1h-1zM46 34h1v1h-1zM22 35h1v1h-1zM40 35h1v1h-1zM24 36h1v1h-1zM59 36h1v1h-1zM4 37h1v1h-1zM67 37h1v1h-1zM34 38h1v1h-1zM53 38h1v1h-1zM1 39h1v1h-1zM29 39h1v1h-1zM30 39h1v1h-1zM48 39h1v1h-1zM36 40h1v1h-1zM48 40h1v1h-1zM65 40h1v1h-1zM71 40h1v1h-1zM64 41h1v1h-1zM65 41h1v1h-1zM17 42h1v1h-1zM22 42h1v1h-1zM36 42h1v1h-1zM38 42h1v1h-1zM65 42h1v1h-1zM46 43h1v1h-1zM79 44h1v1h-1zM11 45h1v1h-1zM20 45h1v1h-1zM73 45h1v1h-1zM53 46h1v1h-1zM8 47h1v1h-1zM18 47h1v1h-1zM35 47h1v1h-1zM77 48h1v1h-1zM36 50h1v1h-1zM46 50h1v1h-1zM79 50h1v1h-1zM80 50h1v1h-1zM7 51h1v1h-1zM8 51h1v1h-1zM48 51h1v1h-1zM54 51h1v1h-1zM60 52h1v1h-1zM5 54h1v1h-1zM21 54h1v1h-1zM76 56h1v1h-1zM26 57h1v1h-1zM50 57h1v1h-1zM71 57h1v1h-1zM18 58h1v1h-1zM74 58h1v1h-1zM0 59h1v1h-1zM20 59h1v1h-1zM50 59h1v1h-1zM68 59h1v1h-1zM69 59h1v1h-1zM20 60h1v1h-1zM21 60h1v1h-1zM29 60h1v1h-1zM9 61h1v1h-1zM11 61h1v1h-1zM21 61h1v1h-1zM59 61h1v1h-1zM69 63h1v1h-1zM72 63h1v1h-1zM35 65h1v1h-1zM28 66h1v1h-1zM62 66h1v1h-1zM69 66h1v1h-1zM70 66h1v1h-1zM80 66h1v1h-1zM61 67h1v1h-1zM69 67h1v1h-1zM40 69h1v1h-1zM37 70h1v1h-1zM51 70h1v1h-1zM78 70h1v1h-1zM32 71h1v1h-1zM8 73h1v1h-1zM18 73h1v1h-1zM40 73h1v1h-1zM67 73h1v1h-1zM18 74h1v1h-1zM26 74h1v1h-1zM76 74h1v1h-1zM56 75h1v1h-1zM42 76h1v1h-1zM50 76h1v1h-1zM41 77h1v1h-1zM25 78h1v1h-1zM71 78h1v1h-1z"/>
<path fill="#656565" d="M66 0h1v1h-1zM53 1h1v1h-1zM18 3h1v1h-1zM14 4h1v1h-1zM18 5h1v1h-1zM28 7h1v1h-1zM64 7h1v1h-1zM66 7h1v1h-1zM77 7h1v1h-1zM29 9h1v1h-1zM78 9h1v1h-1zM52 10h1v1h-1zM63 12h1v1h-1zM69 12h1v1h-1zM42 14h1v1h-1zM29 15h1v1h-1zM69 15h1v1h-1zM24 16h1v1h-1zM42 16h1v1h-1zM64 16h1v1h-1zM5 17h1v1h-1zM19 17h1v1h-1zM32 17h1v1h-1zM42 17h1v1h-1zM44 18h1v1h-1zM55 18h1v1h-1zM67 18h1v1h-1zM2 19h1v1h-1zM7 19h1v1h-1zM23 19h1v1h-1zM56 20h1v1h-1zM8 21h1v1h-1zM0 22h1v1h-1zM4 23h1v1h-1zM30 23h1v1h-1zM32 23h1v1h-1zM63 23h1v1h-1zM43 24h1v1h-1zM73 24h1v1h-1zM6 25h1v1h-1zM57 25h1v1h-1zM62 25h1v1h-1zM75 25h1v1h-1zM24 27h1v1h-1zM66 27h1v1h-1zM19 28h1v1h-1zM29 28h1v1h-1zM30 28h1v1h-1zM6 30h1v1h-1zM64 30h1v1h-1zM77 30h1v1h-1zM26 31h1v1h-1zM58 31h1v1h-1zM69 32h1v1h-1zM68 33h1v1h-1zM15 35h1v1h-1zM26 35h1v1h-1zM64 35h1v1h-1zM14 37h1v1h-1zM58 37h1v1h-1zM70 37h1v1h-1zM47 38h1v1h-1zM65 38h1v1h-1zM66 38h1v1h-1zM79 38h1v1h-1zM8 39h1v1h-1zM34 39h1v1h-1zM51 39h1v1h-1zM71 39h1v1h-1zM10 40h1v1h-1zM55 40h1v1h-1zM72 40h1v1h-1zM17 41h1v1h-1zM23 41h1v1h-1zM59 42h1v1h-1zM78 44h1v1h-1zM21 45h1v1h-1zM7 48h1v1h-1zM24 48h1v1h-1zM23 49h1v1h-1zM56 49h1v1h-1zM16 51h1v1h-1zM40 53h1v1h-1zM56 54h1v1h-1zM74 54h1v1h-1zM58 55h1v1h-1zM77 55h1v1h-1zM79 55h1v1h-1zM29 56h1v1h-1zM67 57h1v1h-1zM6 59h1v1h-1zM11 59h1v1h-1zM15 60h1v1h-1zM30 60h1v1h-1zM34 60h1v1h-1zM10 62h1v1h-1zM25 62h1v1h-1zM30 63h1v1h-1zM58 63h1v1h-1zM67 63h1v1h-1zM22 64h1v1h-1zM32 64h1v1h-1zM12 65h1v1h-1zM47 65h1v1h-1zM45 66h1v1h-1zM77 66h1v1h-1zM55 67h1v1h-1zM65 67h1v1h-1zM55 68h1v1h-1zM75 69h1v1h-1zM0 70h1v1h-1zM60 70h1v1h-1zM64 70h1v1h-1zM1 71h1v1h-1zM26 71h1v1h-1zM48 71h1v1h-1zM9 72h1v1h-1zM67 72h1v1h-1zM58 73h1v1h-1zM47 74h1v1h-1zM56 74h1v1h-1zM70 74h1v1h-1zM80 74h1v1h-1zM9 75h1v1h-1zM22 75h1v1h-1zM23 75h1v1h-1zM8 76h1v1h-1zM10 77h1v1h-1zM21 77h1v1h-1zM42 77h1v1h-1zM48 78h1v1h-1zM0 79h1v1h-1zM5 79h1v1h-1zM26 79h1v1h-1zM7 80h1v1h-1zM17 80h1v1h-1z"/>
<path fill="#696969" d="M7 1h1v1h-1zM29 2h1v1h-1zM41 2h1v1h-1zM43 2h1v1h-1zM72 2h1v1h-1zM41 3h1v1h-1zM23 4h1v1h-1zM50 4h1v1h-1zM73 5h1v1h-1zM79 5h1v1h-1zM51 7h1v1h-1zM78 7h1v1h-1zM54 8h1v1h-1zM51 9h1v1h-1zM62 9h1v1h-1zM68 10h1v1h-1zM32 12h1v1h-1zM70 12h1v1h-1zM10 14h1v1h-1zM56 14h1v1h-1zM60 14h1v1h-1zM17 15h1v1h-1zM80 15h1v1h-1zM17 16h1v1h-1zM19 16h1v1h-1zM16 17h1v1h-1zM8 18h1v1h-1zM9 18h1v1h-1zM29 18h1v1h-1zM43 18h1v1h-1zM17 19h1v1h-1zM22 19h1v1h-1zM23 20h1v1h-1zM13 21h1v1h-1zM61 21h1v1h-1zM75 21h1v1h-1zM62 22h1v1h-1zM9 23h1v1h-1zM29 23h1v1h-1zM59 23h1v1h-1zM37 24h1v1h-1zM29 25h1v1h-1zM50 25h1v1h-1zM71 25h1v1h-1zM52 26h1v1h-1zM30 27h1v1h-1zM77 27h1v1h-1zM24 30h1v1h-1zM72 30h1v1h-1zM53 31h1v1h-1zM59 31h1v1h-1zM23 33h1v1h-1zM39 33h1v1h-1zM41 33h1v1h-1zM65 33h1v1h-1zM16 34h1v1h-1zM9 35h1v1h-1zM50 36h1v1h-1zM6 38h1v1h-1zM7 38h1v1h-1zM26 38h1v1h-1zM28 38h1v1h-1zM18 39h1v1h-1zM42 39h1v1h-1zM58 39h1v1h-1zM39 41h1v1h-1zM54 41h1v1h-1zM67 42h1v1h-1zM17 45h1v1h-1zM25 45h1v1h-1zM38 45h1v1h-1zM75 46h1v1h-1zM66 48h1v1h-1zM78 48h1v1h-1zM3 50h1v1h-1zM42 50h1v1h-1zM55 50h1v1h-1zM17 51h1v1h-1zM29 53h1v1h-1zM71 54h1v1h-1zM10 55h1v1h-1zM42 55h1v1h-1zM14 56h1v1h-1zM41 56h1v1h-1zM63 57h1v1h-1zM17 58h1v1h-1zM2 59h1v1h-1zM29 59h1v1h-1zM3 60h1v1h-1zM5 60h1v1h-1zM9 60h1v1h-1zM16 60h1v1h-1zM48 60h1v1h-1zM15 61h1v1h-1zM4 63h1v1h-1zM38 67h1v1h-1zM70 67h1v1h-1zM77 68h1v1h-1zM37 69h1v1h-1zM36 70h1v1h-1zM47 70h1v1h-1zM68 70h1v1h-1zM63 71h1v1h-1zM78 72h1v1h-1zM32 73h1v1h-1zM44 73h1v1h-1zM23 74h1v1h-1zM30 74h1v1h-1zM39 74h1v1h-1zM48 74h1v1h-1zM49 74h1v1h-1zM79 74h1v1h-1zM5 76h1v1h-1zM73 76h1v1h-1zM32 79h1v1h-1zM49 79h1v1h-1zM2 80h1v1h-1z"/>
<path fill="#6d6d6d" d="M49 3h1v1h-1zM11 5h1v1h-1zM29 6h1v1h-1zM18 9h1v1h-1zM18 11h1v1h-1zM64 11h1v1h-1zM18 15h1v1h-1zM19 15h1v1h-1zM58 15h1v1h-1zM61 15h1v1h-1zM63 15h1v1h-1zM28 16h1v1h-1zM34 17h1v1h-1zM48 17h1v1h-1zM46 18h1v1h-1zM47 18h1v1h-1zM52 18h1v1h-1zM46 19h1v1h-1zM50 19h1v1h-1zM32 20h1v1h-1zM38 21h1v1h-1zM32 22h1v1h-1zM14 24h1v1h-1zM42 24h1v1h-1zM77 24h1v1h-1zM24 25h1v1h-1zM36 25h1v1h-1zM77 25h1v1h-1zM5 26h1v1h-1zM30 26h1v1h-1zM31 26h1v1h-1zM37 26h1v1h-1zM51 26h1v1h-1zM63 26h1v1h-1zM35 27h1v1h-1zM51 27h1v1h-1zM62 27h1v1h-1zM66 28h1v1h-1zM70 28h1v1h-1zM23 29h1v1h-1zM4 31h1v1h-1zM39 32h1v1h-1zM50 32h1v1h-1zM61 32h1v1h-1zM68 34h1v1h-1zM13 36h1v1h-1zM47 37h1v1h-1zM9 38h1v1h-1zM30 38h1v1h-1zM71 38h1v1h-1zM77 39h1v1h-1zM15 40h1v1h-1zM46 42h1v1h-1zM64 42h1v1h-1zM29 43h1v1h-1zM61 44h1v1h-1zM26 46h1v1h-1zM48 46h1v1h-1zM32 47h1v1h-1zM76 47h1v1h-1zM8 48h1v1h-1zM34 49h1v1h-1zM57 49h1v1h-1zM44 50h1v1h-1zM36 51h1v1h-1zM64 53h1v1h-1zM74 53h1v1h-1zM11 54h1v1h-1zM44 55h1v1h-1zM65 55h1v1h-1zM25 56h1v1h-1zM72 56h1v1h-1zM21 59h1v1h-1zM67 59h1v1h-1zM71 59h1v1h-1zM2 60h1v1h-1zM45 60h1v1h-1zM67 60h1v1h-1zM53 61h1v1h-1zM57 61h1v1h-1zM2 62h1v1h-1zM11 62h1v1h-1zM33 62h1v1h-1zM55 62h1v1h-1zM29 63h1v1h-1zM51 63h1v1h-1zM73 63h1v1h-1zM15 64h1v1h-1zM23 65h1v1h-1zM33 65h1v1h-1zM29 67h1v1h-1zM5 69h1v1h-1zM79 69h1v1h-1zM32 70h1v1h-1zM80 70h1v1h-1zM2 71h1v1h-1zM36 71h1v1h-1zM50 71h1v1h-1zM56 71h1v1h-1zM2 72h1v1h-1zM40 72h1v1h-1zM15 74h1v1h-1zM27 74h1v1h-1zM31 74h1v1h-1zM43 76h1v1h-1zM33 79h1v1h-1zM75 79h1v1h-1zM33 80h1v1h-1zM49 80h1v1h-1z"/>
<path fill="#717171" d="M22 1h1v1h-1zM54 1h1v1h-1zM30 2h1v1h-1zM30 6h1v1h-1zM59 7h1v1h-1zM58 8h1v1h-1zM77 9h1v1h-1zM65 11h1v1h-1zM22 14h1v1h-1zM10 15h1v1h-1zM28 15h1v1h-1zM62 15h1v1h-1zM17 17h1v1h-1zM18 24h1v1h-1zM37 25h1v1h-1zM77 26h1v1h-1zM37 27h1v1h-1zM55 27h1v1h-1zM18 28h1v1h-1zM9 31h1v1h-1zM71 31h1v1h-1zM52 32h1v1h-1zM18 33h1v1h-1zM18 34h1v1h-1zM20 36h1v1h-1zM15 37h1v1h-1zM71 37h1v1h-1zM15 38h1v1h-1zM35 38h1v1h-1zM54 38h1v1h-1zM58 38h1v1h-1zM27 39h1v1h-1zM29 40h1v1h-1zM40 42h1v1h-1zM42 42h1v1h-1zM20 43h1v1h-1zM21 43h1v1h-1zM77 43h1v1h-1zM73 46h1v1h-1zM25 47h1v1h-1zM65 47h1v1h-1zM66 47h1v1h-1zM78 47h1v1h-1zM35 48h1v1h-1zM1 49h1v1h-1zM15 50h1v1h-1zM24 50h1v1h-1zM57 53h1v1h-1zM59 54h1v1h-1zM62 54h1v1h-1zM49 55h1v1h-1zM32 56h1v1h-1zM39 57h1v1h-1zM49 57h1v1h-1zM64 57h1v1h-1zM10 59h1v1h-1zM18 59h1v1h-1zM20 61h1v1h-1zM28 61h1v1h-1zM27 62h1v1h-1zM3 63h1v1h-1zM68 63h1v1h-1zM28 64h1v1h-1zM60 65h1v1h-1zM80 65h1v1h-1zM56 68h1v1h-1zM6 69h1v1h-1zM38 69h1v1h-1zM39 69h1v1h-1zM50 72h1v1h-1zM58 72h1v1h-1zM60 73h1v1h-1zM0 74h1v1h-1zM8 74h1v1h-1zM28 74h1v1h-1zM57 74h1v1h-1zM59 74h1v1h-1zM74 76h1v1h-1zM35 79h1v1h-1zM40 80h1v1h-1zM55 80h1v1h-1z"/>
<path fill="#757575" d="M7 0h1v1h-1zM5 4h1v1h-1zM15 4h1v1h-1zM79 4h1v1h-1zM14 7h1v1h-1zM15 7h1v1h-1zM60 8h1v1h-1zM48 9h1v1h-1zM63 11h1v1h-1zM61 14h1v1h-1zM42 15h1v1h-1zM0 16h1v1h-1zM58 16h1v1h-1zM45 18h1v1h-1zM30 20h1v1h-1zM44 21h1v1h-1zM57 21h1v1h-1zM63 22h1v1h-1zM80 22h1v1h-1zM15 23h1v1h-1zM48 23h1v1h-1zM52 23h1v1h-1zM78 23h1v1h-1zM15 25h1v1h-1zM78 27h1v1h-1zM8 29h1v1h-1zM27 30h1v1h-1zM59 30h1v1h-1zM20 34h1v1h-1zM66 37h1v1h-1zM44 39h1v1h-1zM26 40h1v1h-1zM29 41h1v1h-1zM12 42h1v1h-1zM29 42h1v1h-1zM79 43h1v1h-1zM13 45h1v1h-1zM18 46h1v1h-1zM36 46h1v1h-1zM69 46h1v1h-1zM64 47h1v1h-1zM2 48h1v1h-1zM13 48h1v1h-1zM63 50h1v1h-1zM43 51h1v1h-1zM49 51h1v1h-1zM49 54h1v1h-1zM22 59h1v1h-1zM8 62h1v1h-1zM38 64h1v1h-1zM31 65h1v1h-1zM46 65h1v1h-1zM57 67h1v1h-1zM39 68h1v1h-1zM61 70h1v1h-1zM28 71h1v1h-1zM49 71h1v1h-1zM22 74h1v1h-1zM15 75h1v1h-1zM20 75h1v1h-1zM76 75h1v1h-1zM41 78h1v1h-1zM1 80h1v1h-1z"/>
<path fill="#797979" d="M29 3h1v1h-1zM62 3h1v1h-1zM79 3h1v1h-1zM52 7h1v1h-1zM17 10h1v1h-1zM62 11h1v1h-1zM16 13h1v1h-1zM62 13h1v1h-1zM7 14h1v1h-1zM72 15h1v1h-1zM20 17h1v1h-1zM71 17h1v1h-1zM80 17h1v1h-1zM10 18h1v1h-1zM66 18h1v1h-1zM8 20h1v1h-1zM64 22h1v1h-1zM36 24h1v1h-1zM25 25h1v1h-1zM31 25h1v1h-1zM76 26h1v1h-1zM69 28h1v1h-1zM73 28h1v1h-1zM60 30h1v1h-1zM70 31h1v1h-1zM25 35h1v1h-1zM17 38h1v1h-1zM42 38h1v1h-1zM41 39h1v1h-1zM54 40h1v1h-1zM33 42h1v1h-1zM61 45h1v1h-1zM27 46h1v1h-1zM7 47h1v1h-1zM65 48h1v1h-1zM17 50h1v1h-1zM77 54h1v1h-1zM55 55h1v1h-1zM52 62h1v1h-1zM57 62h1v1h-1zM22 65h1v1h-1zM61 65h1v1h-1zM51 67h1v1h-1zM60 67h1v1h-1zM27 71h1v1h-1zM58 71h1v1h-1zM51 72h1v1h-1zM59 72h1v1h-1zM79 75h1v1h-1zM35 77h1v1h-1z"/>
<path fill="#7d7d7d" d="M49 0h1v1h-1zM42 2h1v1h-1zM37 4h1v1h-1zM20 8h1v1h-1zM77 8h1v1h-1zM62 10h1v1h-1zM31 12h1v1h-1zM0 15h1v1h-1zM31 18h1v1h-1zM24 26h1v1h-1zM63 27h1v1h-1zM6 29h1v1h-1zM24 29h1v1h-1zM55 31h1v1h-1zM45 36h1v1h-1zM17 39h1v1h-1zM55 39h1v1h-1zM36 43h1v1h-1zM60 44h1v1h-1zM77 44h1v1h-1zM68 46h1v1h-1zM53 47h1v1h-1zM24 49h1v1h-1zM35 50h1v1h-1zM77 50h1v1h-1zM56 51h1v1h-1zM49 52h1v1h-1zM28 53h1v1h-1zM65 53h1v1h-1zM9 55h1v1h-1zM71 58h1v1h-1zM73 59h1v1h-1zM58 62h1v1h-1zM54 63h1v1h-1zM3 64h1v1h-1zM29 66h1v1h-1zM38 66h1v1h-1zM76 67h1v1h-1zM3 68h1v1h-1zM21 68h1v1h-1zM58 68h1v1h-1zM56 70h1v1h-1zM21 78h1v1h-1zM34 79h1v1h-1z"/>
<path fill="#828282" d="M30 3h1v1h-1zM60 7h1v1h-1zM67 10h1v1h-1zM70 11h1v1h-1zM44 13h1v1h-1zM62 14h1v1h-1zM32 19h1v1h-1zM15 24h1v1h-1zM9 30h1v1h-1zM26 30h1v1h-1zM52 31h1v1h-1zM17 32h1v1h-1zM46 32h1v1h-1zM55 32h1v1h-1zM17 33h1v1h-1zM22 33h1v1h-1zM29 38h1v1h-1zM10 39h1v1h-1zM26 39h1v1h-1zM54 39h1v1h-1zM49 41h1v1h-1zM66 42h1v1h-1zM62 45h1v1h-1zM34 48h1v1h-1zM15 49h1v1h-1zM2 50h1v1h-1zM64 55h1v1h-1zM41 57h1v1h-1zM76 57h1v1h-1zM6 60h1v1h-1zM20 62h1v1h-1zM23 64h1v1h-1zM65 64h1v1h-1zM15 65h1v1h-1zM32 65h1v1h-1zM46 66h1v1h-1zM38 68h1v1h-1zM64 71h1v1h-1zM59 73h1v1h-1zM49 75h1v1h-1zM74 75h1v1h-1zM36 77h1v1h-1zM1 79h1v1h-1z"/>
<path fill="#868686" d="M18 4h1v1h-1zM45 13h1v1h-1zM29 16h1v1h-1zM53 18h1v1h-1zM16 27h1v1h-1zM4 30h1v1h-1zM15 36h1v1h-1zM68 45h1v1h-1zM37 46h1v1h-1zM34 47h1v1h-1zM53 48h1v1h-1zM53 50h1v1h-1zM64 54h1v1h-1zM56 55h1v1h-1zM49 56h1v1h-1zM64 58h1v1h-1zM28 62h1v1h-1zM2 63h1v1h-1zM2 65h1v1h-1zM56 67h1v1h-1zM5 72h1v1h-1zM31 73h1v1h-1zM73 75h1v1h-1zM5 77h1v1h-1zM35 78h1v1h-1z"/>
<path fill="#8a8a8a" d="M59 8h1v1h-1zM69 11h1v1h-1zM33 12h1v1h-1zM62 12h1v1h-1zM8 17h1v1h-1zM31 17h1v1h-1zM35 22h1v1h-1zM49 23h1v1h-1zM78 24h1v1h-1zM36 26h1v1h-1zM56 27h1v1h-1zM7 30h1v1h-1zM56 32h1v1h-1zM17 34h1v1h-1zM49 40h1v1h-1zM30 41h1v1h-1zM50 41h1v1h-1zM69 45h1v1h-1zM2 49h1v1h-1zM77 49h1v1h-1zM58 54h1v1h-1zM65 54h1v1h-1zM22 61h1v1h-1zM51 62h1v1h-1zM38 65h1v1h-1zM77 67h1v1h-1zM20 68h1v1h-1zM29 70h1v1h-1zM79 70h1v1h-1zM72 78h1v1h-1z"/>
<path fill="#8e8e8e" d="M51 8h1v1h-1zM15 9h1v1h-1zM11 11h1v1h-1zM11 14h1v1h-1zM15 17h1v1h-1zM79 17h1v1h-1zM75 18h1v1h-1zM68 29h1v1h-1zM40 32h1v1h-1zM67 34h1v1h-1zM14 36h1v1h-1zM30 40h1v1h-1zM53 51h1v1h-1zM74 59h1v1h-1zM46 69h1v1h-1zM58 69h1v1h-1zM59 69h1v1h-1zM32 72h1v1h-1zM22 77h1v1h-1z"/>
<path fill="#929292" d="M51 10h1v1h-1zM79 12h1v1h-1zM48 13h1v1h-1zM34 16h1v1h-1zM49 19h1v1h-1zM25 26h1v1h-1zM8 30h1v1h-1zM70 32h1v1h-1zM55 38h1v1h-1zM43 39h1v1h-1zM33 47h1v1h-1zM54 50h1v1h-1zM55 63h1v1h-1zM2 64h1v1h-1zM58 70h1v1h-1zM42 78h1v1h-1z"/>
<path fill="#969696" d="M78 8h1v1h-1zM18 10h1v1h-1zM56 15h1v1h-1zM49 18h1v1h-1zM20 44h1v1h-1zM27 45h1v1h-1zM70 45h1v1h-1zM28 63h1v1h-1zM59 70h1v1h-1zM47 71h1v1h-1z"/>
<path fill="#9a9a9a" d="M15 8h1v1h-1zM17 8h1v1h-1zM47 8h1v1h-1zM49 17h1v1h-1zM60 31h1v1h-1zM29 37h1v1h-1zM37 45h1v1h-1zM17 59h1v1h-1zM60 66h1v1h-1zM61 66h1v1h-1z"/>
<path fill="#9e9e9e" d="M51 4h1v1h-1zM10 11h1v1h-1zM49 24h1v1h-1zM8 31h1v1h-1zM40 40h1v1h-1zM40 41h1v1h-1zM41 41h1v1h-1zM26 45h1v1h-1z"/>
<path fill="#a2a2a2" d="M30 18h1v1h-1zM36 27h1v1h-1zM2 33h1v1h-1zM29 44h1v1h-1zM16 50h1v1h-1z"/>
<path fill="#a6a6a6" d="M17 9h1v1h-1zM50 18h1v1h-1zM35 39h1v1h-1zM22 78h1v1h-1z"/>
<path fill="#aaaaaa" d="M43 50h1v1h-1zM29 71h1v1h-1z"/>
<path fill="#aeaeae" d="M22 60h1v1h-1z"/>
<path fill="#b2b2b2" d="M16 9h1v1h-1zM7 29h1v1h-1zM8 38h1v1h-1z"/>
<path fill="#b6b6b6" d="M41 40h1v1h-1z"/>
<path fill="#c2c2c2" d="M16 8h1v1h-1z"/>
<path fill="#cecece" d="M40 57h1v1h-1z"/>
</g></g>
<defs><clipPath id="cg"><rect x="91.5" y="365.0" width="280.0" height="278.5"/></clipPath><filter id="bl" x="-5%" y="-5%" width="110%" height="110%" color-interpolation-filters="sRGB"><feGaussianBlur stdDeviation="0.55"/><feComponentTransfer><feFuncR type="linear" slope="4.0"/><feFuncG type="linear" slope="4.0"/><feFuncB type="linear" slope="4.0"/></feComponentTransfer></filter></defs>
<g clip-path="url(#cg)"><g filter="url(#bl)" transform="translate(83.5,357.0) scale(4.0)">
<rect width="74" height="74" fill="#070707"/>
<path fill="#000000" d="M18 0h3v1h-3zM3 1h1v1h-1zM5 1h1v1h-1zM6 2h2v1h-2zM24 2h1v1h-1zM5 3h3v1h-3zM1 4h1v1h-1zM5 4h1v1h-1zM1 5h1v1h-1zM5 5h2v1h-2zM9 5h1v1h-1zM13 5h1v1h-1zM18 5h1v1h-1zM71 5h1v1h-1zM0 6h1v1h-1zM5 6h2v1h-2zM18 6h1v1h-1zM0 7h1v1h-1zM18 7h1v1h-1zM42 7h1v1h-1zM4 8h1v1h-1zM18 8h1v1h-1zM34 8h1v1h-1zM4 9h1v1h-1zM8 9h1v1h-1zM17 9h1v1h-1zM23 9h1v1h-1zM33 9h2v1h-2zM1 10h1v1h-1zM12 10h2v1h-2zM21 10h1v1h-1zM23 10h1v1h-1zM35 10h1v1h-1zM0 11h1v1h-1zM21 11h3v1h-3zM36 11h1v1h-1zM17 12h1v1h-1zM22 12h1v1h-1zM7 14h1v1h-1zM26 14h2v1h-2zM26 15h1v1h-1zM3 16h1v1h-1zM73 16h1v1h-1zM7 17h1v1h-1zM21 17h1v1h-1zM73 17h1v1h-1zM22 19h1v1h-1zM19 20h1v1h-1zM22 20h1v1h-1zM45 21h1v1h-1zM23 22h3v1h-3zM23 23h2v1h-2zM3 25h1v1h-1zM24 25h2v1h-2zM28 25h2v1h-2zM2 26h2v1h-2zM19 26h1v1h-1zM28 26h2v1h-2zM32 26h1v1h-1zM2 27h1v1h-1zM5 27h2v1h-2zM28 27h1v1h-1zM5 28h2v1h-2zM13 28h1v1h-1zM6 29h1v1h-1zM4 30h3v1h-3zM12 30h2v1h-2zM17 30h2v1h-2zM22 30h2v1h-2zM39 30h1v1h-1zM4 31h2v1h-2zM15 31h4v1h-4zM15 32h2v1h-2zM26 32h1v1h-1zM4 33h3v1h-3zM15 33h2v1h-2zM24 33h3v1h-3zM26 34h1v1h-1zM10 35h1v1h-1zM26 35h1v1h-1zM2 36h1v1h-1zM4 36h1v1h-1zM10 36h1v1h-1zM19 36h1v1h-1zM34 36h1v1h-1zM9 37h1v1h-1zM11 38h1v1h-1zM36 38h1v1h-1zM17 39h1v1h-1zM19 39h1v1h-1zM22 39h1v1h-1zM13 40h1v1h-1zM7 41h1v1h-1zM13 41h2v1h-2zM30 41h1v1h-1zM14 42h2v1h-2zM58 43h2v1h-2zM15 44h1v1h-1zM25 44h2v1h-2zM8 45h2v1h-2zM15 45h1v1h-1zM41 45h1v1h-1zM14 46h3v1h-3zM22 46h2v1h-2zM8 47h1v1h-1zM30 47h1v1h-1zM0 48h1v1h-1zM2 48h1v1h-1zM29 48h5v1h-5zM13 49h1v1h-1zM29 49h2v1h-2zM29 50h1v1h-1zM5 51h1v1h-1zM17 51h1v1h-1zM33 51h1v1h-1zM3 52h3v1h-3zM8 52h1v1h-1zM8 53h1v1h-1zM25 53h1v1h-1zM38 53h1v1h-1zM68 53h2v1h-2zM8 54h1v1h-1zM3 55h1v1h-1zM23 55h2v1h-2zM26 55h1v1h-1zM3 56h2v1h-2zM3 57h3v1h-3zM53 57h1v1h-1zM12 59h2v1h-2zM9 60h1v1h-1zM12 60h2v1h-2zM19 60h3v1h-3zM22 61h1v1h-1zM1 62h2v1h-2zM5 62h2v1h-2zM56 62h1v1h-1zM4 64h2v1h-2zM11 64h1v1h-1zM21 64h1v1h-1zM4 65h2v1h-2zM0 66h1v1h-1zM21 67h1v1h-1zM26 67h1v1h-1zM3 68h2v1h-2zM20 68h2v1h-2zM31 68h1v1h-1zM2 69h3v1h-3zM8 69h1v1h-1zM13 69h1v1h-1zM31 69h1v1h-1zM39 69h1v1h-1zM29 70h1v1h-1zM34 70h2v1h-2zM41 70h1v1h-1zM44 70h1v1h-1zM7 71h1v1h-1zM19 71h1v1h-1zM33 71h2v1h-2zM2 72h3v1h-3zM28 72h2v1h-2zM4 73h1v1h-1zM9 73h2v1h-2zM20 73h1v1h-1zM37 73h1v1h-1z"/>
<path fill="#010101" d="M5 0h1v1h-1zM9 0h1v1h-1zM19 1h2v1h-2zM26 1h1v1h-1zM9 2h1v1h-1zM29 2h1v1h-1zM6 4h1v1h-1zM13 4h1v1h-1zM41 4h1v1h-1zM8 5h1v1h-1zM39 5h1v1h-1zM1 6h1v1h-1zM38 6h1v1h-1zM71 6h1v1h-1zM43 7h1v1h-1zM17 8h1v1h-1zM35 8h1v1h-1zM5 9h1v1h-1zM22 9h1v1h-1zM54 9h1v1h-1zM33 10h1v1h-1zM17 11h1v1h-1zM35 11h1v1h-1zM16 12h1v1h-1zM19 12h1v1h-1zM21 12h1v1h-1zM22 13h1v1h-1zM6 14h1v1h-1zM11 14h1v1h-1zM16 14h1v1h-1zM1 15h1v1h-1zM7 15h1v1h-1zM16 15h1v1h-1zM27 15h1v1h-1zM42 15h1v1h-1zM0 16h1v1h-1zM7 16h1v1h-1zM42 16h1v1h-1zM8 17h1v1h-1zM18 20h1v1h-1zM45 20h1v1h-1zM23 21h1v1h-1zM25 23h1v1h-1zM3 24h1v1h-1zM24 24h1v1h-1zM27 24h1v1h-1zM13 25h1v1h-1zM27 25h1v1h-1zM18 26h1v1h-1zM26 26h1v1h-1zM1 27h1v1h-1zM29 27h1v1h-1zM47 27h1v1h-1zM12 28h1v1h-1zM35 28h1v1h-1zM49 28h1v1h-1zM5 29h1v1h-1zM12 29h1v1h-1zM22 29h2v1h-2zM32 29h1v1h-1zM40 29h1v1h-1zM7 30h1v1h-1zM19 30h1v1h-1zM6 32h1v1h-1zM10 32h1v1h-1zM23 33h1v1h-1zM4 34h1v1h-1zM25 34h1v1h-1zM29 34h1v1h-1zM29 35h1v1h-1zM3 36h1v1h-1zM18 36h1v1h-1zM29 36h1v1h-1zM33 36h1v1h-1zM2 37h1v1h-1zM4 37h1v1h-1zM18 39h1v1h-1zM12 40h1v1h-1zM25 43h1v1h-1zM58 44h2v1h-2zM22 45h1v1h-1zM29 47h1v1h-1zM1 48h1v1h-1zM14 49h1v1h-1zM31 49h1v1h-1zM22 50h1v1h-1zM30 50h1v1h-1zM4 51h1v1h-1zM18 51h1v1h-1zM35 51h1v1h-1zM25 52h1v1h-1zM9 54h1v1h-1zM35 54h1v1h-1zM6 57h1v1h-1zM3 58h1v1h-1zM22 60h1v1h-1zM52 60h1v1h-1zM25 61h1v1h-1zM30 61h1v1h-1zM6 63h1v1h-1zM3 64h1v1h-1zM5 66h1v1h-1zM5 67h1v1h-1zM30 67h1v1h-1zM47 67h1v1h-1zM8 68h1v1h-1zM47 68h1v1h-1zM34 69h1v1h-1zM38 69h1v1h-1zM44 69h2v1h-2zM8 70h1v1h-1zM13 70h1v1h-1zM28 70h1v1h-1zM30 70h1v1h-1zM39 70h2v1h-2zM33 72h1v1h-1zM8 73h1v1h-1zM21 73h1v1h-1zM28 73h2v1h-2z"/>
<path fill="#020202" d="M4 1h1v1h-1zM5 2h1v1h-1zM19 2h1v1h-1zM28 2h1v1h-1zM14 3h1v1h-1zM23 3h1v1h-1zM29 3h2v1h-2zM14 4h1v1h-1zM22 4h1v1h-1zM17 5h1v1h-1zM40 5h1v1h-1zM2 6h1v1h-1zM9 6h1v1h-1zM21 6h1v1h-1zM39 6h1v1h-1zM42 6h1v1h-1zM1 7h1v1h-1zM22 8h2v1h-2zM43 8h1v1h-1zM21 9h1v1h-1zM2 10h1v1h-1zM34 10h1v1h-1zM36 10h1v1h-1zM20 11h1v1h-1zM31 12h1v1h-1zM16 13h1v1h-1zM19 13h1v1h-1zM23 13h1v1h-1zM38 13h1v1h-1zM2 16h1v1h-1zM27 16h1v1h-1zM46 16h1v1h-1zM72 16h1v1h-1zM28 17h2v1h-2zM72 17h1v1h-1zM4 20h1v1h-1zM19 21h1v1h-1zM22 21h1v1h-1zM44 21h1v1h-1zM6 22h1v1h-1zM23 24h1v1h-1zM25 24h1v1h-1zM2 25h1v1h-1zM12 25h1v1h-1zM17 25h1v1h-1zM26 25h1v1h-1zM38 25h1v1h-1zM27 26h1v1h-1zM38 26h1v1h-1zM3 27h1v1h-1zM7 27h1v1h-1zM14 27h1v1h-1zM35 27h1v1h-1zM1 28h2v1h-2zM14 28h1v1h-1zM50 28h1v1h-1zM13 29h1v1h-1zM21 29h1v1h-1zM35 29h1v1h-1zM3 30h1v1h-1zM38 30h1v1h-1zM6 31h1v1h-1zM8 31h2v1h-2zM11 31h1v1h-1zM32 31h1v1h-1zM5 32h1v1h-1zM9 32h1v1h-1zM27 32h1v1h-1zM32 32h1v1h-1zM38 32h1v1h-1zM14 33h1v1h-1zM16 34h1v1h-1zM21 34h1v1h-1zM23 34h1v1h-1zM36 34h1v1h-1zM6 35h1v1h-1zM9 35h1v1h-1zM21 35h1v1h-1zM30 35h1v1h-1zM9 36h1v1h-1zM25 36h1v1h-1zM32 36h1v1h-1zM33 37h1v1h-1zM22 38h1v1h-1zM42 39h2v1h-2zM2 40h1v1h-1zM7 40h1v1h-1zM12 41h1v1h-1zM13 42h1v1h-1zM30 42h1v1h-1zM15 43h1v1h-1zM26 43h1v1h-1zM8 44h1v1h-1zM1 47h1v1h-1zM34 47h1v1h-1zM34 48h1v1h-1zM0 49h1v1h-1zM23 49h1v1h-1zM32 49h1v1h-1zM4 50h2v1h-2zM10 50h1v1h-1zM29 51h1v1h-1zM32 51h1v1h-1zM11 52h1v1h-1zM23 54h1v1h-1zM22 55h1v1h-1zM25 55h1v1h-1zM47 55h1v1h-1zM22 56h1v1h-1zM26 56h1v1h-1zM2 57h1v1h-1zM2 58h1v1h-1zM5 58h1v1h-1zM9 59h1v1h-1zM11 59h1v1h-1zM14 59h1v1h-1zM29 59h1v1h-1zM25 60h1v1h-1zM1 61h1v1h-1zM6 61h1v1h-1zM19 61h1v1h-1zM51 61h1v1h-1zM22 62h1v1h-1zM39 63h1v1h-1zM7 64h1v1h-1zM20 64h1v1h-1zM3 65h1v1h-1zM4 66h1v1h-1zM26 66h1v1h-1zM29 66h1v1h-1zM4 67h1v1h-1zM29 67h1v1h-1zM32 67h1v1h-1zM9 68h1v1h-1zM13 68h1v1h-1zM22 68h1v1h-1zM43 68h2v1h-2zM46 68h1v1h-1zM5 69h1v1h-1zM9 69h1v1h-1zM12 69h1v1h-1zM14 69h1v1h-1zM17 69h1v1h-1zM30 69h1v1h-1zM40 69h1v1h-1zM7 70h1v1h-1zM43 70h1v1h-1zM3 71h1v1h-1zM29 71h1v1h-1zM34 72h1v1h-1zM36 72h2v1h-2z"/>
<path fill="#030303" d="M8 0h1v1h-1zM10 0h1v1h-1zM37 0h1v1h-1zM58 0h1v1h-1zM2 1h1v1h-1zM6 1h1v1h-1zM18 1h1v1h-1zM10 2h1v1h-1zM15 2h1v1h-1zM23 2h1v1h-1zM27 2h1v1h-1zM1 3h1v1h-1zM8 3h1v1h-1zM27 3h2v1h-2zM42 3h1v1h-1zM0 4h1v1h-1zM7 4h2v1h-2zM17 4h1v1h-1zM42 4h1v1h-1zM71 4h1v1h-1zM0 5h1v1h-1zM72 5h1v1h-1zM4 6h1v1h-1zM43 6h1v1h-1zM6 8h1v1h-1zM46 8h1v1h-1zM3 9h1v1h-1zM9 9h1v1h-1zM18 9h1v1h-1zM0 10h1v1h-1zM32 10h1v1h-1zM38 10h1v1h-1zM1 11h1v1h-1zM13 11h1v1h-1zM18 11h1v1h-1zM28 11h1v1h-1zM31 11h1v1h-1zM23 12h1v1h-1zM10 13h1v1h-1zM12 14h1v1h-1zM41 15h1v1h-1zM4 16h1v1h-1zM26 16h1v1h-1zM28 16h1v1h-1zM20 17h1v1h-1zM7 18h1v1h-1zM21 18h1v1h-1zM18 19h1v1h-1zM3 20h1v1h-1zM22 22h1v1h-1zM45 22h1v1h-1zM30 23h1v1h-1zM40 23h2v1h-2zM45 23h1v1h-1zM26 24h1v1h-1zM70 24h1v1h-1zM16 25h1v1h-1zM53 25h1v1h-1zM4 26h1v1h-1zM14 26h1v1h-1zM30 26h1v1h-1zM37 26h1v1h-1zM47 26h1v1h-1zM52 26h1v1h-1zM26 27h1v1h-1zM37 27h1v1h-1zM65 27h2v1h-2zM15 28h1v1h-1zM19 28h1v1h-1zM42 28h1v1h-1zM65 28h1v1h-1zM7 29h1v1h-1zM24 29h1v1h-1zM8 30h1v1h-1zM14 30h1v1h-1zM40 30h1v1h-1zM0 31h1v1h-1zM10 31h1v1h-1zM0 32h1v1h-1zM3 32h1v1h-1zM11 32h2v1h-2zM17 32h1v1h-1zM28 32h1v1h-1zM22 33h1v1h-1zM27 33h1v1h-1zM33 33h1v1h-1zM37 33h1v1h-1zM5 34h2v1h-2zM22 34h1v1h-1zM24 34h1v1h-1zM35 34h1v1h-1zM3 35h3v1h-3zM25 35h1v1h-1zM35 35h1v1h-1zM26 36h1v1h-1zM10 37h1v1h-1zM57 37h1v1h-1zM12 38h2v1h-2zM19 38h1v1h-1zM0 39h1v1h-1zM11 39h2v1h-2zM30 40h1v1h-1zM36 44h1v1h-1zM16 45h1v1h-1zM65 45h1v1h-1zM27 46h1v1h-1zM35 46h1v1h-1zM46 46h1v1h-1zM16 47h1v1h-1zM23 47h1v1h-1zM27 47h1v1h-1zM17 48h1v1h-1zM1 49h1v1h-1zM6 50h1v1h-1zM1 51h1v1h-1zM6 51h1v1h-1zM11 51h1v1h-1zM2 52h1v1h-1zM38 52h1v1h-1zM53 52h1v1h-1zM3 53h1v1h-1zM7 54h1v1h-1zM10 54h1v1h-1zM20 54h1v1h-1zM24 54h1v1h-1zM35 55h1v1h-1zM15 56h1v1h-1zM23 56h1v1h-1zM11 57h1v1h-1zM52 57h1v1h-1zM4 58h1v1h-1zM9 58h1v1h-1zM12 58h2v1h-2zM35 58h1v1h-1zM2 59h2v1h-2zM10 59h1v1h-1zM1 60h1v1h-1zM15 60h1v1h-1zM31 60h1v1h-1zM45 60h1v1h-1zM60 60h1v1h-1zM2 61h2v1h-2zM9 61h1v1h-1zM21 61h1v1h-1zM45 61h1v1h-1zM55 61h1v1h-1zM7 63h1v1h-1zM11 63h2v1h-2zM22 64h1v1h-1zM52 64h1v1h-1zM11 65h1v1h-1zM29 65h1v1h-1zM21 66h1v1h-1zM3 67h1v1h-1zM31 67h1v1h-1zM33 67h1v1h-1zM2 68h1v1h-1zM5 68h3v1h-3zM12 68h1v1h-1zM32 68h1v1h-1zM1 69h1v1h-1zM20 69h1v1h-1zM23 69h1v1h-1zM29 69h1v1h-1zM41 69h1v1h-1zM26 70h1v1h-1zM33 70h1v1h-1zM36 70h1v1h-1zM8 71h1v1h-1zM35 71h2v1h-2zM44 71h1v1h-1zM19 72h1v1h-1zM32 72h1v1h-1zM24 73h1v1h-1zM36 73h1v1h-1z"/>
<path fill="#040404" d="M4 0h1v1h-1zM6 0h1v1h-1zM0 1h1v1h-1zM15 1h1v1h-1zM69 1h1v1h-1zM1 2h3v1h-3zM8 2h1v1h-1zM20 2h1v1h-1zM26 2h1v1h-1zM33 2h1v1h-1zM4 3h1v1h-1zM10 3h1v1h-1zM22 3h1v1h-1zM24 3h1v1h-1zM33 3h1v1h-1zM41 3h1v1h-1zM18 4h1v1h-1zM23 4h1v1h-1zM30 4h1v1h-1zM39 4h2v1h-2zM23 5h1v1h-1zM37 5h2v1h-2zM57 5h1v1h-1zM73 6h1v1h-1zM73 7h1v1h-1zM3 8h1v1h-1zM5 8h1v1h-1zM8 8h1v1h-1zM19 8h1v1h-1zM21 8h1v1h-1zM33 8h1v1h-1zM1 9h1v1h-1zM32 9h1v1h-1zM35 9h1v1h-1zM37 9h1v1h-1zM55 9h1v1h-1zM8 10h2v1h-2zM11 10h1v1h-1zM22 10h1v1h-1zM39 10h1v1h-1zM7 11h1v1h-1zM30 11h1v1h-1zM14 12h1v1h-1zM18 12h1v1h-1zM20 12h1v1h-1zM30 12h1v1h-1zM32 12h1v1h-1zM38 12h1v1h-1zM7 13h1v1h-1zM13 13h1v1h-1zM17 13h1v1h-1zM21 13h1v1h-1zM27 13h1v1h-1zM13 14h1v1h-1zM0 15h1v1h-1zM6 15h1v1h-1zM1 16h1v1h-1zM21 16h1v1h-1zM62 16h1v1h-1zM0 17h1v1h-1zM3 17h1v1h-1zM25 17h1v1h-1zM3 18h1v1h-1zM25 18h1v1h-1zM28 18h1v1h-1zM73 18h1v1h-1zM21 19h1v1h-1zM38 19h1v1h-1zM45 19h1v1h-1zM65 19h1v1h-1zM17 20h1v1h-1zM46 20h1v1h-1zM6 21h1v1h-1zM31 21h1v1h-1zM9 22h1v1h-1zM41 22h1v1h-1zM44 22h1v1h-1zM10 23h1v1h-1zM22 23h1v1h-1zM30 24h1v1h-1zM7 25h1v1h-1zM30 25h1v1h-1zM1 26h1v1h-1zM5 26h1v1h-1zM24 26h1v1h-1zM57 26h1v1h-1zM4 27h1v1h-1zM27 27h1v1h-1zM34 27h1v1h-1zM36 27h1v1h-1zM45 27h1v1h-1zM50 27h1v1h-1zM34 28h1v1h-1zM41 28h1v1h-1zM0 29h1v1h-1zM2 29h1v1h-1zM4 29h1v1h-1zM38 29h2v1h-2zM9 30h1v1h-1zM21 30h1v1h-1zM32 30h1v1h-1zM3 31h1v1h-1zM19 31h1v1h-1zM4 32h1v1h-1zM14 32h1v1h-1zM33 32h1v1h-1zM45 32h1v1h-1zM0 33h1v1h-1zM28 33h1v1h-1zM36 33h1v1h-1zM15 34h1v1h-1zM27 34h1v1h-1zM2 35h1v1h-1zM22 35h1v1h-1zM34 35h1v1h-1zM5 36h1v1h-1zM30 36h1v1h-1zM1 37h1v1h-1zM8 37h1v1h-1zM34 37h2v1h-2zM35 38h1v1h-1zM23 39h1v1h-1zM37 39h3v1h-3zM1 40h1v1h-1zM8 40h1v1h-1zM22 40h1v1h-1zM31 40h1v1h-1zM0 41h1v1h-1zM6 41h1v1h-1zM8 41h1v1h-1zM29 41h1v1h-1zM31 42h1v1h-1zM12 43h1v1h-1zM35 43h2v1h-2zM16 44h1v1h-1zM52 44h1v1h-1zM14 45h1v1h-1zM23 45h1v1h-1zM36 45h1v1h-1zM47 45h1v1h-1zM52 45h1v1h-1zM8 46h1v1h-1zM13 46h1v1h-1zM34 46h1v1h-1zM41 46h1v1h-1zM0 47h1v1h-1zM2 47h1v1h-1zM15 47h1v1h-1zM28 47h1v1h-1zM12 48h1v1h-1zM5 49h1v1h-1zM28 49h1v1h-1zM39 49h1v1h-1zM44 49h1v1h-1zM17 50h1v1h-1zM23 50h1v1h-1zM32 50h1v1h-1zM8 51h1v1h-1zM10 51h1v1h-1zM34 51h1v1h-1zM40 51h1v1h-1zM12 52h1v1h-1zM5 53h1v1h-1zM37 53h1v1h-1zM67 53h1v1h-1zM2 55h1v1h-1zM13 55h1v1h-1zM15 55h1v1h-1zM27 55h1v1h-1zM42 55h1v1h-1zM2 56h1v1h-1zM12 56h1v1h-1zM50 56h1v1h-1zM10 57h1v1h-1zM16 57h1v1h-1zM10 58h2v1h-2zM47 58h1v1h-1zM25 59h1v1h-1zM35 59h1v1h-1zM10 60h1v1h-1zM30 60h1v1h-1zM32 60h1v1h-1zM5 61h1v1h-1zM10 61h1v1h-1zM18 61h1v1h-1zM23 61h2v1h-2zM29 61h1v1h-1zM31 61h1v1h-1zM0 62h1v1h-1zM7 62h1v1h-1zM10 62h1v1h-1zM21 62h1v1h-1zM55 62h1v1h-1zM1 63h2v1h-2zM4 63h1v1h-1zM38 63h1v1h-1zM57 63h1v1h-1zM6 64h1v1h-1zM39 64h1v1h-1zM43 64h1v1h-1zM16 65h1v1h-1zM21 65h1v1h-1zM28 66h1v1h-1zM63 66h1v1h-1zM6 67h1v1h-1zM43 67h1v1h-1zM55 67h1v1h-1zM30 68h1v1h-1zM45 68h1v1h-1zM6 69h1v1h-1zM22 69h1v1h-1zM27 69h1v1h-1zM46 69h1v1h-1zM4 70h1v1h-1zM9 70h1v1h-1zM19 70h1v1h-1zM23 70h1v1h-1zM38 70h1v1h-1zM4 71h1v1h-1zM25 71h1v1h-1zM28 71h1v1h-1zM37 71h1v1h-1zM5 72h1v1h-1zM12 72h2v1h-2zM20 72h1v1h-1zM48 72h2v1h-2zM48 73h1v1h-1zM52 73h1v1h-1z"/>
<path fill="#050505" d="M25 0h1v1h-1zM29 0h1v1h-1zM72 0h2v1h-2zM10 1h1v1h-1zM25 1h1v1h-1zM39 1h1v1h-1zM0 2h1v1h-1zM4 2h1v1h-1zM14 2h1v1h-1zM16 2h1v1h-1zM30 2h1v1h-1zM34 2h1v1h-1zM69 2h1v1h-1zM2 3h1v1h-1zM9 3h1v1h-1zM12 4h1v1h-1zM4 5h1v1h-1zM7 5h1v1h-1zM19 5h1v1h-1zM41 5h2v1h-2zM70 5h1v1h-1zM3 6h1v1h-1zM37 6h1v1h-1zM40 6h1v1h-1zM68 6h1v1h-1zM4 7h1v1h-1zM19 7h1v1h-1zM21 7h1v1h-1zM45 7h2v1h-2zM68 7h1v1h-1zM9 8h1v1h-1zM16 8h1v1h-1zM30 8h1v1h-1zM36 8h1v1h-1zM50 8h1v1h-1zM2 9h1v1h-1zM7 9h1v1h-1zM14 9h1v1h-1zM38 9h1v1h-1zM67 9h1v1h-1zM10 10h1v1h-1zM17 10h2v1h-2zM28 10h1v1h-1zM47 10h1v1h-1zM12 11h1v1h-1zM16 11h1v1h-1zM29 11h1v1h-1zM32 11h1v1h-1zM37 11h2v1h-2zM13 12h1v1h-1zM11 13h1v1h-1zM18 13h1v1h-1zM20 13h1v1h-1zM26 13h1v1h-1zM8 14h1v1h-1zM10 14h1v1h-1zM17 14h2v1h-2zM21 14h1v1h-1zM38 14h1v1h-1zM42 14h1v1h-1zM2 15h2v1h-2zM15 15h1v1h-1zM17 15h2v1h-2zM25 15h1v1h-1zM30 15h1v1h-1zM46 15h1v1h-1zM6 16h1v1h-1zM37 16h3v1h-3zM43 16h1v1h-1zM4 17h1v1h-1zM66 17h1v1h-1zM0 18h1v1h-1zM8 18h1v1h-1zM19 19h1v1h-1zM23 19h1v1h-1zM28 19h1v1h-1zM35 19h1v1h-1zM37 19h1v1h-1zM64 19h1v1h-1zM40 20h1v1h-1zM4 21h2v1h-2zM17 21h1v1h-1zM0 22h1v1h-1zM7 22h1v1h-1zM9 23h1v1h-1zM39 23h1v1h-1zM44 23h1v1h-1zM70 23h1v1h-1zM7 24h1v1h-1zM22 24h1v1h-1zM8 25h1v1h-1zM14 25h1v1h-1zM46 25h1v1h-1zM54 25h1v1h-1zM57 25h1v1h-1zM6 26h2v1h-2zM13 26h1v1h-1zM17 26h1v1h-1zM31 26h1v1h-1zM33 26h1v1h-1zM39 26h1v1h-1zM19 27h1v1h-1zM32 27h1v1h-1zM39 27h1v1h-1zM7 28h1v1h-1zM20 28h2v1h-2zM36 28h1v1h-1zM18 29h1v1h-1zM20 29h1v1h-1zM41 29h1v1h-1zM11 30h1v1h-1zM20 30h1v1h-1zM31 30h1v1h-1zM70 30h1v1h-1zM12 31h1v1h-1zM14 31h1v1h-1zM28 31h1v1h-1zM31 31h1v1h-1zM38 31h1v1h-1zM8 32h1v1h-1zM44 32h1v1h-1zM3 33h1v1h-1zM12 33h2v1h-2zM0 34h2v1h-2zM30 34h1v1h-1zM11 35h1v1h-1zM35 36h1v1h-1zM3 37h1v1h-1zM7 37h1v1h-1zM16 37h1v1h-1zM19 37h1v1h-1zM32 37h1v1h-1zM50 37h1v1h-1zM54 37h1v1h-1zM0 38h2v1h-2zM7 38h1v1h-1zM37 38h1v1h-1zM67 38h1v1h-1zM1 39h1v1h-1zM20 39h1v1h-1zM32 39h1v1h-1zM0 40h1v1h-1zM18 40h1v1h-1zM23 40h1v1h-1zM42 40h1v1h-1zM1 41h2v1h-2zM17 41h1v1h-1zM2 42h1v1h-1zM7 42h1v1h-1zM8 43h1v1h-1zM65 43h1v1h-1zM1 44h1v1h-1zM9 44h1v1h-1zM23 44h1v1h-1zM51 44h1v1h-1zM35 45h1v1h-1zM44 45h1v1h-1zM46 45h1v1h-1zM24 46h1v1h-1zM28 46h1v1h-1zM45 46h1v1h-1zM65 46h1v1h-1zM9 47h1v1h-1zM12 47h2v1h-2zM26 47h1v1h-1zM42 47h1v1h-1zM8 48h1v1h-1zM23 48h1v1h-1zM25 48h1v1h-1zM39 48h1v1h-1zM73 48h1v1h-1zM6 49h1v1h-1zM12 49h1v1h-1zM1 50h1v1h-1zM49 50h1v1h-1zM7 51h1v1h-1zM9 51h1v1h-1zM12 51h1v1h-1zM16 51h1v1h-1zM28 51h1v1h-1zM65 51h1v1h-1zM1 52h1v1h-1zM18 52h1v1h-1zM26 52h1v1h-1zM34 52h2v1h-2zM37 52h1v1h-1zM10 53h1v1h-1zM13 53h1v1h-1zM24 53h1v1h-1zM26 53h1v1h-1zM0 54h1v1h-1zM22 54h1v1h-1zM25 54h1v1h-1zM39 54h1v1h-1zM7 55h1v1h-1zM48 55h1v1h-1zM63 55h1v1h-1zM11 56h1v1h-1zM21 56h1v1h-1zM27 56h1v1h-1zM47 56h1v1h-1zM12 57h1v1h-1zM15 57h1v1h-1zM35 57h1v1h-1zM47 57h1v1h-1zM6 58h1v1h-1zM53 58h1v1h-1zM8 59h1v1h-1zM19 59h1v1h-1zM3 60h1v1h-1zM14 60h1v1h-1zM16 60h1v1h-1zM18 60h1v1h-1zM51 60h1v1h-1zM60 61h1v1h-1zM3 62h2v1h-2zM23 62h1v1h-1zM15 63h1v1h-1zM21 63h2v1h-2zM10 64h1v1h-1zM12 64h1v1h-1zM15 64h2v1h-2zM42 64h1v1h-1zM57 64h1v1h-1zM6 65h3v1h-3zM10 65h1v1h-1zM42 65h2v1h-2zM51 65h1v1h-1zM27 66h1v1h-1zM30 66h1v1h-1zM33 66h1v1h-1zM42 66h1v1h-1zM62 66h1v1h-1zM48 67h1v1h-1zM10 68h1v1h-1zM26 68h1v1h-1zM7 69h1v1h-1zM21 69h1v1h-1zM3 70h1v1h-1zM14 70h2v1h-2zM27 70h1v1h-1zM31 70h1v1h-1zM37 70h1v1h-1zM1 71h1v1h-1zM6 71h1v1h-1zM45 71h1v1h-1zM48 71h1v1h-1zM21 72h1v1h-1zM24 72h1v1h-1zM35 72h1v1h-1zM53 72h1v1h-1zM7 73h1v1h-1zM11 73h1v1h-1zM19 73h1v1h-1zM49 73h1v1h-1z"/>
<path fill="#060606" d="M0 0h1v1h-1zM14 0h2v1h-2zM36 0h1v1h-1zM38 0h1v1h-1zM1 1h1v1h-1zM7 1h1v1h-1zM9 1h1v1h-1zM21 1h1v1h-1zM24 1h1v1h-1zM27 1h1v1h-1zM33 1h2v1h-2zM40 1h2v1h-2zM73 1h1v1h-1zM11 2h1v1h-1zM39 2h1v1h-1zM42 2h1v1h-1zM0 3h1v1h-1zM3 3h1v1h-1zM17 3h1v1h-1zM34 3h1v1h-1zM39 3h1v1h-1zM4 4h1v1h-1zM29 4h1v1h-1zM43 4h2v1h-2zM24 5h1v1h-1zM29 5h1v1h-1zM72 6h1v1h-1zM15 7h1v1h-1zM30 7h1v1h-1zM35 7h1v1h-1zM71 7h1v1h-1zM7 8h1v1h-1zM44 8h2v1h-2zM49 8h1v1h-1zM6 9h1v1h-1zM29 9h2v1h-2zM59 9h1v1h-1zM4 10h1v1h-1zM7 10h1v1h-1zM20 10h1v1h-1zM31 10h1v1h-1zM37 10h1v1h-1zM51 10h1v1h-1zM54 10h2v1h-2zM14 11h1v1h-1zM19 11h1v1h-1zM27 11h1v1h-1zM69 11h1v1h-1zM0 12h1v1h-1zM10 12h1v1h-1zM15 12h1v1h-1zM29 12h1v1h-1zM32 13h1v1h-1zM2 14h1v1h-1zM23 14h1v1h-1zM41 14h1v1h-1zM8 15h1v1h-1zM10 15h2v1h-2zM28 15h1v1h-1zM40 15h1v1h-1zM45 15h1v1h-1zM71 15h1v1h-1zM18 16h1v1h-1zM40 16h2v1h-2zM45 16h1v1h-1zM61 16h1v1h-1zM57 17h1v1h-1zM20 18h1v1h-1zM22 18h1v1h-1zM26 18h2v1h-2zM29 18h1v1h-1zM65 18h2v1h-2zM3 19h1v1h-1zM36 19h1v1h-1zM46 19h1v1h-1zM5 20h1v1h-1zM16 20h1v1h-1zM21 20h1v1h-1zM23 20h1v1h-1zM29 20h2v1h-2zM35 20h1v1h-1zM38 20h2v1h-2zM42 20h1v1h-1zM12 21h1v1h-1zM18 21h1v1h-1zM47 21h1v1h-1zM12 22h1v1h-1zM55 22h1v1h-1zM6 23h1v1h-1zM12 23h2v1h-2zM34 23h1v1h-1zM38 23h1v1h-1zM51 23h1v1h-1zM69 23h1v1h-1zM6 24h1v1h-1zM29 24h1v1h-1zM33 24h1v1h-1zM38 24h1v1h-1zM18 25h1v1h-1zM23 25h1v1h-1zM37 25h1v1h-1zM55 25h1v1h-1zM8 26h1v1h-1zM12 26h1v1h-1zM15 26h1v1h-1zM25 26h1v1h-1zM51 26h1v1h-1zM13 27h1v1h-1zM33 27h1v1h-1zM38 27h1v1h-1zM48 27h1v1h-1zM0 28h1v1h-1zM18 28h1v1h-1zM24 28h1v1h-1zM37 28h1v1h-1zM3 29h1v1h-1zM14 29h2v1h-2zM19 29h1v1h-1zM37 29h1v1h-1zM42 29h1v1h-1zM49 29h1v1h-1zM15 30h2v1h-2zM53 30h1v1h-1zM26 31h2v1h-2zM45 31h1v1h-1zM69 31h2v1h-2zM7 32h1v1h-1zM1 33h1v1h-1zM32 33h1v1h-1zM34 33h1v1h-1zM46 33h1v1h-1zM3 34h1v1h-1zM10 34h1v1h-1zM28 34h1v1h-1zM34 34h1v1h-1zM46 34h1v1h-1zM1 36h1v1h-1zM21 36h2v1h-2zM31 36h1v1h-1zM5 37h1v1h-1zM13 37h1v1h-1zM36 37h1v1h-1zM16 38h2v1h-2zM57 38h1v1h-1zM65 38h1v1h-1zM13 39h1v1h-1zM17 40h1v1h-1zM27 40h1v1h-1zM5 41h1v1h-1zM9 41h1v1h-1zM28 41h1v1h-1zM31 41h1v1h-1zM16 42h1v1h-1zM49 42h1v1h-1zM0 43h2v1h-2zM31 43h1v1h-1zM12 44h1v1h-1zM41 44h1v1h-1zM57 44h1v1h-1zM60 44h1v1h-1zM45 45h1v1h-1zM1 46h1v1h-1zM36 46h1v1h-1zM22 47h1v1h-1zM31 47h1v1h-1zM37 47h1v1h-1zM46 47h1v1h-1zM13 48h1v1h-1zM24 48h1v1h-1zM28 48h1v1h-1zM51 48h1v1h-1zM55 48h1v1h-1zM27 49h1v1h-1zM50 49h1v1h-1zM71 49h1v1h-1zM11 50h1v1h-1zM16 50h1v1h-1zM19 50h1v1h-1zM28 50h1v1h-1zM33 50h1v1h-1zM40 50h1v1h-1zM2 51h1v1h-1zM22 51h1v1h-1zM6 52h1v1h-1zM27 52h1v1h-1zM40 52h1v1h-1zM45 52h1v1h-1zM4 53h1v1h-1zM13 54h1v1h-1zM19 54h1v1h-1zM27 54h1v1h-1zM38 54h1v1h-1zM4 55h1v1h-1zM41 55h1v1h-1zM13 56h1v1h-1zM24 56h1v1h-1zM32 56h2v1h-2zM64 56h1v1h-1zM9 57h1v1h-1zM8 58h1v1h-1zM14 58h1v1h-1zM26 58h2v1h-2zM4 59h1v1h-1zM15 59h1v1h-1zM21 59h1v1h-1zM28 59h1v1h-1zM2 60h1v1h-1zM6 60h1v1h-1zM29 60h1v1h-1zM33 60h1v1h-1zM15 61h1v1h-1zM20 61h1v1h-1zM26 61h1v1h-1zM39 61h2v1h-2zM12 62h1v1h-1zM19 62h2v1h-2zM39 62h1v1h-1zM45 62h1v1h-1zM5 63h1v1h-1zM19 64h1v1h-1zM51 64h1v1h-1zM9 65h1v1h-1zM50 65h1v1h-1zM52 65h1v1h-1zM6 66h1v1h-1zM25 66h1v1h-1zM31 66h2v1h-2zM43 66h1v1h-1zM61 66h1v1h-1zM64 66h1v1h-1zM2 67h1v1h-1zM20 67h1v1h-1zM25 67h1v1h-1zM42 67h1v1h-1zM44 67h1v1h-1zM29 68h1v1h-1zM33 68h1v1h-1zM16 69h1v1h-1zM18 69h2v1h-2zM26 69h1v1h-1zM28 69h1v1h-1zM32 69h2v1h-2zM47 69h1v1h-1zM1 70h1v1h-1zM6 70h1v1h-1zM24 70h2v1h-2zM2 71h1v1h-1zM12 71h1v1h-1zM15 71h1v1h-1zM31 71h2v1h-2zM7 72h1v1h-1zM25 73h1v1h-1zM38 73h1v1h-1zM57 73h1v1h-1z"/>
<path fill="#070707" d="M1 0h1v1h-1zM7 0h1v1h-1zM17 0h1v1h-1zM30 0h1v1h-1zM65 0h1v1h-1zM69 0h1v1h-1zM8 1h1v1h-1zM16 1h2v1h-2zM30 1h3v1h-3zM35 1h1v1h-1zM70 1h1v1h-1zM21 2h1v1h-1zM25 2h1v1h-1zM35 2h1v1h-1zM49 2h1v1h-1zM16 3h1v1h-1zM18 3h2v1h-2zM70 3h1v1h-1zM36 4h2v1h-2zM72 4h1v1h-1zM2 5h1v1h-1zM12 5h1v1h-1zM14 5h1v1h-1zM21 5h1v1h-1zM36 5h1v1h-1zM8 6h1v1h-1zM10 6h1v1h-1zM17 6h1v1h-1zM19 6h2v1h-2zM70 6h1v1h-1zM2 7h2v1h-2zM17 7h1v1h-1zM34 7h1v1h-1zM36 7h1v1h-1zM38 7h1v1h-1zM69 7h1v1h-1zM14 8h2v1h-2zM24 8h1v1h-1zM53 8h1v1h-1zM67 8h1v1h-1zM24 9h1v1h-1zM46 9h1v1h-1zM53 9h1v1h-1zM3 10h1v1h-1zM14 10h1v1h-1zM29 10h2v1h-2zM11 11h1v1h-1zM15 11h1v1h-1zM50 11h1v1h-1zM26 12h1v1h-1zM3 13h2v1h-2zM6 13h1v1h-1zM12 13h1v1h-1zM33 13h1v1h-1zM20 14h1v1h-1zM25 14h1v1h-1zM30 14h1v1h-1zM43 14h1v1h-1zM9 15h1v1h-1zM14 15h1v1h-1zM29 15h1v1h-1zM50 15h2v1h-2zM72 15h1v1h-1zM8 16h1v1h-1zM14 16h2v1h-2zM29 16h1v1h-1zM63 16h1v1h-1zM26 17h2v1h-2zM38 17h1v1h-1zM42 17h1v1h-1zM65 17h1v1h-1zM19 18h1v1h-1zM23 18h2v1h-2zM35 18h1v1h-1zM38 18h1v1h-1zM64 18h1v1h-1zM27 19h1v1h-1zM29 19h1v1h-1zM40 19h1v1h-1zM20 20h1v1h-1zM28 20h1v1h-1zM37 20h1v1h-1zM3 21h1v1h-1zM7 21h1v1h-1zM9 21h1v1h-1zM16 21h1v1h-1zM20 21h2v1h-2zM24 21h1v1h-1zM38 21h1v1h-1zM10 22h1v1h-1zM13 22h1v1h-1zM42 22h1v1h-1zM0 23h1v1h-1zM5 23h1v1h-1zM33 23h1v1h-1zM42 23h1v1h-1zM12 24h1v1h-1zM39 24h2v1h-2zM53 24h1v1h-1zM19 25h1v1h-1zM32 25h2v1h-2zM47 25h1v1h-1zM52 25h1v1h-1zM56 25h1v1h-1zM23 26h1v1h-1zM34 26h3v1h-3zM53 26h1v1h-1zM66 26h1v1h-1zM8 27h1v1h-1zM15 27h1v1h-1zM30 27h2v1h-2zM46 27h1v1h-1zM51 27h1v1h-1zM58 27h1v1h-1zM25 28h1v1h-1zM40 28h1v1h-1zM11 29h1v1h-1zM17 29h1v1h-1zM65 29h1v1h-1zM24 30h1v1h-1zM27 30h1v1h-1zM2 31h1v1h-1zM7 31h1v1h-1zM13 31h1v1h-1zM22 31h2v1h-2zM44 31h1v1h-1zM52 31h1v1h-1zM1 32h1v1h-1zM25 32h1v1h-1zM69 32h1v1h-1zM21 33h1v1h-1zM29 33h1v1h-1zM45 33h1v1h-1zM72 33h1v1h-1zM11 34h3v1h-3zM17 34h1v1h-1zM33 34h1v1h-1zM37 34h1v1h-1zM53 34h1v1h-1zM16 35h1v1h-1zM18 35h1v1h-1zM23 35h2v1h-2zM27 35h1v1h-1zM33 35h1v1h-1zM6 36h1v1h-1zM29 37h1v1h-1zM69 37h1v1h-1zM4 38h1v1h-1zM8 38h1v1h-1zM10 38h1v1h-1zM18 38h1v1h-1zM32 38h1v1h-1zM58 38h1v1h-1zM4 39h1v1h-1zM7 39h2v1h-2zM21 39h1v1h-1zM31 39h1v1h-1zM36 39h1v1h-1zM14 40h1v1h-1zM19 40h1v1h-1zM32 40h1v1h-1zM43 40h1v1h-1zM66 40h1v1h-1zM33 41h1v1h-1zM41 41h1v1h-1zM0 42h2v1h-2zM6 42h1v1h-1zM12 42h1v1h-1zM33 42h1v1h-1zM46 42h1v1h-1zM64 42h1v1h-1zM2 43h2v1h-2zM13 43h2v1h-2zM16 43h1v1h-1zM50 43h1v1h-1zM60 43h1v1h-1zM22 44h1v1h-1zM7 45h1v1h-1zM10 45h2v1h-2zM51 45h1v1h-1zM58 45h1v1h-1zM7 46h1v1h-1zM47 46h1v1h-1zM7 47h1v1h-1zM33 47h1v1h-1zM35 47h1v1h-1zM45 47h1v1h-1zM51 47h1v1h-1zM65 47h1v1h-1zM3 48h1v1h-1zM26 48h1v1h-1zM42 48h1v1h-1zM45 48h2v1h-2zM49 48h2v1h-2zM71 48h1v1h-1zM7 49h1v1h-1zM22 49h1v1h-1zM24 49h1v1h-1zM26 49h1v1h-1zM40 49h1v1h-1zM45 49h2v1h-2zM49 49h1v1h-1zM20 50h1v1h-1zM25 50h1v1h-1zM70 50h2v1h-2zM0 51h1v1h-1zM3 51h1v1h-1zM25 51h1v1h-1zM69 51h1v1h-1zM13 52h1v1h-1zM17 52h1v1h-1zM22 52h1v1h-1zM7 53h1v1h-1zM12 53h1v1h-1zM20 53h2v1h-2zM27 53h1v1h-1zM35 53h1v1h-1zM39 53h1v1h-1zM3 54h1v1h-1zM40 54h1v1h-1zM54 54h1v1h-1zM59 54h1v1h-1zM14 55h1v1h-1zM29 55h1v1h-1zM64 55h1v1h-1zM10 56h1v1h-1zM16 56h1v1h-1zM34 56h1v1h-1zM48 56h1v1h-1zM53 56h1v1h-1zM63 56h1v1h-1zM1 57h1v1h-1zM46 57h1v1h-1zM50 57h1v1h-1zM52 58h1v1h-1zM5 59h1v1h-1zM20 59h1v1h-1zM22 59h1v1h-1zM26 59h1v1h-1zM30 59h1v1h-1zM5 60h1v1h-1zM28 60h1v1h-1zM42 60h1v1h-1zM53 60h1v1h-1zM0 61h1v1h-1zM14 61h1v1h-1zM16 61h1v1h-1zM27 61h2v1h-2zM32 61h2v1h-2zM38 61h1v1h-1zM52 61h1v1h-1zM13 62h2v1h-2zM18 62h1v1h-1zM51 62h1v1h-1zM3 63h1v1h-1zM37 63h1v1h-1zM2 64h1v1h-1zM33 64h1v1h-1zM44 64h1v1h-1zM13 65h1v1h-1zM22 65h1v1h-1zM34 65h1v1h-1zM44 65h1v1h-1zM7 66h3v1h-3zM22 66h1v1h-1zM7 67h1v1h-1zM22 67h1v1h-1zM27 67h1v1h-1zM56 67h1v1h-1zM61 67h1v1h-1zM1 68h1v1h-1zM27 68h1v1h-1zM55 68h2v1h-2zM10 69h1v1h-1zM35 69h1v1h-1zM37 69h1v1h-1zM43 69h1v1h-1zM2 70h1v1h-1zM42 70h1v1h-1zM45 70h1v1h-1zM0 71h1v1h-1zM9 71h1v1h-1zM13 71h1v1h-1zM20 71h1v1h-1zM24 71h1v1h-1zM38 71h1v1h-1zM43 71h1v1h-1zM47 71h1v1h-1zM64 71h1v1h-1zM6 72h1v1h-1zM38 72h1v1h-1zM52 72h1v1h-1zM5 73h1v1h-1zM27 73h1v1h-1zM47 73h1v1h-1zM51 73h1v1h-1z"/>
<path fill="#080808" d="M21 0h1v1h-1zM26 0h2v1h-2zM39 0h2v1h-2zM51 0h1v1h-1zM29 1h1v1h-1zM37 1h1v1h-1zM43 1h1v1h-1zM40 2h2v1h-2zM43 2h1v1h-1zM15 3h1v1h-1zM38 3h1v1h-1zM40 3h1v1h-1zM43 3h1v1h-1zM48 3h2v1h-2zM71 3h1v1h-1zM9 4h2v1h-2zM15 4h2v1h-2zM21 4h1v1h-1zM24 4h2v1h-2zM28 4h1v1h-1zM38 4h1v1h-1zM48 4h1v1h-1zM53 4h1v1h-1zM57 4h1v1h-1zM70 4h1v1h-1zM10 5h1v1h-1zM22 5h1v1h-1zM43 5h2v1h-2zM7 6h1v1h-1zM41 6h1v1h-1zM57 6h1v1h-1zM9 7h1v1h-1zM16 7h1v1h-1zM37 7h1v1h-1zM41 7h1v1h-1zM44 7h1v1h-1zM57 7h1v1h-1zM72 7h1v1h-1zM29 8h1v1h-1zM37 8h1v1h-1zM42 8h1v1h-1zM47 8h1v1h-1zM51 8h2v1h-2zM57 8h2v1h-2zM10 9h1v1h-1zM12 9h1v1h-1zM19 9h2v1h-2zM31 9h1v1h-1zM40 10h1v1h-1zM50 10h1v1h-1zM68 10h1v1h-1zM10 11h1v1h-1zM49 11h1v1h-1zM51 11h1v1h-1zM9 12h1v1h-1zM11 12h1v1h-1zM25 12h1v1h-1zM27 12h1v1h-1zM50 12h1v1h-1zM5 13h1v1h-1zM1 14h1v1h-1zM3 14h1v1h-1zM5 14h1v1h-1zM15 14h1v1h-1zM19 14h1v1h-1zM22 14h1v1h-1zM4 15h1v1h-1zM39 15h1v1h-1zM24 16h1v1h-1zM44 16h1v1h-1zM51 16h1v1h-1zM57 16h1v1h-1zM66 16h1v1h-1zM70 16h2v1h-2zM6 17h1v1h-1zM18 17h1v1h-1zM43 17h2v1h-2zM53 17h1v1h-1zM36 18h1v1h-1zM42 19h1v1h-1zM12 20h1v1h-1zM15 20h1v1h-1zM31 20h1v1h-1zM36 20h1v1h-1zM47 20h1v1h-1zM0 21h1v1h-1zM8 21h1v1h-1zM10 21h2v1h-2zM13 21h1v1h-1zM26 21h1v1h-1zM39 21h1v1h-1zM43 21h1v1h-1zM46 21h1v1h-1zM8 22h1v1h-1zM15 22h1v1h-1zM26 22h1v1h-1zM38 22h1v1h-1zM57 22h1v1h-1zM68 22h1v1h-1zM71 22h1v1h-1zM11 23h1v1h-1zM15 23h1v1h-1zM29 23h1v1h-1zM43 23h1v1h-1zM55 23h2v1h-2zM68 23h1v1h-1zM71 23h1v1h-1zM4 24h2v1h-2zM11 24h1v1h-1zM28 24h1v1h-1zM43 24h1v1h-1zM52 24h1v1h-1zM58 24h2v1h-2zM66 24h1v1h-1zM69 24h1v1h-1zM4 25h1v1h-1zM6 25h1v1h-1zM36 25h1v1h-1zM16 26h1v1h-1zM46 26h1v1h-1zM48 26h1v1h-1zM65 26h1v1h-1zM72 26h1v1h-1zM12 27h1v1h-1zM18 27h1v1h-1zM20 27h1v1h-1zM24 27h1v1h-1zM49 27h1v1h-1zM57 27h1v1h-1zM17 28h1v1h-1zM33 28h1v1h-1zM38 28h2v1h-2zM48 28h1v1h-1zM1 29h1v1h-1zM33 29h1v1h-1zM69 29h1v1h-1zM73 29h1v1h-1zM0 30h1v1h-1zM10 30h1v1h-1zM29 30h1v1h-1zM73 30h1v1h-1zM1 31h1v1h-1zM29 31h1v1h-1zM53 31h1v1h-1zM18 32h2v1h-2zM34 32h1v1h-1zM37 32h1v1h-1zM7 33h1v1h-1zM10 33h1v1h-1zM19 33h1v1h-1zM35 33h1v1h-1zM38 33h1v1h-1zM9 34h1v1h-1zM1 35h1v1h-1zM13 35h1v1h-1zM19 35h1v1h-1zM36 35h1v1h-1zM13 36h1v1h-1zM0 37h1v1h-1zM11 37h1v1h-1zM17 37h1v1h-1zM28 37h1v1h-1zM53 37h1v1h-1zM70 37h2v1h-2zM3 38h1v1h-1zM21 38h1v1h-1zM2 39h1v1h-1zM10 39h1v1h-1zM47 39h1v1h-1zM67 39h1v1h-1zM5 40h1v1h-1zM28 40h2v1h-2zM37 40h1v1h-1zM15 41h1v1h-1zM40 41h1v1h-1zM8 42h2v1h-2zM32 42h1v1h-1zM35 42h1v1h-1zM58 42h1v1h-1zM65 42h1v1h-1zM24 43h1v1h-1zM45 43h2v1h-2zM57 43h1v1h-1zM24 44h1v1h-1zM35 44h1v1h-1zM45 44h1v1h-1zM65 44h1v1h-1zM72 44h1v1h-1zM66 45h1v1h-1zM9 46h1v1h-1zM37 46h1v1h-1zM44 46h1v1h-1zM52 46h1v1h-1zM14 47h1v1h-1zM38 47h1v1h-1zM5 48h1v1h-1zM9 48h1v1h-1zM11 48h1v1h-1zM16 48h1v1h-1zM27 48h1v1h-1zM35 48h1v1h-1zM38 48h1v1h-1zM44 48h1v1h-1zM47 48h1v1h-1zM15 49h1v1h-1zM19 49h1v1h-1zM25 49h1v1h-1zM33 49h1v1h-1zM38 49h1v1h-1zM51 49h1v1h-1zM9 50h1v1h-1zM12 50h1v1h-1zM21 50h1v1h-1zM24 50h1v1h-1zM26 50h1v1h-1zM31 50h1v1h-1zM37 50h2v1h-2zM48 50h1v1h-1zM50 50h1v1h-1zM69 50h1v1h-1zM19 51h1v1h-1zM71 51h1v1h-1zM7 52h1v1h-1zM28 52h1v1h-1zM33 52h1v1h-1zM52 52h1v1h-1zM68 52h1v1h-1zM2 53h1v1h-1zM9 53h1v1h-1zM11 53h1v1h-1zM22 53h2v1h-2zM40 53h1v1h-1zM26 54h1v1h-1zM44 54h1v1h-1zM66 54h1v1h-1zM8 55h1v1h-1zM10 55h1v1h-1zM12 55h1v1h-1zM19 55h1v1h-1zM36 55h1v1h-1zM40 55h1v1h-1zM53 55h2v1h-2zM5 56h1v1h-1zM14 56h1v1h-1zM18 56h2v1h-2zM49 56h1v1h-1zM13 57h1v1h-1zM17 57h1v1h-1zM26 57h2v1h-2zM34 57h1v1h-1zM51 57h1v1h-1zM56 57h1v1h-1zM15 58h1v1h-1zM43 58h1v1h-1zM48 58h1v1h-1zM1 59h1v1h-1zM16 59h1v1h-1zM24 59h1v1h-1zM42 59h2v1h-2zM47 59h1v1h-1zM53 59h1v1h-1zM11 60h1v1h-1zM43 60h2v1h-2zM68 60h1v1h-1zM11 62h1v1h-1zM30 62h1v1h-1zM0 63h1v1h-1zM10 63h1v1h-1zM31 63h1v1h-1zM40 63h1v1h-1zM52 63h1v1h-1zM56 63h1v1h-1zM65 63h1v1h-1zM23 64h1v1h-1zM30 64h1v1h-1zM38 64h1v1h-1zM53 64h1v1h-1zM20 65h1v1h-1zM28 65h1v1h-1zM30 65h1v1h-1zM33 65h1v1h-1zM49 65h1v1h-1zM3 66h1v1h-1zM55 66h1v1h-1zM0 67h1v1h-1zM57 67h1v1h-1zM17 68h1v1h-1zM19 68h1v1h-1zM23 68h1v1h-1zM34 68h1v1h-1zM42 68h1v1h-1zM24 69h1v1h-1zM36 69h1v1h-1zM42 69h1v1h-1zM12 70h1v1h-1zM18 70h1v1h-1zM18 71h1v1h-1zM26 71h1v1h-1zM30 71h1v1h-1zM39 71h1v1h-1zM46 71h1v1h-1zM50 71h1v1h-1zM72 71h2v1h-2zM1 72h1v1h-1zM10 72h1v1h-1zM16 72h1v1h-1zM22 72h1v1h-1zM25 72h1v1h-1zM31 72h1v1h-1zM12 73h1v1h-1zM14 73h1v1h-1zM18 73h1v1h-1zM22 73h2v1h-2z"/>
<path fill="#090909" d="M11 0h1v1h-1zM16 0h1v1h-1zM24 0h1v1h-1zM28 0h1v1h-1zM66 0h1v1h-1zM70 0h1v1h-1zM14 1h1v1h-1zM36 1h1v1h-1zM42 1h1v1h-1zM12 2h1v1h-1zM17 2h1v1h-1zM22 2h1v1h-1zM11 3h1v1h-1zM31 3h1v1h-1zM45 3h1v1h-1zM69 3h1v1h-1zM19 4h1v1h-1zM27 4h1v1h-1zM49 4h1v1h-1zM20 5h1v1h-1zM30 5h1v1h-1zM52 5h1v1h-1zM68 5h2v1h-2zM13 6h1v1h-1zM30 6h1v1h-1zM44 6h1v1h-1zM52 6h1v1h-1zM69 6h1v1h-1zM5 7h1v1h-1zM10 7h1v1h-1zM14 7h1v1h-1zM22 7h2v1h-2zM47 7h1v1h-1zM52 7h1v1h-1zM70 7h1v1h-1zM1 8h1v1h-1zM41 8h1v1h-1zM59 8h1v1h-1zM68 8h2v1h-2zM71 8h1v1h-1zM11 9h1v1h-1zM13 9h1v1h-1zM36 9h1v1h-1zM39 9h1v1h-1zM43 9h1v1h-1zM50 9h1v1h-1zM52 9h1v1h-1zM68 9h1v1h-1zM46 10h1v1h-1zM67 10h1v1h-1zM69 10h1v1h-1zM71 10h1v1h-1zM8 11h1v1h-1zM39 11h1v1h-1zM48 11h1v1h-1zM71 11h1v1h-1zM1 12h1v1h-1zM7 12h1v1h-1zM12 12h1v1h-1zM28 12h1v1h-1zM35 12h1v1h-1zM37 12h1v1h-1zM41 12h1v1h-1zM48 12h1v1h-1zM66 12h2v1h-2zM69 12h1v1h-1zM72 12h1v1h-1zM0 13h2v1h-2zM14 13h2v1h-2zM24 13h1v1h-1zM30 13h1v1h-1zM34 13h1v1h-1zM43 13h1v1h-1zM48 13h1v1h-1zM50 13h1v1h-1zM72 13h1v1h-1zM4 14h1v1h-1zM33 14h1v1h-1zM47 14h1v1h-1zM71 14h2v1h-2zM12 15h1v1h-1zM31 15h1v1h-1zM43 15h1v1h-1zM49 15h1v1h-1zM73 15h1v1h-1zM5 16h1v1h-1zM10 16h1v1h-1zM16 16h1v1h-1zM20 16h1v1h-1zM25 16h1v1h-1zM19 17h1v1h-1zM24 17h1v1h-1zM39 17h1v1h-1zM41 17h1v1h-1zM2 18h1v1h-1zM18 18h1v1h-1zM2 19h1v1h-1zM17 19h1v1h-1zM26 19h1v1h-1zM50 19h1v1h-1zM63 19h1v1h-1zM66 19h1v1h-1zM26 20h1v1h-1zM34 20h1v1h-1zM41 20h1v1h-1zM44 20h1v1h-1zM35 21h1v1h-1zM42 21h1v1h-1zM58 21h1v1h-1zM67 21h1v1h-1zM5 22h1v1h-1zM29 22h1v1h-1zM31 22h1v1h-1zM46 22h1v1h-1zM51 22h1v1h-1zM56 22h1v1h-1zM67 22h1v1h-1zM72 22h2v1h-2zM21 23h1v1h-1zM26 23h1v1h-1zM37 23h1v1h-1zM52 23h1v1h-1zM0 24h1v1h-1zM2 24h1v1h-1zM10 24h1v1h-1zM13 24h1v1h-1zM42 24h1v1h-1zM46 24h1v1h-1zM73 24h1v1h-1zM11 25h1v1h-1zM35 25h1v1h-1zM39 25h1v1h-1zM58 25h1v1h-1zM22 26h1v1h-1zM64 26h1v1h-1zM21 27h1v1h-1zM23 27h1v1h-1zM44 27h1v1h-1zM8 28h1v1h-1zM11 28h1v1h-1zM32 28h1v1h-1zM66 28h1v1h-1zM27 29h1v1h-1zM36 29h1v1h-1zM43 29h1v1h-1zM2 30h1v1h-1zM28 30h1v1h-1zM30 30h1v1h-1zM35 30h1v1h-1zM37 30h1v1h-1zM52 30h1v1h-1zM69 30h1v1h-1zM35 31h1v1h-1zM39 31h1v1h-1zM68 31h1v1h-1zM13 32h1v1h-1zM24 32h1v1h-1zM31 32h1v1h-1zM11 33h1v1h-1zM20 33h1v1h-1zM31 33h1v1h-1zM53 33h1v1h-1zM66 33h1v1h-1zM69 33h1v1h-1zM14 34h1v1h-1zM40 34h1v1h-1zM45 34h1v1h-1zM72 34h1v1h-1zM8 35h1v1h-1zM15 35h1v1h-1zM17 35h1v1h-1zM20 35h1v1h-1zM40 35h1v1h-1zM69 35h1v1h-1zM72 35h1v1h-1zM7 36h2v1h-2zM16 36h1v1h-1zM20 36h1v1h-1zM24 36h1v1h-1zM50 36h1v1h-1zM69 36h1v1h-1zM72 36h1v1h-1zM12 37h1v1h-1zM18 37h1v1h-1zM22 37h1v1h-1zM26 37h2v1h-2zM30 37h1v1h-1zM46 37h1v1h-1zM56 37h1v1h-1zM38 38h1v1h-1zM59 38h1v1h-1zM68 38h1v1h-1zM46 39h1v1h-1zM4 40h1v1h-1zM20 40h2v1h-2zM38 40h2v1h-2zM27 41h1v1h-1zM66 41h1v1h-1zM3 42h1v1h-1zM5 42h1v1h-1zM25 42h1v1h-1zM29 42h1v1h-1zM34 42h1v1h-1zM36 42h1v1h-1zM48 42h1v1h-1zM50 42h1v1h-1zM67 42h1v1h-1zM7 43h1v1h-1zM23 43h1v1h-1zM29 43h1v1h-1zM32 43h1v1h-1zM52 43h1v1h-1zM56 43h1v1h-1zM0 44h1v1h-1zM7 44h1v1h-1zM10 44h1v1h-1zM29 44h1v1h-1zM12 45h1v1h-1zM37 45h1v1h-1zM64 45h1v1h-1zM12 46h1v1h-1zM31 46h1v1h-1zM66 46h1v1h-1zM32 47h1v1h-1zM39 47h1v1h-1zM43 47h1v1h-1zM47 47h1v1h-1zM50 47h1v1h-1zM61 47h1v1h-1zM7 48h1v1h-1zM40 48h1v1h-1zM43 48h1v1h-1zM72 48h1v1h-1zM2 49h1v1h-1zM11 49h1v1h-1zM17 49h2v1h-2zM20 49h1v1h-1zM43 49h1v1h-1zM47 49h1v1h-1zM54 49h1v1h-1zM2 50h1v1h-1zM7 50h1v1h-1zM18 50h1v1h-1zM35 50h1v1h-1zM39 50h1v1h-1zM30 51h1v1h-1zM37 51h1v1h-1zM41 51h1v1h-1zM0 52h1v1h-1zM9 52h2v1h-2zM24 52h1v1h-1zM39 52h1v1h-1zM46 52h1v1h-1zM56 52h1v1h-1zM69 52h1v1h-1zM0 53h1v1h-1zM6 53h1v1h-1zM28 53h1v1h-1zM34 53h1v1h-1zM1 54h1v1h-1zM28 54h1v1h-1zM36 54h1v1h-1zM41 54h1v1h-1zM47 54h1v1h-1zM67 54h1v1h-1zM1 55h1v1h-1zM9 55h1v1h-1zM18 55h1v1h-1zM20 55h1v1h-1zM28 55h1v1h-1zM43 55h1v1h-1zM6 56h2v1h-2zM20 56h1v1h-1zM25 56h1v1h-1zM29 56h1v1h-1zM35 56h1v1h-1zM14 57h1v1h-1zM18 57h1v1h-1zM21 57h1v1h-1zM45 57h1v1h-1zM60 57h1v1h-1zM16 58h1v1h-1zM18 58h1v1h-1zM7 59h1v1h-1zM18 59h1v1h-1zM27 59h1v1h-1zM34 59h1v1h-1zM52 59h1v1h-1zM0 60h1v1h-1zM4 60h1v1h-1zM24 60h1v1h-1zM40 60h2v1h-2zM50 60h1v1h-1zM61 60h1v1h-1zM4 61h1v1h-1zM12 61h2v1h-2zM43 61h2v1h-2zM56 61h1v1h-1zM24 62h1v1h-1zM38 62h1v1h-1zM40 62h1v1h-1zM43 62h2v1h-2zM65 62h1v1h-1zM13 63h2v1h-2zM16 63h1v1h-1zM20 63h1v1h-1zM30 63h1v1h-1zM43 63h2v1h-2zM51 63h1v1h-1zM13 64h1v1h-1zM17 64h2v1h-2zM29 64h1v1h-1zM40 64h1v1h-1zM50 64h1v1h-1zM58 64h1v1h-1zM14 65h1v1h-1zM17 65h1v1h-1zM24 65h1v1h-1zM47 65h2v1h-2zM62 65h2v1h-2zM2 66h1v1h-1zM24 66h1v1h-1zM41 66h1v1h-1zM46 66h2v1h-2zM67 66h1v1h-1zM28 67h1v1h-1zM46 67h1v1h-1zM62 67h2v1h-2zM66 67h2v1h-2zM35 68h1v1h-1zM39 68h1v1h-1zM66 68h2v1h-2zM11 69h1v1h-1zM5 70h1v1h-1zM16 70h1v1h-1zM47 70h3v1h-3zM70 70h1v1h-1zM27 71h1v1h-1zM14 72h1v1h-1zM27 72h1v1h-1zM47 72h1v1h-1zM3 73h1v1h-1zM6 73h1v1h-1zM55 73h2v1h-2z"/>
<path fill="#0a0a0a" d="M2 0h2v1h-2zM46 0h1v1h-1zM11 1h1v1h-1zM28 1h1v1h-1zM45 1h2v1h-2zM72 1h1v1h-1zM32 2h1v1h-1zM36 2h1v1h-1zM70 2h1v1h-1zM13 3h1v1h-1zM21 3h1v1h-1zM25 3h1v1h-1zM37 3h1v1h-1zM31 4h1v1h-1zM45 4h1v1h-1zM47 4h1v1h-1zM52 4h1v1h-1zM56 5h1v1h-1zM58 5h1v1h-1zM22 6h1v1h-1zM31 6h1v1h-1zM67 6h1v1h-1zM6 7h1v1h-1zM20 7h1v1h-1zM24 7h1v1h-1zM51 7h1v1h-1zM53 7h1v1h-1zM67 7h1v1h-1zM0 8h1v1h-1zM20 8h1v1h-1zM32 8h1v1h-1zM55 8h1v1h-1zM0 9h1v1h-1zM15 9h2v1h-2zM44 9h1v1h-1zM47 9h1v1h-1zM51 9h1v1h-1zM58 9h1v1h-1zM71 9h1v1h-1zM15 10h1v1h-1zM19 10h1v1h-1zM24 10h1v1h-1zM27 10h1v1h-1zM48 10h1v1h-1zM59 10h1v1h-1zM70 10h1v1h-1zM9 11h1v1h-1zM26 11h1v1h-1zM33 11h2v1h-2zM64 11h1v1h-1zM67 11h2v1h-2zM70 11h1v1h-1zM24 12h1v1h-1zM33 12h2v1h-2zM39 12h1v1h-1zM42 12h1v1h-1zM49 12h1v1h-1zM51 12h1v1h-1zM57 12h2v1h-2zM64 12h1v1h-1zM2 13h1v1h-1zM25 13h1v1h-1zM39 13h1v1h-1zM41 13h2v1h-2zM47 13h1v1h-1zM57 13h1v1h-1zM64 13h1v1h-1zM71 13h1v1h-1zM44 14h1v1h-1zM46 14h1v1h-1zM48 14h1v1h-1zM13 15h1v1h-1zM21 15h1v1h-1zM38 15h1v1h-1zM44 15h1v1h-1zM63 15h1v1h-1zM70 15h1v1h-1zM17 16h1v1h-1zM49 16h2v1h-2zM60 16h1v1h-1zM22 17h1v1h-1zM37 17h1v1h-1zM40 17h1v1h-1zM49 17h1v1h-1zM6 18h1v1h-1zM37 18h1v1h-1zM44 18h1v1h-1zM61 18h1v1h-1zM0 19h1v1h-1zM4 19h1v1h-1zM24 19h1v1h-1zM39 19h1v1h-1zM49 19h1v1h-1zM51 19h1v1h-1zM61 19h1v1h-1zM2 20h1v1h-1zM6 20h1v1h-1zM43 20h1v1h-1zM48 20h1v1h-1zM50 20h2v1h-2zM27 21h1v1h-1zM32 21h1v1h-1zM40 21h2v1h-2zM57 21h1v1h-1zM68 21h1v1h-1zM11 22h1v1h-1zM16 22h1v1h-1zM21 22h1v1h-1zM30 22h1v1h-1zM37 22h1v1h-1zM39 22h2v1h-2zM43 22h1v1h-1zM67 23h1v1h-1zM8 24h1v1h-1zM19 24h1v1h-1zM32 24h1v1h-1zM35 24h1v1h-1zM54 24h2v1h-2zM1 25h1v1h-1zM5 25h1v1h-1zM9 25h2v1h-2zM15 25h1v1h-1zM31 25h1v1h-1zM34 25h1v1h-1zM59 25h1v1h-1zM9 26h1v1h-1zM45 26h1v1h-1zM56 26h1v1h-1zM9 27h1v1h-1zM40 27h3v1h-3zM16 28h1v1h-1zM22 28h2v1h-2zM27 28h1v1h-1zM47 28h1v1h-1zM54 28h1v1h-1zM72 28h1v1h-1zM8 29h1v1h-1zM16 29h1v1h-1zM25 29h1v1h-1zM34 29h1v1h-1zM48 29h1v1h-1zM41 30h1v1h-1zM20 31h1v1h-1zM33 31h2v1h-2zM73 31h1v1h-1zM35 32h1v1h-1zM46 32h1v1h-1zM70 32h1v1h-1zM73 32h1v1h-1zM17 33h1v1h-1zM39 33h1v1h-1zM43 33h1v1h-1zM71 33h1v1h-1zM73 33h1v1h-1zM8 34h1v1h-1zM20 34h1v1h-1zM32 34h1v1h-1zM43 34h1v1h-1zM69 34h1v1h-1zM7 35h1v1h-1zM14 35h1v1h-1zM31 35h2v1h-2zM6 37h1v1h-1zM15 37h1v1h-1zM21 37h1v1h-1zM48 37h2v1h-2zM51 37h1v1h-1zM64 37h1v1h-1zM68 37h1v1h-1zM2 38h1v1h-1zM6 38h1v1h-1zM9 38h1v1h-1zM27 38h1v1h-1zM39 38h1v1h-1zM47 38h1v1h-1zM54 38h1v1h-1zM64 38h1v1h-1zM66 38h1v1h-1zM30 39h1v1h-1zM57 39h1v1h-1zM59 39h1v1h-1zM66 39h1v1h-1zM3 40h1v1h-1zM24 40h1v1h-1zM22 41h1v1h-1zM24 41h1v1h-1zM32 41h1v1h-1zM42 41h1v1h-1zM21 42h1v1h-1zM56 42h1v1h-1zM59 42h1v1h-1zM4 43h1v1h-1zM64 43h1v1h-1zM46 44h1v1h-1zM55 44h1v1h-1zM1 45h1v1h-1zM13 45h1v1h-1zM26 45h1v1h-1zM32 45h1v1h-1zM40 45h1v1h-1zM42 45h1v1h-1zM53 45h1v1h-1zM29 46h1v1h-1zM40 46h1v1h-1zM61 46h1v1h-1zM3 47h1v1h-1zM36 47h1v1h-1zM41 47h1v1h-1zM55 47h1v1h-1zM60 47h1v1h-1zM62 47h1v1h-1zM14 48h1v1h-1zM54 48h1v1h-1zM56 48h1v1h-1zM10 49h1v1h-1zM16 49h1v1h-1zM37 49h1v1h-1zM42 49h1v1h-1zM55 49h1v1h-1zM3 50h1v1h-1zM15 50h1v1h-1zM34 50h1v1h-1zM43 50h2v1h-2zM53 50h1v1h-1zM62 50h1v1h-1zM27 51h1v1h-1zM44 51h2v1h-2zM61 51h2v1h-2zM19 52h1v1h-1zM21 52h1v1h-1zM47 52h1v1h-1zM54 52h2v1h-2zM65 52h1v1h-1zM1 53h1v1h-1zM19 53h1v1h-1zM53 53h1v1h-1zM64 53h1v1h-1zM2 54h1v1h-1zM12 54h1v1h-1zM21 54h1v1h-1zM34 54h1v1h-1zM69 54h1v1h-1zM30 55h1v1h-1zM34 55h1v1h-1zM55 55h1v1h-1zM9 56h1v1h-1zM30 56h1v1h-1zM46 56h1v1h-1zM65 56h1v1h-1zM7 57h1v1h-1zM19 57h1v1h-1zM44 57h1v1h-1zM57 57h1v1h-1zM63 57h1v1h-1zM65 57h1v1h-1zM1 58h1v1h-1zM29 58h1v1h-1zM34 58h1v1h-1zM0 59h1v1h-1zM6 59h1v1h-1zM46 59h1v1h-1zM59 59h2v1h-2zM8 60h1v1h-1zM7 61h1v1h-1zM17 61h1v1h-1zM50 61h1v1h-1zM61 61h1v1h-1zM15 62h1v1h-1zM25 62h3v1h-3zM29 62h1v1h-1zM31 62h1v1h-1zM63 62h1v1h-1zM23 63h1v1h-1zM45 63h1v1h-1zM50 63h1v1h-1zM53 63h1v1h-1zM14 64h1v1h-1zM32 64h1v1h-1zM34 64h1v1h-1zM41 64h1v1h-1zM49 64h1v1h-1zM62 64h2v1h-2zM0 65h1v1h-1zM12 65h1v1h-1zM15 65h1v1h-1zM23 65h1v1h-1zM35 65h1v1h-1zM58 65h1v1h-1zM1 66h1v1h-1zM16 66h1v1h-1zM34 66h1v1h-1zM65 66h2v1h-2zM1 67h1v1h-1zM23 67h2v1h-2zM58 67h1v1h-1zM16 68h1v1h-1zM24 68h1v1h-1zM48 68h1v1h-1zM68 68h1v1h-1zM15 69h1v1h-1zM54 69h1v1h-1zM20 70h1v1h-1zM50 70h1v1h-1zM54 70h1v1h-1zM65 70h1v1h-1zM14 71h1v1h-1zM16 71h1v1h-1zM40 71h2v1h-2zM49 71h1v1h-1zM8 72h2v1h-2zM11 72h1v1h-1zM15 72h1v1h-1zM30 72h1v1h-1zM39 72h1v1h-1zM43 72h1v1h-1zM50 72h1v1h-1zM1 73h2v1h-2zM13 73h1v1h-1zM33 73h1v1h-1z"/>
<path fill="#0b0b0b" d="M45 0h1v1h-1zM47 0h1v1h-1zM49 0h1v1h-1zM57 0h1v1h-1zM44 1h1v1h-1zM49 1h1v1h-1zM13 2h1v1h-1zM31 2h1v1h-1zM37 2h2v1h-2zM45 2h1v1h-1zM26 3h1v1h-1zM32 3h1v1h-1zM36 3h1v1h-1zM60 3h1v1h-1zM11 4h1v1h-1zM26 4h1v1h-1zM46 4h1v1h-1zM56 4h1v1h-1zM68 4h1v1h-1zM35 5h1v1h-1zM67 5h1v1h-1zM73 5h1v1h-1zM14 6h1v1h-1zM23 6h1v1h-1zM45 6h3v1h-3zM50 7h1v1h-1zM10 8h1v1h-1zM40 8h1v1h-1zM48 8h1v1h-1zM54 8h1v1h-1zM56 8h1v1h-1zM70 8h1v1h-1zM40 9h1v1h-1zM57 9h1v1h-1zM5 10h1v1h-1zM16 10h1v1h-1zM42 10h1v1h-1zM49 10h1v1h-1zM60 10h1v1h-1zM52 11h1v1h-1zM57 11h1v1h-1zM8 12h1v1h-1zM52 12h2v1h-2zM71 12h1v1h-1zM9 13h1v1h-1zM29 13h1v1h-1zM31 13h1v1h-1zM52 13h2v1h-2zM55 13h1v1h-1zM0 14h1v1h-1zM9 14h1v1h-1zM24 14h1v1h-1zM32 14h1v1h-1zM45 14h1v1h-1zM55 14h1v1h-1zM58 14h1v1h-1zM5 15h1v1h-1zM24 15h1v1h-1zM56 15h2v1h-2zM9 16h1v1h-1zM19 16h1v1h-1zM56 16h1v1h-1zM5 17h1v1h-1zM58 17h1v1h-1zM62 17h1v1h-1zM4 18h1v1h-1zM49 18h2v1h-2zM53 18h1v1h-1zM1 19h1v1h-1zM8 19h1v1h-1zM15 19h2v1h-2zM20 19h1v1h-1zM30 19h1v1h-1zM62 19h1v1h-1zM8 20h1v1h-1zM15 21h1v1h-1zM25 21h1v1h-1zM28 21h3v1h-3zM36 21h2v1h-2zM72 21h1v1h-1zM1 22h1v1h-1zM47 22h1v1h-1zM70 22h1v1h-1zM14 23h1v1h-1zM31 23h1v1h-1zM35 23h1v1h-1zM59 23h1v1h-1zM72 23h2v1h-2zM20 24h1v1h-1zM31 24h1v1h-1zM34 24h1v1h-1zM41 24h1v1h-1zM51 24h1v1h-1zM57 24h1v1h-1zM68 24h1v1h-1zM71 24h1v1h-1zM22 25h1v1h-1zM64 25h1v1h-1zM66 25h1v1h-1zM0 26h1v1h-1zM20 26h1v1h-1zM40 26h1v1h-1zM44 26h1v1h-1zM54 26h1v1h-1zM58 26h1v1h-1zM25 27h1v1h-1zM52 27h1v1h-1zM3 28h1v1h-1zM9 28h1v1h-1zM28 28h1v1h-1zM45 28h1v1h-1zM51 28h1v1h-1zM73 28h1v1h-1zM70 29h1v1h-1zM44 30h1v1h-1zM66 30h1v1h-1zM24 31h1v1h-1zM37 31h1v1h-1zM64 31h1v1h-1zM66 31h2v1h-2zM2 32h1v1h-1zM20 32h1v1h-1zM22 32h2v1h-2zM39 32h2v1h-2zM43 32h1v1h-1zM65 32h2v1h-2zM9 33h1v1h-1zM30 33h1v1h-1zM44 33h1v1h-1zM7 34h1v1h-1zM19 34h1v1h-1zM42 34h1v1h-1zM0 35h1v1h-1zM28 35h1v1h-1zM48 35h1v1h-1zM0 36h1v1h-1zM11 36h1v1h-1zM17 36h1v1h-1zM23 36h1v1h-1zM27 36h1v1h-1zM46 36h1v1h-1zM49 36h1v1h-1zM53 36h1v1h-1zM23 37h1v1h-1zM31 37h1v1h-1zM45 37h1v1h-1zM72 37h1v1h-1zM20 38h1v1h-1zM23 38h1v1h-1zM33 38h1v1h-1zM46 38h1v1h-1zM48 38h1v1h-1zM56 38h1v1h-1zM71 38h1v1h-1zM3 39h1v1h-1zM6 39h1v1h-1zM16 39h1v1h-1zM45 39h1v1h-1zM60 39h1v1h-1zM6 40h1v1h-1zM11 40h1v1h-1zM36 40h1v1h-1zM60 40h1v1h-1zM10 41h1v1h-1zM21 41h1v1h-1zM25 41h1v1h-1zM49 41h1v1h-1zM61 41h1v1h-1zM11 42h1v1h-1zM22 42h1v1h-1zM45 42h1v1h-1zM52 42h1v1h-1zM57 42h1v1h-1zM68 42h1v1h-1zM9 43h1v1h-1zM27 43h1v1h-1zM30 43h1v1h-1zM34 43h1v1h-1zM51 43h1v1h-1zM53 43h1v1h-1zM55 43h1v1h-1zM66 43h2v1h-2zM11 44h1v1h-1zM28 44h1v1h-1zM42 44h1v1h-1zM56 44h1v1h-1zM64 44h1v1h-1zM24 45h1v1h-1zM28 45h1v1h-1zM61 45h1v1h-1zM63 45h1v1h-1zM10 46h2v1h-2zM26 46h1v1h-1zM32 46h1v1h-1zM42 46h1v1h-1zM64 46h1v1h-1zM67 46h1v1h-1zM10 47h1v1h-1zM24 47h2v1h-2zM52 47h1v1h-1zM64 47h1v1h-1zM4 48h1v1h-1zM20 48h1v1h-1zM37 48h1v1h-1zM41 48h1v1h-1zM57 48h1v1h-1zM4 49h1v1h-1zM41 49h1v1h-1zM48 49h1v1h-1zM53 49h1v1h-1zM0 50h1v1h-1zM27 50h1v1h-1zM36 50h1v1h-1zM45 50h1v1h-1zM60 50h2v1h-2zM65 50h1v1h-1zM26 51h1v1h-1zM36 51h1v1h-1zM38 51h1v1h-1zM49 51h2v1h-2zM60 51h1v1h-1zM64 51h1v1h-1zM70 51h1v1h-1zM23 52h1v1h-1zM36 52h1v1h-1zM41 52h1v1h-1zM64 52h1v1h-1zM36 53h1v1h-1zM54 53h1v1h-1zM63 53h1v1h-1zM66 53h1v1h-1zM72 53h1v1h-1zM14 54h1v1h-1zM43 54h1v1h-1zM53 54h1v1h-1zM64 54h2v1h-2zM73 54h1v1h-1zM44 55h1v1h-1zM31 56h1v1h-1zM41 56h2v1h-2zM54 56h1v1h-1zM8 57h1v1h-1zM20 57h1v1h-1zM48 57h1v1h-1zM59 57h1v1h-1zM62 57h1v1h-1zM0 58h1v1h-1zM7 58h1v1h-1zM17 58h1v1h-1zM19 58h3v1h-3zM46 58h1v1h-1zM60 58h1v1h-1zM36 59h1v1h-1zM41 59h1v1h-1zM7 60h1v1h-1zM26 60h2v1h-2zM36 60h1v1h-1zM46 60h1v1h-1zM66 60h2v1h-2zM65 61h1v1h-1zM72 61h1v1h-1zM9 62h1v1h-1zM50 62h1v1h-1zM42 63h1v1h-1zM58 63h1v1h-1zM1 64h1v1h-1zM37 64h1v1h-1zM47 64h1v1h-1zM60 64h1v1h-1zM2 65h1v1h-1zM19 65h1v1h-1zM25 65h1v1h-1zM27 65h1v1h-1zM41 65h1v1h-1zM57 65h1v1h-1zM10 66h2v1h-2zM23 66h1v1h-1zM51 66h2v1h-2zM56 66h3v1h-3zM68 66h1v1h-1zM8 67h2v1h-2zM12 67h1v1h-1zM60 67h1v1h-1zM64 67h2v1h-2zM73 67h1v1h-1zM11 68h1v1h-1zM14 68h1v1h-1zM25 68h1v1h-1zM28 68h1v1h-1zM38 68h1v1h-1zM48 69h1v1h-1zM46 70h1v1h-1zM51 70h1v1h-1zM69 70h1v1h-1zM5 71h1v1h-1zM71 71h1v1h-1zM18 72h1v1h-1zM23 72h1v1h-1zM41 72h1v1h-1zM46 72h1v1h-1zM54 72h1v1h-1zM64 72h1v1h-1zM15 73h1v1h-1zM26 73h1v1h-1zM32 73h1v1h-1zM46 73h1v1h-1zM50 73h1v1h-1zM53 73h2v1h-2zM65 73h1v1h-1z"/>
<path fill="#0c0c0c" d="M12 0h2v1h-2zM33 0h1v1h-1zM41 0h1v1h-1zM48 0h1v1h-1zM50 0h1v1h-1zM71 0h1v1h-1zM12 1h2v1h-2zM22 1h2v1h-2zM38 1h1v1h-1zM66 1h1v1h-1zM18 2h1v1h-1zM60 2h1v1h-1zM72 2h1v1h-1zM44 3h1v1h-1zM68 3h1v1h-1zM35 4h1v1h-1zM54 4h1v1h-1zM61 4h1v1h-1zM69 4h1v1h-1zM3 5h1v1h-1zM16 5h1v1h-1zM45 5h1v1h-1zM47 5h3v1h-3zM61 5h2v1h-2zM53 6h1v1h-1zM62 6h1v1h-1zM8 7h1v1h-1zM31 7h1v1h-1zM39 7h2v1h-2zM49 7h1v1h-1zM2 8h1v1h-1zM31 8h1v1h-1zM38 8h1v1h-1zM41 9h1v1h-1zM45 9h1v1h-1zM49 9h1v1h-1zM56 9h1v1h-1zM26 10h1v1h-1zM41 10h1v1h-1zM43 10h1v1h-1zM52 10h2v1h-2zM62 10h1v1h-1zM66 10h1v1h-1zM72 10h2v1h-2zM3 11h1v1h-1zM24 11h1v1h-1zM47 11h1v1h-1zM65 11h2v1h-2zM72 11h1v1h-1zM3 12h1v1h-1zM36 12h1v1h-1zM65 12h1v1h-1zM68 12h1v1h-1zM70 12h1v1h-1zM8 13h1v1h-1zM28 13h1v1h-1zM40 13h1v1h-1zM44 13h1v1h-1zM49 13h1v1h-1zM51 13h1v1h-1zM56 13h1v1h-1zM14 14h1v1h-1zM28 14h2v1h-2zM31 14h1v1h-1zM40 14h1v1h-1zM49 14h2v1h-2zM52 14h1v1h-1zM57 14h1v1h-1zM19 15h2v1h-2zM52 15h1v1h-1zM62 15h1v1h-1zM47 16h1v1h-1zM2 17h1v1h-1zM60 17h2v1h-2zM67 17h1v1h-1zM1 18h1v1h-1zM39 18h1v1h-1zM63 18h1v1h-1zM72 18h1v1h-1zM5 19h2v1h-2zM43 19h1v1h-1zM9 20h1v1h-1zM27 20h1v1h-1zM49 20h1v1h-1zM1 21h1v1h-1zM48 21h1v1h-1zM51 21h1v1h-1zM55 21h1v1h-1zM71 21h1v1h-1zM73 21h1v1h-1zM14 22h1v1h-1zM20 22h1v1h-1zM28 22h1v1h-1zM52 22h1v1h-1zM16 23h1v1h-1zM20 23h1v1h-1zM27 23h1v1h-1zM46 23h3v1h-3zM57 23h1v1h-1zM66 23h1v1h-1zM9 24h1v1h-1zM21 24h1v1h-1zM45 24h1v1h-1zM47 24h1v1h-1zM56 24h1v1h-1zM63 24h3v1h-3zM63 25h1v1h-1zM70 25h1v1h-1zM0 27h1v1h-1zM72 27h1v1h-1zM26 28h1v1h-1zM29 28h1v1h-1zM43 28h1v1h-1zM46 28h1v1h-1zM55 28h1v1h-1zM26 29h1v1h-1zM31 29h1v1h-1zM53 29h1v1h-1zM68 29h1v1h-1zM26 30h1v1h-1zM33 30h1v1h-1zM45 30h1v1h-1zM48 30h1v1h-1zM21 31h1v1h-1zM36 31h1v1h-1zM40 31h1v1h-1zM65 31h1v1h-1zM36 32h1v1h-1zM41 32h1v1h-1zM64 32h1v1h-1zM72 32h1v1h-1zM2 33h1v1h-1zM40 33h1v1h-1zM42 33h1v1h-1zM63 33h1v1h-1zM2 34h1v1h-1zM18 34h1v1h-1zM31 34h1v1h-1zM41 34h1v1h-1zM47 34h2v1h-2zM71 34h1v1h-1zM12 35h1v1h-1zM68 35h1v1h-1zM15 36h1v1h-1zM28 36h1v1h-1zM45 36h1v1h-1zM64 36h1v1h-1zM70 36h1v1h-1zM14 37h1v1h-1zM20 37h1v1h-1zM25 37h1v1h-1zM47 37h1v1h-1zM58 37h1v1h-1zM65 37h1v1h-1zM73 37h1v1h-1zM15 38h1v1h-1zM40 38h1v1h-1zM45 38h1v1h-1zM50 38h1v1h-1zM72 38h1v1h-1zM9 39h1v1h-1zM33 39h1v1h-1zM40 39h1v1h-1zM56 39h1v1h-1zM58 39h1v1h-1zM65 39h1v1h-1zM9 40h1v1h-1zM33 40h2v1h-2zM11 41h1v1h-1zM23 41h1v1h-1zM36 41h1v1h-1zM43 41h1v1h-1zM62 41h3v1h-3zM4 42h1v1h-1zM10 42h1v1h-1zM24 42h1v1h-1zM26 42h1v1h-1zM41 42h1v1h-1zM47 42h1v1h-1zM53 42h1v1h-1zM61 42h1v1h-1zM66 42h1v1h-1zM11 43h1v1h-1zM22 43h1v1h-1zM33 43h1v1h-1zM47 43h1v1h-1zM33 44h1v1h-1zM44 44h1v1h-1zM47 44h1v1h-1zM50 44h1v1h-1zM53 44h1v1h-1zM61 44h1v1h-1zM66 44h1v1h-1zM21 45h1v1h-1zM25 45h1v1h-1zM27 45h1v1h-1zM31 45h1v1h-1zM33 45h1v1h-1zM55 45h1v1h-1zM57 45h1v1h-1zM2 46h1v1h-1zM21 46h1v1h-1zM30 46h1v1h-1zM33 46h1v1h-1zM51 46h1v1h-1zM53 46h1v1h-1zM11 47h1v1h-1zM17 47h1v1h-1zM40 47h1v1h-1zM58 47h1v1h-1zM66 47h2v1h-2zM6 48h1v1h-1zM10 48h1v1h-1zM18 48h1v1h-1zM60 48h1v1h-1zM62 48h1v1h-1zM8 49h1v1h-1zM34 49h2v1h-2zM52 49h1v1h-1zM57 49h1v1h-1zM72 49h2v1h-2zM13 50h2v1h-2zM46 50h2v1h-2zM52 50h1v1h-1zM23 51h1v1h-1zM53 51h1v1h-1zM66 51h1v1h-1zM44 52h1v1h-1zM62 52h2v1h-2zM14 53h1v1h-1zM47 53h3v1h-3zM57 53h1v1h-1zM18 54h1v1h-1zM42 54h1v1h-1zM57 54h1v1h-1zM70 54h1v1h-1zM16 55h1v1h-1zM21 55h1v1h-1zM39 55h1v1h-1zM46 55h1v1h-1zM50 55h1v1h-1zM65 55h1v1h-1zM1 56h1v1h-1zM8 56h1v1h-1zM17 56h1v1h-1zM28 56h1v1h-1zM22 57h1v1h-1zM30 57h2v1h-2zM43 57h1v1h-1zM49 57h1v1h-1zM61 57h1v1h-1zM64 57h1v1h-1zM66 57h1v1h-1zM28 58h1v1h-1zM44 58h1v1h-1zM51 58h1v1h-1zM62 58h2v1h-2zM65 58h1v1h-1zM17 59h1v1h-1zM31 59h1v1h-1zM48 59h1v1h-1zM58 59h1v1h-1zM62 59h1v1h-1zM17 60h1v1h-1zM59 60h1v1h-1zM65 60h1v1h-1zM54 61h1v1h-1zM63 61h1v1h-1zM66 61h1v1h-1zM8 62h1v1h-1zM16 62h2v1h-2zM28 62h1v1h-1zM42 62h1v1h-1zM52 62h1v1h-1zM57 62h1v1h-1zM62 62h1v1h-1zM64 62h1v1h-1zM18 63h1v1h-1zM64 63h1v1h-1zM36 64h1v1h-1zM48 64h1v1h-1zM32 65h1v1h-1zM40 65h1v1h-1zM55 65h2v1h-2zM61 65h1v1h-1zM12 66h1v1h-1zM14 66h1v1h-1zM20 66h1v1h-1zM44 66h2v1h-2zM48 66h1v1h-1zM54 66h1v1h-1zM60 66h1v1h-1zM10 67h1v1h-1zM54 67h1v1h-1zM68 67h1v1h-1zM18 68h1v1h-1zM36 68h1v1h-1zM54 68h1v1h-1zM66 69h1v1h-1zM11 70h1v1h-1zM17 70h1v1h-1zM22 70h1v1h-1zM32 70h1v1h-1zM64 70h1v1h-1zM71 70h1v1h-1zM11 71h1v1h-1zM22 71h1v1h-1zM51 71h1v1h-1zM53 71h1v1h-1zM65 71h1v1h-1zM0 72h1v1h-1zM40 72h1v1h-1zM44 72h2v1h-2zM72 72h1v1h-1zM30 73h1v1h-1zM43 73h1v1h-1zM58 73h2v1h-2z"/>
<path fill="#0d0d0d" d="M31 0h1v1h-1zM44 0h1v1h-1zM64 0h1v1h-1zM51 1h1v1h-1zM58 1h1v1h-1zM46 2h1v1h-1zM48 2h1v1h-1zM68 2h1v1h-1zM73 2h1v1h-1zM20 3h1v1h-1zM35 3h1v1h-1zM52 3h1v1h-1zM72 3h1v1h-1zM2 4h1v1h-1zM34 4h1v1h-1zM51 4h1v1h-1zM15 5h1v1h-1zM51 5h1v1h-1zM16 6h1v1h-1zM59 6h1v1h-1zM66 6h1v1h-1zM7 7h1v1h-1zM58 7h2v1h-2zM66 7h1v1h-1zM72 8h1v1h-1zM56 10h2v1h-2zM61 10h1v1h-1zM2 11h1v1h-1zM6 11h1v1h-1zM42 11h1v1h-1zM53 11h2v1h-2zM73 11h1v1h-1zM4 12h1v1h-1zM35 13h1v1h-1zM37 13h1v1h-1zM58 13h1v1h-1zM65 13h1v1h-1zM47 15h1v1h-1zM58 15h2v1h-2zM52 16h1v1h-1zM15 17h1v1h-1zM46 17h2v1h-2zM50 17h1v1h-1zM17 18h1v1h-1zM43 18h1v1h-1zM62 18h1v1h-1zM7 19h1v1h-1zM25 19h1v1h-1zM41 19h1v1h-1zM0 20h1v1h-1zM13 20h2v1h-2zM62 20h1v1h-1zM2 21h1v1h-1zM14 21h1v1h-1zM50 21h1v1h-1zM19 22h1v1h-1zM27 22h1v1h-1zM34 22h3v1h-3zM58 22h1v1h-1zM69 22h1v1h-1zM7 23h1v1h-1zM19 23h1v1h-1zM32 23h1v1h-1zM36 23h1v1h-1zM50 23h1v1h-1zM53 23h1v1h-1zM1 24h1v1h-1zM16 24h1v1h-1zM18 24h1v1h-1zM36 24h2v1h-2zM67 24h1v1h-1zM0 25h1v1h-1zM43 25h1v1h-1zM51 25h1v1h-1zM65 25h1v1h-1zM71 25h1v1h-1zM43 26h1v1h-1zM22 27h1v1h-1zM67 27h1v1h-1zM4 28h1v1h-1zM53 28h1v1h-1zM56 28h1v1h-1zM68 28h2v1h-2zM9 29h1v1h-1zM50 29h1v1h-1zM66 29h1v1h-1zM34 30h1v1h-1zM36 30h1v1h-1zM71 30h1v1h-1zM30 31h1v1h-1zM46 31h1v1h-1zM71 31h1v1h-1zM21 32h1v1h-1zM29 32h1v1h-1zM68 32h1v1h-1zM8 33h1v1h-1zM52 33h1v1h-1zM70 33h1v1h-1zM39 34h1v1h-1zM52 34h1v1h-1zM54 34h1v1h-1zM39 35h1v1h-1zM41 35h1v1h-1zM64 35h1v1h-1zM14 36h1v1h-1zM63 36h1v1h-1zM68 36h1v1h-1zM24 37h1v1h-1zM37 37h1v1h-1zM55 37h1v1h-1zM14 38h1v1h-1zM28 38h1v1h-1zM34 38h1v1h-1zM53 38h1v1h-1zM55 38h1v1h-1zM60 38h1v1h-1zM73 38h1v1h-1zM5 39h1v1h-1zM14 39h1v1h-1zM15 40h1v1h-1zM40 40h2v1h-2zM47 40h1v1h-1zM51 40h1v1h-1zM59 40h1v1h-1zM67 40h1v1h-1zM16 41h1v1h-1zM34 41h1v1h-1zM45 41h1v1h-1zM60 41h1v1h-1zM65 41h1v1h-1zM67 41h1v1h-1zM27 42h1v1h-1zM69 42h1v1h-1zM6 43h1v1h-1zM48 43h1v1h-1zM73 43h1v1h-1zM2 44h1v1h-1zM13 44h2v1h-2zM32 44h1v1h-1zM37 44h1v1h-1zM54 44h1v1h-1zM67 44h1v1h-1zM34 45h1v1h-1zM43 45h1v1h-1zM60 45h1v1h-1zM69 45h1v1h-1zM0 46h1v1h-1zM43 46h1v1h-1zM60 46h1v1h-1zM21 47h1v1h-1zM49 47h1v1h-1zM57 47h1v1h-1zM36 48h1v1h-1zM48 48h1v1h-1zM9 49h1v1h-1zM21 49h1v1h-1zM70 49h1v1h-1zM41 50h1v1h-1zM54 50h1v1h-1zM21 51h1v1h-1zM24 51h1v1h-1zM43 51h1v1h-1zM48 51h1v1h-1zM55 51h1v1h-1zM16 52h1v1h-1zM29 52h1v1h-1zM50 52h1v1h-1zM18 53h1v1h-1zM41 53h1v1h-1zM46 53h1v1h-1zM50 53h1v1h-1zM59 53h1v1h-1zM62 53h1v1h-1zM73 53h1v1h-1zM6 54h1v1h-1zM29 54h1v1h-1zM48 54h1v1h-1zM55 54h2v1h-2zM58 54h1v1h-1zM60 54h1v1h-1zM62 54h1v1h-1zM68 54h1v1h-1zM72 54h1v1h-1zM6 55h1v1h-1zM32 55h2v1h-2zM49 55h1v1h-1zM62 55h1v1h-1zM51 56h2v1h-2zM55 56h2v1h-2zM59 56h1v1h-1zM62 56h1v1h-1zM0 57h1v1h-1zM29 57h1v1h-1zM33 57h1v1h-1zM54 57h1v1h-1zM22 58h1v1h-1zM56 58h2v1h-2zM59 58h1v1h-1zM68 59h1v1h-1zM72 59h2v1h-2zM23 60h1v1h-1zM34 60h1v1h-1zM37 60h2v1h-2zM72 60h1v1h-1zM8 61h1v1h-1zM11 61h1v1h-1zM42 61h1v1h-1zM64 61h1v1h-1zM68 61h1v1h-1zM61 62h1v1h-1zM27 63h1v1h-1zM33 63h1v1h-1zM46 63h1v1h-1zM49 63h1v1h-1zM62 63h2v1h-2zM8 64h1v1h-1zM26 65h1v1h-1zM39 65h1v1h-1zM45 65h2v1h-2zM53 65h1v1h-1zM59 65h1v1h-1zM17 66h1v1h-1zM51 67h1v1h-1zM49 69h2v1h-2zM56 69h2v1h-2zM63 69h1v1h-1zM0 70h1v1h-1zM10 70h1v1h-1zM63 70h1v1h-1zM66 70h1v1h-1zM68 70h1v1h-1zM72 70h2v1h-2zM63 71h1v1h-1zM26 72h1v1h-1zM55 72h2v1h-2zM65 72h1v1h-1zM73 72h1v1h-1zM16 73h1v1h-1zM40 73h1v1h-1zM45 73h1v1h-1zM64 73h1v1h-1zM72 73h1v1h-1z"/>
<path fill="#0e0e0e" d="M32 0h1v1h-1zM43 0h1v1h-1zM59 0h1v1h-1zM67 0h2v1h-2zM68 1h1v1h-1zM71 1h1v1h-1zM51 2h1v1h-1zM66 2h1v1h-1zM71 2h1v1h-1zM12 3h1v1h-1zM46 3h2v1h-2zM50 3h1v1h-1zM57 3h1v1h-1zM61 3h1v1h-1zM3 4h1v1h-1zM20 4h1v1h-1zM33 4h1v1h-1zM58 4h1v1h-1zM60 4h1v1h-1zM62 4h1v1h-1zM73 4h1v1h-1zM50 5h1v1h-1zM24 6h1v1h-1zM29 6h1v1h-1zM32 6h1v1h-1zM34 6h1v1h-1zM51 6h1v1h-1zM58 6h1v1h-1zM48 7h1v1h-1zM54 7h1v1h-1zM56 7h1v1h-1zM28 9h1v1h-1zM42 9h1v1h-1zM48 9h1v1h-1zM66 9h1v1h-1zM69 9h2v1h-2zM72 9h1v1h-1zM6 10h1v1h-1zM44 10h1v1h-1zM65 10h1v1h-1zM4 11h1v1h-1zM25 11h1v1h-1zM46 11h1v1h-1zM58 11h1v1h-1zM63 11h1v1h-1zM43 12h1v1h-1zM47 12h1v1h-1zM46 13h1v1h-1zM54 13h1v1h-1zM66 13h1v1h-1zM37 14h1v1h-1zM39 14h1v1h-1zM56 14h1v1h-1zM73 14h1v1h-1zM37 15h1v1h-1zM11 16h1v1h-1zM22 16h2v1h-2zM59 16h1v1h-1zM65 16h1v1h-1zM67 16h1v1h-1zM17 17h1v1h-1zM23 17h1v1h-1zM59 17h1v1h-1zM64 17h1v1h-1zM70 17h2v1h-2zM45 18h1v1h-1zM48 19h1v1h-1zM60 19h1v1h-1zM10 20h2v1h-2zM34 21h1v1h-1zM61 21h1v1h-1zM2 22h3v1h-3zM18 22h1v1h-1zM50 22h1v1h-1zM59 22h1v1h-1zM66 22h1v1h-1zM1 23h4v1h-4zM49 23h1v1h-1zM14 24h1v1h-1zM40 25h1v1h-1zM45 25h1v1h-1zM72 25h1v1h-1zM10 26h2v1h-2zM21 26h1v1h-1zM55 26h1v1h-1zM69 26h1v1h-1zM73 26h1v1h-1zM10 27h2v1h-2zM43 27h1v1h-1zM54 27h1v1h-1zM71 27h1v1h-1zM10 28h1v1h-1zM31 28h1v1h-1zM44 28h1v1h-1zM10 29h1v1h-1zM29 29h1v1h-1zM42 30h2v1h-2zM49 30h1v1h-1zM65 30h1v1h-1zM67 30h1v1h-1zM51 31h1v1h-1zM72 31h1v1h-1zM52 32h1v1h-1zM71 32h1v1h-1zM18 33h1v1h-1zM41 33h1v1h-1zM47 33h1v1h-1zM44 34h1v1h-1zM63 34h1v1h-1zM46 35h1v1h-1zM53 35h1v1h-1zM67 35h1v1h-1zM12 36h1v1h-1zM36 36h1v1h-1zM51 36h1v1h-1zM54 36h1v1h-1zM65 36h1v1h-1zM71 36h1v1h-1zM67 37h1v1h-1zM31 38h1v1h-1zM43 38h1v1h-1zM49 38h1v1h-1zM27 39h1v1h-1zM35 39h1v1h-1zM48 39h1v1h-1zM52 39h1v1h-1zM61 39h1v1h-1zM10 40h1v1h-1zM52 40h1v1h-1zM63 40h1v1h-1zM65 40h1v1h-1zM3 41h1v1h-1zM37 41h1v1h-1zM48 41h1v1h-1zM54 41h1v1h-1zM59 41h1v1h-1zM23 42h1v1h-1zM40 42h1v1h-1zM55 42h1v1h-1zM60 42h1v1h-1zM62 42h1v1h-1zM28 43h1v1h-1zM41 43h1v1h-1zM49 43h1v1h-1zM27 44h1v1h-1zM34 44h1v1h-1zM29 45h1v1h-1zM48 45h1v1h-1zM50 45h1v1h-1zM54 45h1v1h-1zM62 45h1v1h-1zM70 45h1v1h-1zM72 45h1v1h-1zM55 46h2v1h-2zM58 46h1v1h-1zM62 46h1v1h-1zM44 47h1v1h-1zM56 47h1v1h-1zM63 47h1v1h-1zM19 48h1v1h-1zM22 48h1v1h-1zM61 48h1v1h-1zM63 48h1v1h-1zM60 49h1v1h-1zM62 49h1v1h-1zM8 50h1v1h-1zM42 50h1v1h-1zM51 50h1v1h-1zM59 50h1v1h-1zM64 50h1v1h-1zM31 51h1v1h-1zM39 51h1v1h-1zM52 51h1v1h-1zM63 51h1v1h-1zM44 53h2v1h-2zM55 53h2v1h-2zM60 53h2v1h-2zM70 53h1v1h-1zM4 54h1v1h-1zM16 54h1v1h-1zM37 54h1v1h-1zM61 54h1v1h-1zM63 54h1v1h-1zM0 55h1v1h-1zM56 55h1v1h-1zM59 55h1v1h-1zM66 55h2v1h-2zM72 55h1v1h-1zM45 56h1v1h-1zM60 56h1v1h-1zM32 57h1v1h-1zM67 57h2v1h-2zM54 58h1v1h-1zM72 58h1v1h-1zM44 59h2v1h-2zM63 59h1v1h-1zM35 60h1v1h-1zM39 60h1v1h-1zM41 61h1v1h-1zM59 61h1v1h-1zM73 61h1v1h-1zM32 62h2v1h-2zM49 62h1v1h-1zM60 62h1v1h-1zM69 62h1v1h-1zM17 63h1v1h-1zM19 63h1v1h-1zM29 63h1v1h-1zM32 63h1v1h-1zM41 63h1v1h-1zM60 63h1v1h-1zM0 64h1v1h-1zM45 64h2v1h-2zM56 64h1v1h-1zM59 64h1v1h-1zM61 64h1v1h-1zM65 64h1v1h-1zM1 65h1v1h-1zM60 65h1v1h-1zM64 65h2v1h-2zM15 66h1v1h-1zM49 66h2v1h-2zM53 66h1v1h-1zM11 67h1v1h-1zM19 67h1v1h-1zM34 67h1v1h-1zM45 67h1v1h-1zM49 67h1v1h-1zM59 67h1v1h-1zM37 68h1v1h-1zM57 68h1v1h-1zM63 68h1v1h-1zM65 68h1v1h-1zM0 69h1v1h-1zM25 69h1v1h-1zM51 69h1v1h-1zM55 69h1v1h-1zM17 71h1v1h-1zM21 71h1v1h-1zM23 71h1v1h-1zM68 71h1v1h-1zM17 72h1v1h-1zM51 72h1v1h-1zM0 73h1v1h-1zM35 73h1v1h-1zM39 73h1v1h-1z"/>
<path fill="#0f0f0f" d="M22 0h1v1h-1zM42 0h1v1h-1zM44 2h1v1h-1zM59 2h1v1h-1zM65 2h1v1h-1zM51 3h1v1h-1zM62 3h1v1h-1zM50 4h1v1h-1zM55 4h1v1h-1zM31 5h1v1h-1zM46 5h1v1h-1zM53 5h1v1h-1zM59 5h1v1h-1zM15 6h1v1h-1zM33 6h1v1h-1zM36 6h1v1h-1zM49 6h2v1h-2zM54 6h1v1h-1zM56 6h1v1h-1zM61 6h1v1h-1zM32 7h2v1h-2zM55 7h1v1h-1zM39 8h1v1h-1zM66 8h1v1h-1zM60 9h1v1h-1zM64 10h1v1h-1zM41 11h1v1h-1zM62 11h1v1h-1zM63 12h1v1h-1zM73 12h1v1h-1zM73 13h1v1h-1zM53 14h2v1h-2zM64 14h1v1h-1zM23 15h1v1h-1zM48 15h1v1h-1zM55 15h1v1h-1zM48 16h1v1h-1zM58 16h1v1h-1zM14 17h1v1h-1zM45 17h1v1h-1zM63 17h1v1h-1zM15 18h1v1h-1zM40 18h1v1h-1zM42 18h1v1h-1zM60 18h1v1h-1zM69 18h1v1h-1zM34 19h1v1h-1zM44 19h1v1h-1zM47 19h1v1h-1zM54 19h1v1h-1zM69 19h2v1h-2zM1 20h1v1h-1zM7 20h1v1h-1zM24 20h2v1h-2zM57 20h2v1h-2zM61 20h1v1h-1zM65 20h1v1h-1zM71 20h2v1h-2zM52 21h1v1h-1zM54 21h1v1h-1zM66 21h1v1h-1zM70 21h1v1h-1zM17 22h1v1h-1zM32 22h1v1h-1zM48 22h1v1h-1zM60 22h1v1h-1zM63 22h1v1h-1zM8 23h1v1h-1zM18 23h1v1h-1zM28 23h1v1h-1zM54 23h1v1h-1zM60 23h6v1h-6zM15 24h1v1h-1zM17 24h1v1h-1zM44 24h1v1h-1zM42 25h1v1h-1zM48 25h1v1h-1zM69 25h1v1h-1zM73 25h1v1h-1zM50 26h1v1h-1zM67 26h1v1h-1zM70 26h2v1h-2zM59 27h1v1h-1zM71 28h1v1h-1zM30 29h1v1h-1zM47 29h1v1h-1zM72 29h1v1h-1zM51 30h1v1h-1zM64 30h1v1h-1zM68 30h1v1h-1zM72 30h1v1h-1zM25 31h1v1h-1zM43 31h1v1h-1zM67 33h1v1h-1zM38 34h1v1h-1zM73 34h1v1h-1zM37 35h1v1h-1zM47 35h1v1h-1zM63 35h1v1h-1zM39 36h1v1h-1zM66 36h2v1h-2zM73 36h1v1h-1zM38 37h2v1h-2zM44 37h1v1h-1zM63 37h1v1h-1zM30 38h1v1h-1zM44 38h1v1h-1zM69 38h2v1h-2zM28 39h1v1h-1zM34 39h1v1h-1zM41 39h1v1h-1zM44 39h1v1h-1zM26 40h1v1h-1zM46 40h1v1h-1zM48 40h1v1h-1zM53 40h1v1h-1zM61 40h1v1h-1zM26 41h1v1h-1zM68 41h1v1h-1zM28 42h1v1h-1zM61 43h1v1h-1zM72 43h1v1h-1zM43 44h1v1h-1zM68 44h1v1h-1zM73 44h1v1h-1zM30 45h1v1h-1zM59 45h1v1h-1zM25 46h1v1h-1zM50 46h1v1h-1zM57 46h1v1h-1zM68 46h2v1h-2zM54 47h1v1h-1zM59 47h1v1h-1zM73 47h1v1h-1zM15 48h1v1h-1zM67 48h2v1h-2zM36 49h1v1h-1zM56 49h1v1h-1zM61 49h1v1h-1zM68 49h1v1h-1zM63 50h1v1h-1zM46 51h2v1h-2zM51 51h1v1h-1zM20 52h1v1h-1zM32 52h1v1h-1zM48 52h1v1h-1zM51 52h1v1h-1zM57 52h1v1h-1zM66 52h2v1h-2zM58 53h1v1h-1zM65 53h1v1h-1zM11 54h1v1h-1zM46 54h1v1h-1zM5 55h1v1h-1zM17 55h1v1h-1zM45 55h1v1h-1zM43 56h1v1h-1zM23 57h1v1h-1zM25 58h1v1h-1zM30 58h1v1h-1zM42 58h1v1h-1zM66 58h1v1h-1zM73 58h1v1h-1zM23 59h1v1h-1zM61 59h1v1h-1zM65 59h2v1h-2zM49 60h1v1h-1zM69 60h1v1h-1zM37 61h1v1h-1zM49 61h1v1h-1zM53 61h1v1h-1zM67 61h1v1h-1zM59 62h1v1h-1zM73 62h1v1h-1zM54 63h2v1h-2zM61 63h1v1h-1zM69 63h1v1h-1zM9 64h1v1h-1zM24 64h1v1h-1zM27 64h1v1h-1zM31 64h1v1h-1zM54 64h1v1h-1zM64 64h1v1h-1zM31 65h1v1h-1zM69 65h1v1h-1zM35 66h1v1h-1zM40 66h1v1h-1zM59 66h1v1h-1zM69 66h1v1h-1zM70 67h3v1h-3zM40 68h1v1h-1zM62 68h1v1h-1zM69 69h3v1h-3zM10 71h1v1h-1zM42 71h1v1h-1zM52 71h1v1h-1zM71 72h1v1h-1zM17 73h1v1h-1zM66 73h1v1h-1zM69 73h1v1h-1z"/>
<path fill="#101010" d="M23 0h1v1h-1zM47 1h1v1h-1zM50 1h1v1h-1zM63 1h1v1h-1zM65 1h1v1h-1zM67 1h1v1h-1zM47 2h1v1h-1zM57 2h1v1h-1zM73 3h1v1h-1zM32 4h1v1h-1zM67 4h1v1h-1zM11 5h1v1h-1zM33 5h2v1h-2zM48 6h1v1h-1zM65 6h1v1h-1zM29 7h1v1h-1zM73 9h1v1h-1zM58 10h1v1h-1zM40 11h1v1h-1zM43 11h1v1h-1zM6 12h1v1h-1zM40 12h1v1h-1zM44 12h1v1h-1zM54 12h1v1h-1zM45 13h1v1h-1zM63 13h1v1h-1zM67 13h1v1h-1zM51 14h1v1h-1zM22 15h1v1h-1zM66 15h1v1h-1zM1 17h1v1h-1zM5 18h1v1h-1zM16 18h1v1h-1zM54 18h1v1h-1zM67 18h1v1h-1zM70 18h1v1h-1zM9 19h1v1h-1zM73 19h1v1h-1zM32 20h1v1h-1zM54 20h1v1h-1zM56 21h1v1h-1zM59 21h1v1h-1zM62 21h1v1h-1zM69 21h1v1h-1zM54 22h1v1h-1zM61 22h2v1h-2zM58 23h1v1h-1zM48 24h1v1h-1zM62 24h1v1h-1zM72 24h1v1h-1zM20 25h1v1h-1zM67 25h2v1h-2zM59 26h1v1h-1zM17 27h1v1h-1zM53 27h1v1h-1zM64 27h1v1h-1zM70 27h1v1h-1zM30 28h1v1h-1zM67 28h1v1h-1zM70 28h1v1h-1zM44 29h1v1h-1zM52 29h1v1h-1zM54 29h1v1h-1zM1 30h1v1h-1zM46 30h1v1h-1zM41 31h1v1h-1zM53 32h1v1h-1zM63 32h1v1h-1zM70 34h1v1h-1zM49 35h1v1h-1zM54 35h1v1h-1zM73 35h1v1h-1zM38 36h1v1h-1zM48 36h1v1h-1zM52 36h1v1h-1zM55 36h1v1h-1zM40 37h1v1h-1zM52 37h1v1h-1zM5 38h1v1h-1zM61 38h1v1h-1zM15 39h1v1h-1zM24 39h1v1h-1zM50 39h1v1h-1zM64 39h1v1h-1zM71 39h1v1h-1zM73 39h1v1h-1zM16 40h1v1h-1zM49 40h1v1h-1zM62 40h1v1h-1zM73 40h1v1h-1zM18 41h1v1h-1zM46 41h1v1h-1zM51 41h1v1h-1zM55 41h1v1h-1zM58 41h1v1h-1zM63 42h1v1h-1zM68 43h1v1h-1zM31 44h1v1h-1zM48 44h1v1h-1zM63 44h1v1h-1zM56 45h1v1h-1zM70 46h1v1h-1zM71 47h1v1h-1zM52 48h1v1h-1zM65 48h2v1h-2zM70 48h1v1h-1zM3 49h1v1h-1zM69 49h1v1h-1zM55 50h1v1h-1zM57 50h1v1h-1zM72 50h1v1h-1zM54 51h1v1h-1zM56 51h1v1h-1zM59 51h1v1h-1zM68 51h1v1h-1zM49 52h1v1h-1zM61 52h1v1h-1zM29 53h1v1h-1zM5 54h1v1h-1zM15 54h1v1h-1zM17 54h1v1h-1zM49 54h3v1h-3zM11 55h1v1h-1zM51 55h2v1h-2zM60 55h1v1h-1zM73 55h1v1h-1zM36 56h1v1h-1zM44 56h1v1h-1zM61 56h1v1h-1zM66 56h1v1h-1zM68 56h1v1h-1zM28 57h1v1h-1zM41 57h2v1h-2zM24 58h1v1h-1zM33 58h1v1h-1zM41 58h1v1h-1zM61 58h1v1h-1zM33 59h1v1h-1zM51 59h1v1h-1zM62 61h1v1h-1zM71 61h1v1h-1zM37 62h1v1h-1zM54 62h1v1h-1zM58 62h1v1h-1zM66 62h1v1h-1zM24 63h1v1h-1zM28 63h1v1h-1zM47 63h1v1h-1zM28 64h1v1h-1zM35 64h1v1h-1zM55 64h1v1h-1zM69 64h1v1h-1zM18 65h1v1h-1zM13 66h1v1h-1zM39 66h1v1h-1zM35 67h2v1h-2zM41 67h1v1h-1zM50 67h1v1h-1zM52 67h1v1h-1zM69 67h1v1h-1zM51 68h2v1h-2zM65 69h1v1h-1zM68 69h1v1h-1zM21 70h1v1h-1zM53 70h1v1h-1zM55 71h2v1h-2zM67 71h1v1h-1zM59 72h1v1h-1zM63 72h1v1h-1zM42 73h1v1h-1zM44 73h1v1h-1zM60 73h1v1h-1zM68 73h1v1h-1zM71 73h1v1h-1z"/>
<path fill="#111111" d="M63 0h1v1h-1zM57 1h1v1h-1zM64 1h1v1h-1zM50 2h1v1h-1zM61 2h1v1h-1zM63 2h1v1h-1zM59 3h1v1h-1zM67 3h1v1h-1zM25 5h1v1h-1zM60 5h1v1h-1zM35 6h1v1h-1zM63 6h1v1h-1zM61 7h1v1h-1zM73 8h1v1h-1zM25 9h1v1h-1zM61 9h1v1h-1zM45 10h1v1h-1zM63 10h1v1h-1zM45 11h1v1h-1zM59 11h1v1h-1zM5 12h1v1h-1zM70 13h1v1h-1zM63 14h1v1h-1zM33 15h1v1h-1zM69 15h1v1h-1zM13 16h1v1h-1zM30 16h1v1h-1zM53 16h1v1h-1zM64 16h1v1h-1zM9 17h1v1h-1zM16 17h1v1h-1zM48 17h1v1h-1zM52 17h1v1h-1zM54 17h1v1h-1zM56 17h1v1h-1zM46 18h1v1h-1zM48 18h1v1h-1zM57 18h2v1h-2zM52 19h1v1h-1zM55 19h1v1h-1zM58 19h1v1h-1zM72 19h1v1h-1zM33 20h1v1h-1zM55 20h1v1h-1zM66 20h1v1h-1zM70 20h1v1h-1zM60 21h1v1h-1zM41 25h1v1h-1zM60 25h1v1h-1zM56 27h1v1h-1zM52 28h1v1h-1zM64 29h1v1h-1zM54 30h1v1h-1zM42 32h1v1h-1zM67 32h1v1h-1zM68 33h1v1h-1zM67 34h2v1h-2zM38 35h1v1h-1zM43 35h1v1h-1zM45 35h1v1h-1zM52 35h1v1h-1zM58 35h2v1h-2zM70 35h1v1h-1zM37 36h1v1h-1zM40 36h1v1h-1zM44 36h1v1h-1zM47 36h1v1h-1zM56 36h1v1h-1zM59 37h1v1h-1zM66 37h1v1h-1zM51 38h2v1h-2zM29 39h1v1h-1zM49 39h1v1h-1zM51 39h1v1h-1zM53 39h1v1h-1zM62 39h2v1h-2zM68 39h1v1h-1zM71 40h1v1h-1zM4 41h1v1h-1zM44 41h1v1h-1zM50 41h1v1h-1zM53 41h1v1h-1zM73 41h1v1h-1zM51 42h1v1h-1zM70 42h2v1h-2zM5 43h1v1h-1zM10 43h1v1h-1zM44 43h1v1h-1zM40 44h1v1h-1zM0 45h1v1h-1zM67 45h1v1h-1zM71 45h1v1h-1zM48 46h1v1h-1zM63 46h1v1h-1zM48 47h1v1h-1zM53 47h1v1h-1zM68 47h1v1h-1zM21 48h1v1h-1zM53 48h1v1h-1zM58 48h1v1h-1zM64 48h1v1h-1zM58 49h2v1h-2zM63 49h1v1h-1zM58 50h1v1h-1zM68 50h1v1h-1zM20 51h1v1h-1zM72 51h1v1h-1zM42 52h1v1h-1zM17 53h1v1h-1zM45 54h1v1h-1zM71 54h1v1h-1zM61 55h1v1h-1zM0 56h1v1h-1zM67 56h1v1h-1zM25 57h1v1h-1zM55 57h1v1h-1zM58 57h1v1h-1zM23 58h1v1h-1zM45 58h1v1h-1zM49 58h1v1h-1zM64 58h1v1h-1zM32 59h1v1h-1zM49 59h1v1h-1zM58 60h1v1h-1zM62 60h1v1h-1zM64 60h1v1h-1zM26 63h1v1h-1zM59 63h1v1h-1zM36 65h1v1h-1zM38 65h1v1h-1zM54 65h1v1h-1zM70 66h1v1h-1zM73 66h1v1h-1zM49 68h1v1h-1zM64 68h1v1h-1zM67 69h1v1h-1zM72 69h1v1h-1zM55 70h1v1h-1zM57 70h1v1h-1zM67 70h1v1h-1zM42 72h1v1h-1zM57 72h1v1h-1zM31 73h1v1h-1zM34 73h1v1h-1zM63 73h1v1h-1zM70 73h1v1h-1zM73 73h1v1h-1z"/>
<path fill="#121212" d="M48 1h1v1h-1zM52 2h1v1h-1zM58 2h1v1h-1zM67 2h1v1h-1zM58 3h1v1h-1zM55 5h1v1h-1zM64 5h1v1h-1zM11 6h1v1h-1zM60 6h1v1h-1zM64 6h1v1h-1zM60 7h1v1h-1zM60 8h2v1h-2zM25 10h1v1h-1zM5 11h1v1h-1zM44 11h1v1h-1zM56 11h1v1h-1zM2 12h1v1h-1zM56 12h1v1h-1zM32 15h1v1h-1zM67 15h1v1h-1zM55 16h1v1h-1zM41 18h1v1h-1zM47 18h1v1h-1zM51 18h2v1h-2zM59 18h1v1h-1zM71 18h1v1h-1zM14 19h1v1h-1zM67 19h1v1h-1zM71 19h1v1h-1zM52 20h1v1h-1zM63 20h1v1h-1zM67 20h1v1h-1zM53 21h1v1h-1zM65 21h1v1h-1zM53 22h1v1h-1zM64 22h2v1h-2zM60 24h1v1h-1zM21 25h1v1h-1zM68 26h1v1h-1zM73 27h1v1h-1zM57 28h1v1h-1zM28 29h1v1h-1zM46 29h1v1h-1zM51 29h1v1h-1zM67 29h1v1h-1zM25 30h1v1h-1zM64 33h2v1h-2zM44 35h1v1h-1zM50 35h1v1h-1zM55 35h1v1h-1zM65 35h1v1h-1zM29 38h1v1h-1zM62 38h1v1h-1zM70 39h1v1h-1zM72 39h1v1h-1zM25 40h1v1h-1zM35 40h1v1h-1zM45 40h1v1h-1zM50 40h1v1h-1zM56 40h3v1h-3zM47 41h1v1h-1zM52 41h1v1h-1zM69 41h1v1h-1zM54 42h1v1h-1zM73 42h1v1h-1zM40 43h1v1h-1zM54 43h1v1h-1zM3 44h1v1h-1zM21 44h1v1h-1zM30 44h1v1h-1zM69 44h1v1h-1zM71 44h1v1h-1zM49 45h1v1h-1zM68 45h1v1h-1zM38 46h2v1h-2zM54 46h1v1h-1zM59 46h1v1h-1zM71 46h1v1h-1zM6 47h1v1h-1zM20 47h1v1h-1zM69 47h2v1h-2zM72 47h1v1h-1zM69 48h1v1h-1zM42 51h1v1h-1zM14 52h1v1h-1zM43 52h1v1h-1zM59 52h1v1h-1zM72 52h1v1h-1zM52 53h1v1h-1zM31 55h1v1h-1zM57 56h1v1h-1zM72 56h1v1h-1zM24 57h1v1h-1zM73 57h1v1h-1zM31 58h1v1h-1zM50 58h1v1h-1zM55 58h1v1h-1zM58 58h1v1h-1zM40 59h1v1h-1zM50 59h1v1h-1zM57 59h1v1h-1zM67 59h1v1h-1zM63 60h1v1h-1zM71 60h1v1h-1zM73 60h1v1h-1zM46 61h1v1h-1zM46 62h1v1h-1zM70 62h1v1h-1zM8 63h1v1h-1zM25 63h1v1h-1zM48 63h1v1h-1zM0 68h1v1h-1zM15 68h1v1h-1zM41 68h1v1h-1zM50 68h1v1h-1zM71 68h1v1h-1zM54 71h1v1h-1zM69 71h2v1h-2zM58 72h1v1h-1zM60 72h1v1h-1zM41 73h1v1h-1zM67 73h1v1h-1z"/>
<path fill="#131313" d="M35 0h1v1h-1zM60 0h1v1h-1zM64 2h1v1h-1zM54 5h1v1h-1zM63 5h1v1h-1zM12 6h1v1h-1zM55 6h1v1h-1zM11 8h1v1h-1zM55 11h1v1h-1zM46 12h1v1h-1zM68 13h1v1h-1zM67 14h1v1h-1zM70 14h1v1h-1zM53 15h1v1h-1zM61 15h1v1h-1zM64 15h1v1h-1zM36 17h1v1h-1zM51 17h1v1h-1zM69 17h1v1h-1zM14 18h1v1h-1zM55 18h1v1h-1zM10 19h1v1h-1zM53 19h1v1h-1zM59 19h1v1h-1zM56 20h1v1h-1zM68 20h2v1h-2zM49 21h1v1h-1zM49 22h1v1h-1zM44 25h1v1h-1zM42 26h1v1h-1zM49 26h1v1h-1zM16 27h1v1h-1zM55 27h1v1h-1zM69 27h1v1h-1zM47 30h1v1h-1zM48 31h1v1h-1zM30 32h1v1h-1zM51 34h1v1h-1zM64 34h1v1h-1zM66 34h1v1h-1zM42 35h1v1h-1zM51 35h1v1h-1zM62 35h1v1h-1zM66 35h1v1h-1zM71 35h1v1h-1zM59 36h1v1h-1zM62 37h1v1h-1zM63 38h1v1h-1zM64 40h1v1h-1zM68 40h1v1h-1zM70 40h1v1h-1zM72 40h1v1h-1zM20 41h1v1h-1zM35 41h1v1h-1zM71 41h1v1h-1zM44 42h1v1h-1zM21 43h1v1h-1zM49 44h1v1h-1zM38 45h1v1h-1zM49 46h1v1h-1zM65 49h1v1h-1zM66 50h1v1h-1zM13 51h1v1h-1zM67 51h1v1h-1zM30 52h1v1h-1zM58 52h1v1h-1zM60 52h1v1h-1zM16 53h1v1h-1zM51 53h1v1h-1zM68 55h1v1h-1zM73 56h1v1h-1zM72 57h1v1h-1zM32 58h1v1h-1zM67 58h2v1h-2zM47 60h1v1h-1zM54 60h1v1h-1zM56 60h2v1h-2zM57 61h1v1h-1zM41 62h1v1h-1zM53 62h1v1h-1zM68 62h1v1h-1zM72 62h1v1h-1zM34 63h1v1h-1zM26 64h1v1h-1zM19 66h1v1h-1zM13 67h1v1h-1zM40 67h1v1h-1zM58 68h1v1h-1zM69 68h1v1h-1zM64 69h1v1h-1zM73 69h1v1h-1zM56 70h1v1h-1zM58 71h1v1h-1zM66 72h1v1h-1z"/>
<path fill="#141414" d="M34 0h1v1h-1zM53 3h1v1h-1zM59 4h1v1h-1zM28 5h1v1h-1zM32 5h1v1h-1zM13 7h1v1h-1zM55 12h1v1h-1zM68 14h1v1h-1zM12 16h1v1h-1zM69 16h1v1h-1zM68 17h1v1h-1zM9 18h1v1h-1zM34 18h1v1h-1zM56 18h1v1h-1zM53 20h1v1h-1zM60 20h1v1h-1zM63 21h1v1h-1zM33 22h1v1h-1zM17 23h1v1h-1zM41 26h1v1h-1zM58 28h1v1h-1zM71 29h1v1h-1zM50 30h1v1h-1zM42 31h1v1h-1zM47 32h1v1h-1zM60 37h1v1h-1zM24 38h1v1h-1zM44 40h1v1h-1zM56 41h2v1h-2zM70 41h1v1h-1zM72 41h1v1h-1zM43 42h1v1h-1zM72 42h1v1h-1zM63 43h1v1h-1zM71 43h1v1h-1zM62 44h1v1h-1zM64 49h1v1h-1zM71 52h1v1h-1zM33 53h1v1h-1zM71 53h1v1h-1zM52 54h1v1h-1zM71 55h1v1h-1zM56 59h1v1h-1zM64 59h1v1h-1zM55 60h1v1h-1zM69 61h1v1h-1zM9 63h1v1h-1zM70 63h1v1h-1zM16 67h1v1h-1zM39 67h1v1h-1zM53 68h1v1h-1zM72 68h1v1h-1zM52 69h2v1h-2zM52 70h1v1h-1zM57 71h1v1h-1zM66 71h1v1h-1zM62 72h1v1h-1z"/>
<path fill="#151515" d="M60 1h1v1h-1zM62 2h1v1h-1zM63 3h1v1h-1zM65 3h1v1h-1zM11 7h1v1h-1zM13 8h1v1h-1zM62 9h1v1h-1zM45 12h1v1h-1zM69 13h1v1h-1zM65 14h1v1h-1zM54 16h1v1h-1zM68 18h1v1h-1zM68 19h1v1h-1zM73 20h1v1h-1zM50 24h1v1h-1zM50 25h1v1h-1zM60 26h1v1h-1zM60 27h1v1h-1zM68 27h1v1h-1zM54 31h1v1h-1zM63 31h1v1h-1zM58 36h1v1h-1zM41 38h1v1h-1zM55 39h1v1h-1zM69 39h1v1h-1zM54 40h1v1h-1zM39 41h1v1h-1zM17 42h1v1h-1zM62 43h1v1h-1zM38 44h1v1h-1zM2 45h1v1h-1zM59 48h1v1h-1zM66 49h2v1h-2zM15 51h1v1h-1zM57 51h2v1h-2zM43 53h1v1h-1zM30 54h1v1h-1zM57 55h1v1h-1zM36 58h1v1h-1zM54 59h1v1h-1zM48 60h1v1h-1zM58 61h1v1h-1zM70 61h1v1h-1zM36 63h1v1h-1zM25 64h1v1h-1zM36 66h1v1h-1zM14 67h1v1h-1zM17 67h1v1h-1zM53 67h1v1h-1zM70 68h1v1h-1zM62 71h1v1h-1zM67 72h3v1h-3z"/>
<path fill="#161616" d="M61 0h1v1h-1zM36 13h1v1h-1zM34 14h1v1h-1zM66 14h1v1h-1zM54 15h1v1h-1zM60 15h1v1h-1zM55 17h1v1h-1zM56 19h2v1h-2zM64 20h1v1h-1zM55 29h1v1h-1zM57 36h1v1h-1zM62 36h1v1h-1zM26 38h1v1h-1zM42 38h1v1h-1zM42 42h1v1h-1zM69 43h1v1h-1zM73 45h1v1h-1zM72 46h1v1h-1zM56 50h1v1h-1zM67 50h1v1h-1zM42 53h1v1h-1zM58 56h1v1h-1zM71 62h1v1h-1zM68 65h1v1h-1zM38 66h1v1h-1zM18 67h1v1h-1zM37 67h1v1h-1zM62 69h1v1h-1zM62 73h1v1h-1z"/>
<path fill="#171717" d="M52 0h1v1h-1zM62 0h1v1h-1zM61 1h1v1h-1zM56 3h1v1h-1zM66 5h1v1h-1zM26 9h1v1h-1zM61 11h1v1h-1zM69 14h1v1h-1zM65 15h1v1h-1zM68 15h1v1h-1zM59 20h1v1h-1zM33 21h1v1h-1zM61 24h1v1h-1zM49 25h1v1h-1zM45 29h1v1h-1zM54 39h1v1h-1zM55 40h1v1h-1zM69 40h1v1h-1zM42 43h2v1h-2zM39 45h1v1h-1zM15 53h1v1h-1zM33 54h1v1h-1zM38 55h1v1h-1zM58 55h1v1h-1zM40 56h1v1h-1zM55 59h1v1h-1zM69 59h1v1h-1zM70 60h1v1h-1zM38 67h1v1h-1zM61 68h1v1h-1zM73 68h1v1h-1zM70 72h1v1h-1z"/>
<path fill="#181818" d="M59 1h1v1h-1zM62 1h1v1h-1zM64 3h1v1h-1zM66 3h1v1h-1zM65 5h1v1h-1zM62 12h1v1h-1zM10 17h1v1h-1zM34 17h1v1h-1zM11 19h3v1h-3zM64 21h1v1h-1zM49 24h1v1h-1zM47 31h1v1h-1zM49 31h1v1h-1zM62 34h1v1h-1zM43 36h1v1h-1zM60 36h1v1h-1zM73 50h1v1h-1zM15 52h1v1h-1zM31 52h1v1h-1zM70 52h1v1h-1zM73 52h1v1h-1zM36 57h1v1h-1zM71 58h1v1h-1zM71 59h1v1h-1zM37 65h1v1h-1zM18 66h1v1h-1zM15 67h1v1h-1zM59 68h1v1h-1zM61 73h1v1h-1z"/>
<path fill="#191919" d="M60 11h1v1h-1zM35 17h1v1h-1zM64 28h1v1h-1zM63 30h1v1h-1zM48 33h1v1h-1zM65 34h1v1h-1zM43 37h1v1h-1zM61 37h1v1h-1zM38 41h1v1h-1zM37 43h1v1h-1zM6 44h1v1h-1zM70 44h1v1h-1zM37 55h1v1h-1zM69 55h2v1h-2zM48 62h1v1h-1zM70 65h1v1h-1z"/>
<path fill="#1a1a1a" d="M63 4h1v1h-1zM62 7h1v1h-1zM65 7h1v1h-1zM27 9h1v1h-1zM59 14h1v1h-1zM68 16h1v1h-1zM56 35h2v1h-2zM60 35h2v1h-2zM39 44h1v1h-1zM73 46h1v1h-1zM14 51h1v1h-1zM30 53h1v1h-1zM67 62h1v1h-1zM70 64h1v1h-1zM66 65h1v1h-1zM61 72h1v1h-1z"/>
<path fill="#1b1b1b" d="M10 18h1v1h-1zM30 18h1v1h-1zM56 29h1v1h-1zM49 34h1v1h-1zM25 38h1v1h-1zM70 43h1v1h-1zM3 46h1v1h-1zM4 47h1v1h-1zM62 70h1v1h-1z"/>
<path fill="#1c1c1c" d="M64 4h1v1h-1zM12 8h1v1h-1zM59 28h1v1h-1zM50 31h1v1h-1zM48 32h1v1h-1zM50 34h1v1h-1zM19 41h1v1h-1zM17 46h1v1h-1zM5 47h1v1h-1zM73 51h1v1h-1zM71 57h1v1h-1zM34 61h1v1h-1zM58 69h1v1h-1z"/>
<path fill="#1d1d1d" d="M12 7h1v1h-1zM62 14h1v1h-1zM25 39h2v1h-2zM37 42h1v1h-1zM71 56h1v1h-1zM36 61h1v1h-1zM58 70h1v1h-1z"/>
<path fill="#1e1e1e" d="M62 8h1v1h-1zM65 9h1v1h-1zM59 12h1v1h-1zM36 14h1v1h-1zM30 17h1v1h-1zM51 32h1v1h-1zM61 36h1v1h-1zM32 53h1v1h-1zM32 54h1v1h-1zM48 61h1v1h-1zM66 63h1v1h-1zM37 66h1v1h-1zM60 68h1v1h-1z"/>
<path fill="#1f1f1f" d="M52 1h1v1h-1zM65 4h1v1h-1zM51 33h1v1h-1zM54 33h1v1h-1zM31 54h1v1h-1zM69 56h1v1h-1zM34 62h1v1h-1zM35 63h1v1h-1z"/>
<path fill="#202020" d="M66 4h1v1h-1zM36 16h1v1h-1zM18 47h1v1h-1zM47 62h1v1h-1zM68 63h1v1h-1zM71 66h1v1h-1z"/>
<path fill="#212121" d="M62 13h1v1h-1zM63 26h1v1h-1zM69 58h1v1h-1zM37 59h1v1h-1zM67 65h1v1h-1z"/>
<path fill="#222222" d="M41 36h1v1h-1zM31 53h1v1h-1zM69 57h1v1h-1zM70 59h1v1h-1zM47 61h1v1h-1z"/>
<path fill="#232323" d="M35 14h1v1h-1zM13 17h1v1h-1zM31 19h1v1h-1zM33 19h1v1h-1zM62 25h1v1h-1zM60 28h1v1h-1z"/>
<path fill="#242424" d="M55 30h1v1h-1zM6 46h1v1h-1zM19 47h1v1h-1zM72 66h1v1h-1z"/>
<path fill="#252525" d="M11 17h1v1h-1zM63 29h1v1h-1zM41 37h1v1h-1zM39 43h1v1h-1zM68 64h1v1h-1zM59 71h1v1h-1z"/>
<path fill="#262626" d="M65 8h1v1h-1zM59 13h1v1h-1zM36 15h1v1h-1zM3 45h1v1h-1zM70 56h1v1h-1zM40 58h1v1h-1z"/>
<path fill="#272727" d="M25 8h1v1h-1zM33 16h1v1h-1zM61 28h1v1h-1zM54 32h1v1h-1zM39 42h1v1h-1z"/>
<path fill="#282828" d="M26 5h1v1h-1zM31 16h1v1h-1zM13 18h1v1h-1zM42 36h1v1h-1zM70 57h1v1h-1zM70 58h1v1h-1zM36 62h1v1h-1zM73 63h1v1h-1z"/>
<path fill="#292929" d="M63 9h1v1h-1zM38 43h1v1h-1z"/>
<path fill="#2a2a2a" d="M11 18h1v1h-1zM61 25h1v1h-1zM62 29h1v1h-1zM35 61h1v1h-1zM61 71h1v1h-1z"/>
<path fill="#2b2b2b" d="M34 15h1v1h-1zM34 16h1v1h-1zM17 45h1v1h-1zM66 64h1v1h-1z"/>
<path fill="#2c2c2c" d="M64 9h1v1h-1zM12 17h1v1h-1zM49 32h1v1h-1zM20 42h1v1h-1zM40 57h1v1h-1z"/>
<path fill="#2d2d2d" d="M27 5h1v1h-1zM62 33h1v1h-1zM17 43h1v1h-1zM4 44h1v1h-1z"/>
<path fill="#2e2e2e" d="M17 44h1v1h-1zM6 45h1v1h-1z"/>
<path fill="#2f2f2f" d="M54 3h1v1h-1zM64 7h1v1h-1z"/>
<path fill="#303030" d="M58 34h1v1h-1zM42 37h1v1h-1zM71 63h1v1h-1z"/>
<path fill="#313131" d="M25 6h1v1h-1zM63 7h1v1h-1zM50 32h1v1h-1zM49 33h1v1h-1z"/>
<path fill="#323232" d="M55 3h1v1h-1zM12 18h1v1h-1zM38 42h1v1h-1z"/>
<path fill="#333333" d="M39 59h1v1h-1zM67 63h1v1h-1z"/>
<path fill="#343434" d="M55 34h1v1h-1zM5 44h1v1h-1zM37 56h1v1h-1zM35 62h1v1h-1z"/>
<path fill="#353535" d="M62 30h1v1h-1zM73 65h1v1h-1z"/>
<path fill="#363636" d="M61 12h1v1h-1zM61 14h1v1h-1zM62 32h1v1h-1z"/>
<path fill="#373737" d="M32 19h1v1h-1zM50 33h1v1h-1z"/>
<path fill="#393939" d="M62 31h1v1h-1zM61 69h1v1h-1z"/>
<path fill="#3a3a3a" d="M60 14h1v1h-1zM20 46h1v1h-1z"/>
<path fill="#3b3b3b" d="M56 2h1v1h-1zM60 71h1v1h-1z"/>
<path fill="#3c3c3c" d="M60 12h1v1h-1zM59 34h1v1h-1zM59 69h1v1h-1z"/>
<path fill="#3d3d3d" d="M32 16h1v1h-1zM35 16h1v1h-1zM61 27h1v1h-1z"/>
<path fill="#3e3e3e" d="M28 8h1v1h-1zM67 64h1v1h-1z"/>
<path fill="#3f3f3f" d="M56 0h1v1h-1z"/>
<path fill="#404040" d="M25 7h1v1h-1zM38 59h1v1h-1z"/>
<path fill="#414141" d="M72 63h1v1h-1z"/>
<path fill="#424242" d="M63 8h1v1h-1zM61 34h1v1h-1zM39 56h1v1h-1z"/>
<path fill="#434343" d="M35 15h1v1h-1z"/>
<path fill="#444444" d="M64 8h1v1h-1zM57 34h1v1h-1z"/>
<path fill="#454545" d="M73 64h1v1h-1z"/>
<path fill="#464646" d="M61 26h1v1h-1zM57 29h1v1h-1zM61 70h1v1h-1z"/>
<path fill="#474747" d="M63 27h1v1h-1z"/>
<path fill="#484848" d="M62 28h2v1h-2z"/>
<path fill="#4a4a4a" d="M28 6h1v1h-1zM71 65h1v1h-1z"/>
<path fill="#4b4b4b" d="M61 29h1v1h-1zM59 70h1v1h-1z"/>
<path fill="#4c4c4c" d="M33 17h1v1h-1zM55 31h1v1h-1z"/>
<path fill="#4f4f4f" d="M33 18h1v1h-1z"/>
<path fill="#505050" d="M18 42h1v1h-1z"/>
<path fill="#515151" d="M61 13h1v1h-1z"/>
<path fill="#525252" d="M4 46h1v1h-1z"/>
<path fill="#545454" d="M60 34h1v1h-1z"/>
<path fill="#555555" d="M56 34h1v1h-1zM20 43h1v1h-1z"/>
<path fill="#565656" d="M53 2h1v1h-1zM60 13h1v1h-1z"/>
<path fill="#575757" d="M5 46h1v1h-1zM71 64h1v1h-1z"/>
<path fill="#585858" d="M20 45h1v1h-1zM60 69h1v1h-1z"/>
<path fill="#5b5b5b" d="M62 26h1v1h-1zM20 44h1v1h-1z"/>
<path fill="#5c5c5c" d="M56 30h1v1h-1zM37 58h1v1h-1z"/>
<path fill="#5d5d5d" d="M53 0h1v1h-1zM56 1h1v1h-1z"/>
<path fill="#5e5e5e" d="M38 56h1v1h-1z"/>
<path fill="#5f5f5f" d="M31 18h1v1h-1z"/>
<path fill="#606060" d="M18 46h1v1h-1z"/>
<path fill="#646464" d="M72 65h1v1h-1z"/>
<path fill="#656565" d="M31 17h1v1h-1zM4 45h1v1h-1z"/>
<path fill="#686868" d="M37 57h1v1h-1z"/>
<path fill="#696969" d="M19 42h1v1h-1z"/>
<path fill="#6c6c6c" d="M26 8h1v1h-1z"/>
<path fill="#707070" d="M5 45h1v1h-1z"/>
<path fill="#737373" d="M28 7h1v1h-1zM60 70h1v1h-1z"/>
<path fill="#787878" d="M62 27h1v1h-1z"/>
<path fill="#7a7a7a" d="M19 46h1v1h-1z"/>
<path fill="#7d7d7d" d="M72 64h1v1h-1z"/>
<path fill="#838383" d="M27 8h1v1h-1zM58 29h1v1h-1z"/>
<path fill="#858585" d="M55 33h1v1h-1z"/>
<path fill="#898989" d="M60 29h1v1h-1z"/>
<path fill="#8a8a8a" d="M39 58h1v1h-1z"/>
<path fill="#8b8b8b" d="M26 6h1v1h-1zM32 18h1v1h-1z"/>
<path fill="#8e8e8e" d="M53 1h1v1h-1z"/>
<path fill="#8f8f8f" d="M32 17h1v1h-1z"/>
<path fill="#929292" d="M55 32h1v1h-1z"/>
<path fill="#959595" d="M18 43h1v1h-1z"/>
<path fill="#979797" d="M61 33h1v1h-1z"/>
<path fill="#989898" d="M18 45h1v1h-1z"/>
<path fill="#9b9b9b" d="M18 44h1v1h-1zM39 57h1v1h-1z"/>
<path fill="#9e9e9e" d="M61 30h1v1h-1z"/>
<path fill="#a6a6a6" d="M27 6h1v1h-1zM59 29h1v1h-1z"/>
<path fill="#ababab" d="M55 0h1v1h-1z"/>
<path fill="#b2b2b2" d="M61 32h1v1h-1z"/>
<path fill="#b3b3b3" d="M55 2h1v1h-1z"/>
<path fill="#b8b8b8" d="M61 31h1v1h-1zM38 58h1v1h-1z"/>
<path fill="#bdbdbd" d="M19 43h1v1h-1z"/>
<path fill="#c2c2c2" d="M58 33h1v1h-1zM19 45h1v1h-1z"/>
<path fill="#c3c3c3" d="M54 0h1v1h-1zM19 44h1v1h-1z"/>
<path fill="#c8c8c8" d="M59 33h1v1h-1z"/>
<path fill="#c9c9c9" d="M54 2h1v1h-1z"/>
<path fill="#cdcdcd" d="M26 7h1v1h-1z"/>
<path fill="#d0d0d0" d="M38 57h1v1h-1z"/>
<path fill="#d3d3d3" d="M56 31h1v1h-1z"/>
<path fill="#dbdbdb" d="M60 33h1v1h-1z"/>
<path fill="#e4e4e4" d="M57 33h1v1h-1z"/>
<path fill="#e7e7e7" d="M57 30h1v1h-1z"/>
<path fill="#ececec" d="M56 33h1v1h-1z"/>
<path fill="#fcfcfc" d="M27 7h1v1h-1z"/>
<path fill="#ffffff" d="M54 1h2v1h-2zM58 30h3v1h-3zM57 31h4v1h-4zM56 32h5v1h-5z"/>
</g></g>
<defs><linearGradient id="gr" x1="0" y1="1" x2="0" y2="0"><stop offset="0" stop-color="#000"/><stop offset="1" stop-color="#fff"/></linearGradient></defs>
<rect x="91.5" y="32.4" width="280" height="280" fill="none" stroke="#000" stroke-width="1.2"/>
<path d="M229.33 170.28L237.67 178.62M229.33 178.62L237.67 170.28" stroke="#f00" stroke-width="1.39" fill="none"/>
<path d="M178.33 215.33L186.67 223.67M178.33 223.67L186.67 215.33" stroke="#00f" stroke-width="1.39" fill="none"/>
<line x1="148.8" y1="32.3" x2="146.7" y2="27.4" stroke="#000" stroke-width="1.35"/>
<line x1="256.1" y1="32.3" x2="254.2" y2="27.4" stroke="#000" stroke-width="1.35"/>
<line x1="363.6" y1="32.3" x2="361.6" y2="27.4" stroke="#000" stroke-width="1.35"/>
<line x1="196.5" y1="31.6" x2="192" y2="31" stroke="#000" stroke-width="1.35"/>
<line x1="128.9" y1="312.5" x2="131" y2="317.4" stroke="#000" stroke-width="1.35"/>
<line x1="234.5" y1="312.5" x2="236.5" y2="317.4" stroke="#000" stroke-width="1.35"/>
<line x1="339.9" y1="312.5" x2="342" y2="317.4" stroke="#000" stroke-width="1.35"/>
<line x1="217" y1="313.2" x2="221.5" y2="313.9" stroke="#000" stroke-width="1.35"/>
<line x1="91.4" y1="59" x2="86.5" y2="60.9" stroke="#000" stroke-width="1.35"/>
<line x1="91.4" y1="131.2" x2="86.5" y2="132.8" stroke="#000" stroke-width="1.35"/>
<line x1="91.4" y1="202.8" x2="86.4" y2="204.1" stroke="#000" stroke-width="1.35"/>
<line x1="91.4" y1="275" x2="86.4" y2="276.2" stroke="#000" stroke-width="1.35"/>
<line x1="91.5" y1="197.7" x2="89.6" y2="194.3" stroke="#000" stroke-width="1.35"/>
<line x1="371.6" y1="57.1" x2="376.7" y2="55.5" stroke="#000" stroke-width="1.35"/>
<line x1="371.6" y1="128" x2="376.7" y2="126.4" stroke="#000" stroke-width="1.35"/>
<line x1="371.6" y1="200.1" x2="376.6" y2="198.5" stroke="#000" stroke-width="1.35"/>
<line x1="371.6" y1="272.2" x2="376.6" y2="270.6" stroke="#000" stroke-width="1.35"/>
<line x1="371.5" y1="60" x2="373.3" y2="64.6" stroke="#000" stroke-width="1.35"/>
<text class="t w" x="81.6" y="62.9" text-anchor="end">-33°15'</text>
<text class="t w" x="80.4" y="135.8" text-anchor="end">30'</text>
<text class="t w" x="81.2" y="207.3" text-anchor="end">45'</text>
<text class="t w" x="81.8" y="279.6" text-anchor="end">-34°00'</text>
<text class="t" x="21.4" y="174.9" text-anchor="middle" transform="rotate(-90 21.4 174.9)">Dec</text>
<text class="T" transform="translate(231.5 23.8) scale(1 1.05)" text-anchor="middle">Filter</text>
<rect x="380.4" y="32.4" width="9.200000000000045" height="280.0" fill="url(#gr)" stroke="#000" stroke-width="1.11"/>
<line x1="390.1" y1="70.5" x2="394.96" y2="70.5" stroke="#000" stroke-width="1.11"/>
<text class="t n" x="400.2" y="75.6" text-anchor="start">0.5</text>
<line x1="390.1" y1="124.5" x2="394.96" y2="124.5" stroke="#000" stroke-width="1.11"/>
<text class="t n" x="400.2" y="129.6" text-anchor="start">0.4</text>
<line x1="390.1" y1="178.5" x2="394.96" y2="178.5" stroke="#000" stroke-width="1.11"/>
<text class="t n" x="400.2" y="183.6" text-anchor="start">0.3</text>
<line x1="390.1" y1="232.5" x2="394.96" y2="232.5" stroke="#000" stroke-width="1.11"/>
<text class="t n" x="400.2" y="237.6" text-anchor="start">0.2</text>
<line x1="390.1" y1="286.5" x2="394.96" y2="286.5" stroke="#000" stroke-width="1.11"/>
<text class="t n" x="400.2" y="291.6" text-anchor="start">0.1</text>
<text class="t" x="435.6" y="173" text-anchor="middle" transform="rotate(-90 435.6 173)">arbitrary units</text>
<rect x="91.5" y="365" width="280" height="280.45" fill="none" stroke="#000" stroke-width="1.2"/>
<path d="M228.03 500.13L236.37 508.47M228.03 508.47L236.37 500.13" stroke="#f00" stroke-width="1.39" fill="none"/>
<path d="M157.23 531.43L165.57 539.77M157.23 539.77L165.57 531.43" stroke="#00f" stroke-width="1.39" fill="none"/>
<line x1="126.6" y1="365" x2="126.6" y2="359.6" stroke="#000" stroke-width="1.0"/>
<line x1="185.5" y1="365" x2="185.5" y2="359.6" stroke="#000" stroke-width="1.0"/>
<line x1="243.5" y1="365" x2="243.5" y2="359.6" stroke="#000" stroke-width="1.0"/>
<line x1="302.4" y1="365" x2="302.4" y2="359.6" stroke="#000" stroke-width="1.0"/>
<line x1="360.6" y1="365" x2="360.6" y2="359.6" stroke="#000" stroke-width="1.0"/>
<line x1="128.2" y1="645.45" x2="128.2" y2="650.85" stroke="#000" stroke-width="1.0"/>
<line x1="185.6" y1="645.45" x2="185.6" y2="650.85" stroke="#000" stroke-width="1.0"/>
<line x1="243.4" y1="645.45" x2="243.4" y2="650.85" stroke="#000" stroke-width="1.0"/>
<line x1="301.6" y1="645.45" x2="301.6" y2="650.85" stroke="#000" stroke-width="1.0"/>
<line x1="359.3" y1="645.45" x2="359.3" y2="650.85" stroke="#000" stroke-width="1.0"/>
<line x1="91.5" y1="426.4" x2="86.1" y2="426.4" stroke="#000" stroke-width="1.0"/>
<line x1="371.5" y1="426.4" x2="376.9" y2="426.4" stroke="#000" stroke-width="1.0"/>
<line x1="91.5" y1="496.3" x2="86.1" y2="496.3" stroke="#000" stroke-width="1.0"/>
<line x1="371.5" y1="496.3" x2="376.9" y2="496.3" stroke="#000" stroke-width="1.0"/>
<line x1="91.5" y1="566.5" x2="86.1" y2="566.5" stroke="#000" stroke-width="1.0"/>
<line x1="371.5" y1="566.5" x2="376.9" y2="566.5" stroke="#000" stroke-width="1.0"/>
<line x1="91.5" y1="636.3" x2="86.1" y2="636.3" stroke="#000" stroke-width="1.0"/>
<line x1="371.5" y1="636.3" x2="376.9" y2="636.3" stroke="#000" stroke-width="1.0"/>
<text class="t w" x="81.2" y="430" text-anchor="end">-33°30'</text>
<text class="t w" x="80.9" y="500.1" text-anchor="end">45'</text>
<text class="t w" x="81.4" y="570.3" text-anchor="end">-34°00'</text>
<text class="t w" x="80.9" y="640.1" text-anchor="end">15'</text>
<text class="t" x="21.4" y="507" text-anchor="middle" transform="rotate(-90 21.4 507)">Dec</text>
<text class="T" transform="translate(231.5 355.8) scale(1 1.05)" text-anchor="middle">GLEAM</text>
<text class="t" x="127.9" y="664.8" text-anchor="middle">10<tspan class="s" dy="-4.5" dx="0.3">h</tspan><tspan dy="4.5">25</tspan><tspan class="s" dy="-4.5" dx="-0.4">m</tspan></text>
<text class="t" x="185.6" y="664.8" text-anchor="middle">24<tspan class="s" dy="-4.5" dx="-0.4">m</tspan></text>
<text class="t" x="243.4" y="664.8" text-anchor="middle">23<tspan class="s" dy="-4.5" dx="-0.4">m</tspan></text>
<text class="t" x="301.8" y="664.8" text-anchor="middle">22<tspan class="s" dy="-4.5" dx="-0.4">m</tspan></text>
<text class="t" x="360" y="664.8" text-anchor="middle">21<tspan class="s" dy="-4.5" dx="-0.4">m</tspan></text>
<text class="t" x="232.1" y="685.6" text-anchor="middle">RA</text>
<rect x="380.4" y="365.0" width="9.200000000000045" height="280.45000000000005" fill="url(#gr)" stroke="#000" stroke-width="1.11"/>
<line x1="390.1" y1="417.5" x2="394.96" y2="417.5" stroke="#000" stroke-width="1.11"/>
<text class="t n" x="399.1" y="422.6" text-anchor="start">80</text>
<line x1="390.1" y1="471.5" x2="394.96" y2="471.5" stroke="#000" stroke-width="1.11"/>
<text class="t n" x="399.1" y="476.6" text-anchor="start">60</text>
<line x1="390.1" y1="524.5" x2="394.96" y2="524.5" stroke="#000" stroke-width="1.11"/>
<text class="t n" x="399.1" y="529.6" text-anchor="start">40</text>
<line x1="390.1" y1="578.5" x2="394.96" y2="578.5" stroke="#000" stroke-width="1.11"/>
<text class="t n" x="399.1" y="583.6" text-anchor="start">20</text>
<line x1="390.1" y1="631.5" x2="394.96" y2="631.5" stroke="#000" stroke-width="1.11"/>
<text class="t n" x="399.1" y="636.6" text-anchor="start">0</text>
<text class="t" x="432" y="505.2" text-anchor="middle" transform="rotate(-90 432 505.2)">Brightness (mJy/beam)</text>
<clipPath id="c2"><rect x="470.6" y="32.4" width="360.0" height="280.0"/></clipPath>
<g clip-path="url(#c2)"><polyline points="470.3,265.9 485.3,276 500.3,212.3 515.3,265.2 530.3,137.9 545.3,238 560.3,192.3 575.3,229.4 590.3,181.9 605.3,134.5 620.3,287.8 635.3,238.3 650.3,188.9 665.3,217.9 680.3,166.8 695.3,180.2 710.3,272.3 725.3,234.9 740.3,197.5 755.3,228.8 770.3,228.5 785.3,228.6 800.3,299.2 815.3,44.5 830.3,84.3" fill="none" stroke="#1f77b4" stroke-width="2.08" stroke-linejoin="round" stroke-linecap="square"/>
<line x1="470.6" y1="168" x2="830.6" y2="168" stroke="#000" stroke-width="2.08" stroke-dasharray="7.71 3.33"/>
<line x1="470.6" y1="214" x2="830.6" y2="214" stroke="#000" stroke-width="2.08" stroke-dasharray="7.71 3.33"/>
<line x1="470.6" y1="259.2" x2="830.6" y2="259.2" stroke="#000" stroke-width="2.08" stroke-dasharray="7.71 3.33"/>
</g>
<rect x="470.5" y="32.5" width="360" height="280" fill="none" stroke="#000" stroke-width="1.11"/>
<line x1="470.5" y1="312.9" x2="470.5" y2="317.76" stroke="#000" stroke-width="1.11"/>
<text class="t n" x="470.5" y="332.9" text-anchor="middle">0</text>
<line x1="545.5" y1="312.9" x2="545.5" y2="317.76" stroke="#000" stroke-width="1.11"/>
<text class="t n" x="545.5" y="332.9" text-anchor="middle">20</text>
<line x1="620.5" y1="312.9" x2="620.5" y2="317.76" stroke="#000" stroke-width="1.11"/>
<text class="t n" x="620.5" y="332.9" text-anchor="middle">40</text>
<line x1="695.5" y1="312.9" x2="695.5" y2="317.76" stroke="#000" stroke-width="1.11"/>
<text class="t n" x="695.5" y="332.9" text-anchor="middle">60</text>
<line x1="770.5" y1="312.9" x2="770.5" y2="317.76" stroke="#000" stroke-width="1.11"/>
<text class="t n" x="770.5" y="332.9" text-anchor="middle">80</text>
<line x1="831.1" y1="51.5" x2="835.96" y2="51.5" stroke="#000" stroke-width="1.11"/>
<text class="t n" x="840" y="57.2" text-anchor="start">250</text>
<line x1="831.1" y1="84.5" x2="835.96" y2="84.5" stroke="#000" stroke-width="1.11"/>
<text class="t n" x="840" y="90.2" text-anchor="start">200</text>
<line x1="831.1" y1="116.5" x2="835.96" y2="116.5" stroke="#000" stroke-width="1.11"/>
<text class="t n" x="840" y="122.2" text-anchor="start">150</text>
<line x1="831.1" y1="149.5" x2="835.96" y2="149.5" stroke="#000" stroke-width="1.11"/>
<text class="t n" x="840" y="155.2" text-anchor="start">100</text>
<line x1="831.1" y1="181.5" x2="835.96" y2="181.5" stroke="#000" stroke-width="1.11"/>
<text class="t n" x="840" y="187.2" text-anchor="start">50</text>
<line x1="831.1" y1="213.5" x2="835.96" y2="213.5" stroke="#000" stroke-width="1.11"/>
<text class="t n" x="840" y="219.2" text-anchor="start">0</text>
<line x1="831.1" y1="246.5" x2="835.96" y2="246.5" stroke="#000" stroke-width="1.11"/>
<text class="t n" x="840" y="252.2" text-anchor="start"><tspan dx="-0.3" letter-spacing="-0.7">−</tspan>50</text>
<line x1="831.1" y1="279.5" x2="835.96" y2="279.5" stroke="#000" stroke-width="1.11"/>
<text class="t n" x="840" y="285.2" text-anchor="start"><tspan dx="-0.3" letter-spacing="-0.7">−</tspan>100</text>
<line x1="831.1" y1="311.5" x2="835.96" y2="311.5" stroke="#000" stroke-width="1.11"/>
<text class="t n" x="840" y="317.2" text-anchor="start"><tspan dx="-0.3" letter-spacing="-0.7">−</tspan>150</text>
<text class="t" x="650.6" y="352.6" text-anchor="middle">Time (s)</text>
<text class="T" transform="translate(650.6 23.8) scale(1 1.05)" text-anchor="middle">Light Curve</text>
<text class="t" x="893" y="172.6" text-anchor="middle" transform="rotate(-90 893 172.6)">Brightness (mJy/beam)</text>
<clipPath id="c4"><rect x="470.6" y="365.0" width="360.0" height="280.45000000000005"/></clipPath>
<g clip-path="url(#c4)" shape-rendering="crispEdges">
<path d="M470 645.3V501H472V450H474V439H476V445H478V462H480V499H482V523H483V558H485V579H487V591H489V606H491V616H493V620H495V624H497V628H499V633H501V634H503V638H505V640H507V641H509V642H511V642H513V642H515V643H516V643H518V643H520V644H522V644H524V644H526V644H528V644H530V644H532V644H534V644H536V645.3z" fill="#b2b2ff"/>
<path d="M470 645.3V426H477V383H484V378H491V428H498V478H504V528H511V554H518V583H525V599H532V615H539V621H546V629H552V630H559V633H566V634H573V639H580V639H587V642H594V642H600V643H607V643H614V644H621V644H628V644H635V644H642V644H648V645.3H655V644H662V645.3H669V644H676V644H683V644H690V644H696V645.3H703V645.3H710V645.3H717V645.3H724V644H731V645.3H738V645.3H744V645.3H751V645.3H758V645.3H765V645.3H772V645.3H779V645.3H786V644H793V645.3H799V645.3H806V644H813V645.3z" fill="#f00" fill-opacity="0.3"/>
</g>
<line x1="479" y1="644.8" x2="479" y2="365" stroke="#000" stroke-width="2.08" stroke-dasharray="7.71 3.33"/>
<line x1="526" y1="645.45" x2="526" y2="365" stroke="#000" stroke-width="2.08"/>
<rect x="470.5" y="365.5" width="360" height="280" fill="none" stroke="#000" stroke-width="1.11"/>
<line x1="470.5" y1="645.95" x2="470.5" y2="650.81" stroke="#000" stroke-width="1.11"/>
<text class="t n" x="470.5" y="665.9" text-anchor="middle">0.0</text>
<line x1="522.5" y1="645.95" x2="522.5" y2="650.81" stroke="#000" stroke-width="1.11"/>
<text class="t n" x="522.9" y="665.9" text-anchor="middle">2.5</text>
<line x1="575.5" y1="645.95" x2="575.5" y2="650.81" stroke="#000" stroke-width="1.11"/>
<text class="t n" x="575.3" y="665.9" text-anchor="middle">5.0</text>
<line x1="627.5" y1="645.95" x2="627.5" y2="650.81" stroke="#000" stroke-width="1.11"/>
<text class="t n" x="627.7" y="665.9" text-anchor="middle">7.5</text>
<line x1="680.5" y1="645.95" x2="680.5" y2="650.81" stroke="#000" stroke-width="1.11"/>
<text class="t n" x="680.1" y="665.9" text-anchor="middle">10.0</text>
<line x1="732.5" y1="645.95" x2="732.5" y2="650.81" stroke="#000" stroke-width="1.11"/>
<text class="t n" x="732.5" y="665.9" text-anchor="middle">12.5</text>
<line x1="784.5" y1="645.95" x2="784.5" y2="650.81" stroke="#000" stroke-width="1.11"/>
<text class="t n" x="784.9" y="665.9" text-anchor="middle">15.0</text>
<line x1="831.1" y1="645.5" x2="835.96" y2="645.5" stroke="#000" stroke-width="1.11"/>
<text class="t n" x="840" y="650.5" text-anchor="start">0</text>
<line x1="831.1" y1="609.5" x2="835.96" y2="609.5" stroke="#000" stroke-width="1.11"/>
<text class="t n" x="840" y="615.08" text-anchor="start">200</text>
<line x1="831.1" y1="574.5" x2="835.96" y2="574.5" stroke="#000" stroke-width="1.11"/>
<text class="t n" x="840" y="579.66" text-anchor="start">400</text>
<line x1="831.1" y1="538.5" x2="835.96" y2="538.5" stroke="#000" stroke-width="1.11"/>
<text class="t n" x="840" y="544.24" text-anchor="start">600</text>
<line x1="831.1" y1="503.5" x2="835.96" y2="503.5" stroke="#000" stroke-width="1.11"/>
<text class="t n" x="840" y="508.82" text-anchor="start">800</text>
<line x1="831.1" y1="467.5" x2="835.96" y2="467.5" stroke="#000" stroke-width="1.11"/>
<text class="t n" x="840" y="473.4" text-anchor="start">1000</text>
<line x1="831.1" y1="432.5" x2="835.96" y2="432.5" stroke="#000" stroke-width="1.11"/>
<text class="t n" x="840" y="437.98" text-anchor="start">1200</text>
<line x1="831.1" y1="397.5" x2="835.96" y2="397.5" stroke="#000" stroke-width="1.11"/>
<text class="t n" x="840" y="402.56" text-anchor="start">1400</text>
<text class="t" x="650.4" y="684.5" text-anchor="middle">Normalised stdev or detection statistics</text>
<text class="t" x="889.3" y="505.3" text-anchor="middle" transform="rotate(-90 889.3 505.3)">Number of Sources</text>
<rect x="618.2" y="370.4" width="406.4" height="65.6" rx="2.2" fill="#fff" fill-opacity="0.8" stroke="#ccc" stroke-opacity="0.8" stroke-width="1.11" transform="translate(0,0)" style="width:206.4px"/>
<rect x="621.9" y="375.4" width="23.1" height="7.7" fill="#b2b2ff"/>
<rect x="621.9" y="390.3" width="23.1" height="7.7" fill="#ffb2b2"/>
<line x1="621.9" y1="410.4" x2="645" y2="410.4" stroke="#000" stroke-width="2.08" stroke-dasharray="7.71 3.33"/>
<line x1="621.9" y1="425.2" x2="645" y2="425.2" stroke="#000" stroke-width="2.08"/>
<text class="l" x="653.3" y="383.1" text-anchor="start">Known srcs residual</text>
<text class="l" x="653.3" y="398" text-anchor="start">Known srcs detection statistic</text>
<text class="l" x="653.3" y="413.8" text-anchor="start">Candidate residual</text>
<text class="l" x="653.3" y="429" text-anchor="start">Candidate detection statistic</text>
</svg></body></html>
